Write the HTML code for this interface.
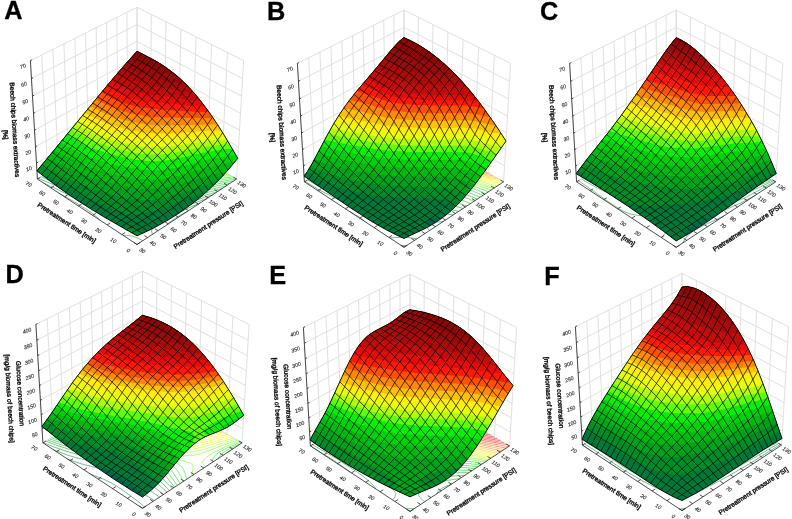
<!DOCTYPE html>
<html><head><meta charset="utf-8"><title>Figure</title>
<style>html,body{margin:0;padding:0;background:#fff}svg{display:block;font-family:"Liberation Sans",sans-serif}</style></head>
<body><svg width="792" height="519" viewBox="0 0 792 519">
<rect width="792" height="519" fill="#fff"/>
<g><path d="M37.4 179L30.4 60.6M47.9 173L41.7 55M58.3 167L52.9 49.4M68.6 161L63.9 43.9M78.7 155.2L74.8 38.4M88.8 149.4L85.5 33.1M98.7 143.7L96.1 27.8M108.4 138.1L106.5 22.6M118.1 132.6L116.8 17.4M127.6 127.1L126.9 12.4M137 121.7L137 7.3M236.6 179L243.6 60.6M221.5 170.4L227.4 52.5M206.8 161.9L211.6 44.6M192.3 153.5L196.1 36.9M178.1 145.4L180.9 29.3M164.1 137.3L166 21.8M150.4 129.4L151.3 14.5M137 121.7L137 7.3M37.4 179L137 121.7L236.6 179M36.4 163.1L137 106.2L237.5 163.1M35.5 146.8L137 90.5L238.5 146.8M34.5 130.2L137 74.5L239.5 130.2M33.5 113.3L137 58.1L240.5 113.3M32.5 96.1L137 41.5L241.5 96.1M31.4 78.5L137 24.6L242.5 78.5M30.4 60.6L137 7.3L243.6 60.6" fill="none" stroke="#dcdcdc" stroke-width="0.9"/>
<g fill="none" stroke-width="0.6" opacity="0.9"><path d="M166.8 224.9L169.4 222.4L174.2 218.9L179.4 215.7L187.7 211.2" stroke="#007838"/><path d="M152.3 234.5L151.6 231.1L152.1 229.2L154.3 226.1L157.4 223.6L162.7 220.4L172.3 215.6L188 208.2L199.9 203.1M58.6 193L73.5 201.3L87.1 209.7L95 215.4L99.9 220.2" stroke="#007838"/><path d="M142.8 240.7L136.8 237.7L132.2 236.1L126.6 235.2L123 235.4M43.3 182.9L58.7 190L88 204.9L101.5 211.3L119.9 219.3L124.5 220.8L129.9 221.8L133.9 221.9L141.2 221.2L146.2 220.2L155.2 217.8L168.7 213.3L195.7 202.6L207 198.5" stroke="#008c28"/><path d="M38.5 178.4L55.9 185.7L85.9 200L98.2 204.9L107.1 207.9L118.8 211.3L126.3 213.1L134.6 214.4L140.9 214.8L148.2 214.5L155.2 213.5L162.6 211.8L175.6 207.9L202 198.2L212.5 194.9" stroke="#008c28"/><path d="M41.3 176.8L58.6 184.1L85.1 196.3L97.7 201.1L106.7 203.9L123.9 208.1L131.8 209.6L140.3 210.6L147.1 210.8L153.6 210.3L159.4 209.5L166.8 207.9L178.4 204.5L204.3 195.5L217 191.9" stroke="#00a41c"/><path d="M44.8 174.7L61.8 182.2L78.7 190L95.1 196.4L108.8 200.5L123.7 203.9L134.2 205.9L141 206.7L146.2 207L153.3 206.8L160.4 206L166.6 204.8L178.1 201.8L204 193.3L222 188.6" stroke="#00a41c"/><path d="M48.3 172.8L77.9 186.5L87.9 190.6L96.3 193.6L107.7 197L122.5 200.4L132.9 202.4L143 203.6L154.8 203.7L162.1 202.9L167.9 201.8L179.2 198.9L205.3 190.7L226.3 185.8" stroke="#00bc10"/><path d="M51.7 170.8L79 183.9L88.9 188L97.3 191L108.7 194.3L121 197.2L133.9 199.7L142.4 200.7L148.7 201.1L155.7 200.9L161.5 200.3L168.7 199.2L179.1 196.6L206 188.5L215.6 186.2L230.1 183.3" stroke="#00bc10"/><path d="M55 168.9L70.7 177L79.9 181.4L89.7 185.5L98.2 188.4L109.6 191.7L124.2 195.2L134.6 197.1L144.6 198.3L156.4 198.4L163.8 197.6L169.1 196.7L178.8 194.3L206 186.5L218.2 183.8L233.5 181" stroke="#00d408"/><path d="M58.4 166.9L71.8 174.4L78.9 178L88.5 182.2L97.1 185.3L110.3 189.2L124.9 192.7L138 195L146.7 195.9L157.6 195.9L168.8 194.4L178.5 192.1L206.1 184.5L218.4 182L236.5 179" stroke="#00d408"/><path d="M61.7 165L78.1 174.6L89.4 179.7L97.5 182.8L111 186.8L125.5 190.2L135.8 192.1L146.9 193.4L157.2 193.5L168.5 192.2L175.9 190.6L206.1 182.6L218.7 180.2L234.6 177.9" stroke="#08f008"/><path d="M64.9 163.2L75.9 170.1L81 172.9L90.3 177.1L98.4 180.3L111.8 184.3L123.7 187.2L136.4 189.7L146.1 190.9L156.7 191.1L165.7 190.3L175.5 188.3L196.6 182.9L206.2 180.7L216.4 178.9L232.6 176.8" stroke="#08f008"/><path d="M68.1 161.3L79 168.3L84.1 171.1L91.5 174.5L99.4 177.7L110.4 181.1L124.6 184.6L136.6 187L145.5 188.2L155.9 188.6L166.4 187.7L176.1 185.8L203.9 179.3L216.8 177.2L230.7 175.6" stroke="#60ff08"/><path d="M70.4 160L79.6 166L86.3 169.8L93.7 173.2L101.7 176.3L112.7 179.6L127 183.1L136.8 185.1L145.4 186.2L156.2 186.7L165.9 185.9L175.2 184.3L204.7 177.9L215.3 176.3L229.3 174.8" stroke="#60ff08"/><path d="M72.6 158.7L86.9 167.5L94.1 171L102 174.1L112.9 177.5L124.6 180.5L136.8 183L145.4 184.2L156.3 184.7L165.5 184.1L174.4 182.6L203.1 176.9L216.4 175.1L227.9 174" stroke="#b0ff08"/><path d="M74.9 157.4L89.2 166.2L96.5 169.6L104.5 172.7L115.4 176L126.7 178.9L136.7 180.9L145.4 182.1L154.4 182.7L165.2 182.2L173.8 180.9L204 175.5L214.9 174.2L226.5 173.2" stroke="#b0ff08"/><path d="M77.1 156.2L84.9 161L91.5 164.8L97 167.4L104.9 170.5L115.7 173.9L126.4 176.6L136.4 178.7L145.4 180L154.4 180.6L165 180.2L177.6 178.5L202.3 174.5L216.2 173L225.1 172.4" stroke="#e8ff08"/><path d="M79.3 154.9L87.2 159.7L93.9 163.4L99.4 165.9L107.4 169L118.3 172.3L127.5 174.7L136.1 176.5L144.9 177.8L154.5 178.5L164.9 178.2L176.9 176.9L203.3 173.2L223.6 171.6" stroke="#e8ff08"/><path d="M81.5 153.6L94.5 161.1L101.8 164.5L107.8 166.8L118.6 170.1L127.8 172.5L137.6 174.6L144.6 175.6L154.6 176.4L164.7 176.2L176.2 175.3L201.6 172.2L222.2 170.8" stroke="#ffee08"/><path d="M83.7 152.3L96.8 159.8L108.2 164.6L125.7 169.8L135.3 172L143.1 173.3L154.6 174.3L164.5 174.3L175.5 173.6L202.7 170.9L220.7 169.9" stroke="#ffee08"/><path d="M85.9 151.1L97.4 157.6L108.5 162.5L125.8 167.7L135.4 169.9L143.1 171.2L154.5 172.3L167.6 172.4L178.5 171.8L200.9 169.9L219.2 169.1" stroke="#ffc008"/><path d="M88.7 149.5L100.2 155.9L111.4 160.8L128.8 166L143.3 168.8L155.1 169.9L167.9 170.2L201.7 168.4L217.3 168" stroke="#ffc008"/><path d="M91.4 147.9L102.9 154.3L114.2 159.1L129.4 163.7L142.5 166.3L152.5 167.5L164.7 168L215.4 166.8" stroke="#ff8808"/><path d="M94.2 146.3L105.6 152.8L114.8 156.8L129.8 161.4L141.9 163.9L152.8 165.3L164.9 165.9L213.4 165.7" stroke="#ff8808"/><path d="M97 144.7L108.2 151.2L117.5 155.3L130.3 159.2L141 161.5L153.1 163.1L165 163.8L211.3 164.5" stroke="#ff5008"/><path d="M99.8 143.1L109.2 148.8L118.1 153L128.5 156.4L140.2 159.1L150.7 160.6L165.1 161.7L192.6 162.9L209.2 163.3" stroke="#ff5008"/><path d="M102.6 141.5L111.9 147.2L118.9 150.6L128.3 153.9L139.2 156.5L148.1 158L156.8 158.9L188.7 161.2L207 162" stroke="#ff1808"/><path d="M104.9 140.1L114.1 145.9L121.1 149.3L129.3 152.1L138.4 154.4L154 156.7L190.5 160.1L205.1 160.9" stroke="#ff1808"/><path d="M107.2 138.8L114.8 143.6L121.6 147.1L129.6 150L138.5 152.3L148.7 154L186.7 158.5L203.1 159.8" stroke="#e40c0c"/><path d="M109.6 137.4L117.2 142.2L124 145.7L132.1 148.5L138.2 150.1L147.3 151.8L167.8 154.3L185.7 157.1L201.1 158.6" stroke="#e40c0c"/><path d="M112 136.1L119.7 140.8L124.8 143.4L130.5 145.7L137.3 147.7L146.4 149.6L168.2 152.7L184.8 155.6L198.9 157.3" stroke="#c40c0c"/><path d="M115.1 134.3L121.4 138L128.2 141.4L133.9 143.7L140.3 145.6L149.7 147.6L167.8 150.5L181.8 153.5L196 155.7" stroke="#c40c0c"/><path d="M118.2 132.5L129.7 138.7L135.3 141L141.4 143L150.4 145.3L167.8 148.7L181.3 151.8L192.8 153.8" stroke="#aa0c0c"/><path d="M121.3 130.7L133 136.8L138.5 139.1L144.5 141.2L155.5 144.1L189.4 151.9" stroke="#aa0c0c"/><path d="M124.5 128.8L136.1 134.9L147.5 139.4L158.1 142.6L185.5 149.6" stroke="#960c0c"/><path d="M127.8 127L139.3 133.1L150.3 137.8L160.5 141.2L181.1 147.1" stroke="#960c0c"/><path d="M131.1 125.1L142.3 131.3L151.1 135.4L160.7 139.1L175.7 144" stroke="#8a0808"/><path d="M134.4 123.2L150.3 132.1L159.3 136.2L168.1 139.6" stroke="#8a0808"/></g>
<g stroke="none" fill-rule="evenodd"><path d="M137 235.8L145.8 231.8L152.9 228.4L166.7 220.8L173.5 216.7L180.2 212.3L191.9 203.9L198.6 198.7L205.2 193.1L211.7 187L216.6 182.2L223.1 175.5L228 170L237.8 158.3L224.3 135.4L217.6 124.7L212.5 117.1L205.7 107.5L200.6 100.9L195.5 94.6L188.7 87.1L183.6 81.9L178.5 77.2L173.4 73L166.7 68L161.7 64.6L155 60.6L148.4 57L137 51.2L122.3 67.7L107.5 85.1L55.7 148.3L36.9 170.8L46.4 178.3L57.5 186.7L67.2 193.5L78.7 201.2L90.3 208.6L103.8 216.8L137 235.8Z" fill="#00644a"/><path d="M138.8 235L152.9 228.4L166.8 220.7L169.5 218.2L174.3 214.7L181.3 210.5L187.8 207L193.6 202.6L205.2 193.1L216.6 182.2L228 170L237.8 158.3L224.3 135.4L212.5 117.1L200.6 100.9L195.5 94.6L188.7 87.1L178.5 77.2L173.4 73L166.7 68L155 60.6L137 51.2L122.3 67.7L107.5 85.1L36.9 170.8L57.5 186.7L78.7 201.2L103.8 216.8L137 235.8Z" fill="#007838"/><path d="M138.8 235L142.9 233.2L138 230.7L134.6 229.3L129.6 228L126.5 227.7L123 227.9L137 235.8ZM200.2 193.6L207.3 191.1L210.1 188.6L218.2 180.6L224.8 173.7L237.8 158.3L224.3 135.4L212.5 117.1L200.6 100.9L195.5 94.6L188.7 87.1L178.5 77.2L173.4 73L166.7 68L155 60.6L137 51.2L122.3 67.7L107.5 85.1L36.9 170.8L42.9 175.6L58.4 182.6L91.6 199.4L115.6 210.2L122.1 212.7L127 214L133.1 214.5L136.9 214.3L142.7 213.5L151.9 211.4L168.8 205.9L200 193.7Z" fill="#008c28"/><path d="M213.9 182.3L217.5 181.3L228 170L237.8 158.3L231.1 146.7L219.3 127.3L207.4 109.8L197.2 96.7L187 85.3L176.8 75.8L171.7 71.7L165 66.8L153.3 59.7L137 51.2L122.3 67.7L107.5 85.1L40.7 166.3L58.1 173.6L84.8 185.8L95.2 189.7L106.5 193.3L118.9 196.3L129 198.5L137.4 199.7L143.7 200.1L150.9 199.9L156.6 199.3L164.6 197.8L178.7 193.9L202.5 185.6L211.8 182.8Z" fill="#00a41c"/><path d="M223.6 171.9L227 171.1L237.8 158.3L220.9 130L207.4 109.8L198.9 98.7L192.1 90.8L183.6 81.9L175.1 74.4L166.7 68L158.3 62.5L150 57.9L137 51.2L122.3 67.7L107.5 85.1L47.5 158.2L77.4 171.8L87.4 175.9L96 178.9L107.5 182.2L117.3 184.5L132.9 187.6L141.4 188.7L147.8 189.1L155 188.9L162.4 188.1L168.2 187L179.6 184.2L204.4 176.4L222 172.2Z" fill="#00bc10"/><path d="M232 162.7L234.6 162.2L237.8 158.3L226 138.2L215.9 122.1L205.7 107.5L195.5 94.6L188.7 87.1L183.6 81.9L176.8 75.8L170 70.4L163.3 65.7L156.7 61.6L137 51.2L122.3 67.7L107.5 85.1L54.1 150.2L77.3 161.7L87.1 165.9L95.6 168.9L106.9 172.2L119 175.2L131.9 177.7L143.2 179.2L149.5 179.5L156.6 179.4L164.1 178.6L169.5 177.7L179.2 175.4L206.8 167.7L216.6 165.5L229.9 163.1Z" fill="#00d408"/><path d="M233.3 155.3L235.9 154.9L226 138.2L217.6 124.7L210.8 114.6L204 105.3L197.2 96.7L190.4 88.9L185.3 83.6L178.5 77.2L173.4 73L166.7 68L155 60.6L137 51.2L122.3 67.7L107.5 85.1L60.6 142.3L77.3 151.7L86.8 155.9L94.9 159.1L107.7 163L120.3 166L133.1 168.6L144.3 170.1L154.2 170.5L160.5 170.2L166.2 169.5L176.4 167.5L207.1 159.6L217.2 157.7L232.1 155.5Z" fill="#08f008"/><path d="M232.2 148.5L219.3 127.3L209.1 112.2L197.2 96.7L187 85.3L176.8 75.8L171.7 71.7L165 66.8L153.3 59.7L137 51.2L124 65.8L109.2 83.1L67.1 134.4L78.1 141.3L83.2 144.1L90.7 147.4L98.8 150.6L112.3 154.5L126.6 157.9L136.5 159.8L145.7 160.9L156.2 161.3L166.9 160.4L176.8 158.6L205 152.2L218.1 150.1L229.5 148.8Z" fill="#60ff08"/><path d="M229.5 144L217.6 124.7L207.4 109.8L195.5 94.6L185.3 83.6L175.1 74.4L165 66.8L153.3 59.7L137 51.2L110.8 81.1L71.5 129L86 137.6L93.3 141L101.4 144.1L112.5 147.5L124.4 150.4L136.8 152.9L145.6 154.1L156.6 154.6L166 153.9L175.1 152.5L204.3 146.9L217.9 145L229.2 144.1Z" fill="#b0ff08"/><path d="M226.8 139.5L215.9 122.1L205.7 107.5L195.5 94.6L185.3 83.6L175.1 74.4L165 66.8L153.3 59.7L137 51.2L110.8 81.1L75.9 123.5L83.9 128.3L90.7 132L96.2 134.5L104.3 137.6L115.3 140.9L126.2 143.6L136.4 145.7L145.5 146.9L154.7 147.5L165.6 147.1L178.4 145.5L203.6 141.6L214.8 140.3L225.1 139.6Z" fill="#e8ff08"/><path d="M224 134.9L214.2 119.6L204 105.3L193.8 92.7L183.6 81.9L173.4 73L163.3 65.7L153.3 59.7L137 51.2L112.5 79.2L80.4 118.1L93.6 125.5L101.1 128.8L107.2 131L125.2 136.1L135.1 138.2L143.1 139.4L154.9 140.4L165.3 140.3L177 139.3L202.9 136.3L221.1 135Z" fill="#ffee08"/><path d="M221.1 130.3L210.8 114.6L200.6 100.9L192.1 90.8L181.9 80.3L173.4 73L163.3 65.7L153.3 59.7L137 51.2L114.1 77.3L84.8 112.7L96.5 119L107.9 123.8L125.6 129L135.3 131.1L143.2 132.4L154.9 133.5L168.3 133.5L179.4 132.9L202.4 131.1L220.8 130.3Z" fill="#ffc008"/><path d="M217.3 124.4L207.4 109.8L198.9 98.7L190.4 88.9L180.2 78.8L171.7 71.7L161.7 64.6L151.7 58.8L137 51.2L115.8 75.3L90.3 105.9L102.1 112.2L111.5 116.1L126.8 120.7L141.6 123.7L152.9 125L165.4 125.5L214.4 124.4Z" fill="#ff8808"/><path d="M213.3 118.3L204 105.3L195.5 94.6L187 85.3L178.5 77.2L170 70.4L160 63.6L150 57.9L137 51.2L117.4 73.4L95.9 99.1L105.7 104.5L114.9 108.6L127.8 112.6L139.9 115.2L150.7 116.7L162.6 117.6L211.7 118.3Z" fill="#ff5008"/><path d="M209 112.2L200.6 100.9L193.8 92.7L185.3 83.6L176.8 75.8L168.4 69.2L160 63.6L150 57.9L137 51.2L120.7 69.6L101.6 92.2L111.1 97.8L118.4 101.1L126.7 103.9L138.3 106.7L148.5 108.3L157.3 109.2L190.3 111.4L205.9 112.1Z" fill="#ff1808"/><path d="M205.2 106.8L197.2 96.7L190.4 88.9L183.6 81.9L175.1 74.4L166.7 68L158.3 62.5L150 57.9L137 51.2L122.3 67.7L106.3 86.5L114.1 91.2L121.1 94.6L129.3 97.4L138.6 99.6L149 101.2L188.2 105.6L203 106.7Z" fill="#e40c0c"/><path d="M201 101.3L193.8 92.7L187 85.3L180.2 78.8L171.7 71.7L165 66.8L156.7 61.6L137 51.2L111.2 80.7L119.2 85.3L124.4 87.8L130.3 90L136.8 91.9L146.7 93.8L169.2 96.8L186.3 99.7L200.3 101.3Z" fill="#c40c0c"/><path d="M194.8 93.8L188.7 87.1L181.9 80.3L176.8 75.8L170 70.4L163.3 65.7L156.7 61.6L137 51.2L117.5 73.2L129.5 79.2L135.2 81.4L141.5 83.4L150.8 85.6L193.2 93.6Z" fill="#aa0c0c"/><path d="M187.4 85.7L176.8 75.8L171.7 71.7L165 66.8L153.3 59.7L137 51.2L124.1 65.7L136.1 71.5L147.8 75.9L158.8 78.9L186.8 85.6Z" fill="#960c0c"/><path d="M177.2 76.1L168.4 69.2L160 63.6L150 57.9L137 51.2L130.8 58L142.5 64L151.7 67.9L161.7 71.4L176.7 76Z" fill="#8a0808"/></g>
<path d="M142.3 233.4L110.8 213.8L93.1 202.1L78.2 191.7L63.5 181.1L42 164.7M147.6 231L116.1 209.7L105.9 202.6L47.2 158.6M152.9 228.4L113.7 199.7L78.7 171.9L64.2 161L52.3 152.4M158.1 225.6L118.9 194.6L96.2 175.1L83.8 165L71.7 156L57.4 146.3M163.2 222.8L129.2 193.5L106.3 172.9L93.9 162.1L86.5 156.3L79.2 150.9L74.4 147.6L62.4 140.1M168.4 219.8L119.1 173.2L109 164L101.5 157.5L94.1 151.5L84.3 144.3L79.4 141.1L67.5 133.9M173.5 216.7L137 179.1L126.7 169.1L114.1 157.5L104.1 149.1L94.2 141.5L84.5 134.9L72.6 127.7M178.6 213.4L147.2 178.3L139.5 170.2L129.3 160.3L114.2 147.1L101.8 137.3L92 130.4L77.6 121.5M183.6 210L173.1 197.5L157.5 178.3L152.4 172.3L144.6 164L137 156.5L129.3 149.7L121.8 143.3L106.9 131.4L97.1 124.4L82.6 115.3M188.6 206.4L178.2 193.2L165.2 176.1L160 169.6L154.9 163.6L147.2 155.6L139.5 148.4L131.9 141.7L121.9 133.3L111.9 125.4L102.1 118.3L94.8 113.5L87.6 109.2M193.6 202.6L183.2 188.8L170.3 170.9L165.1 164.2L160 158.1L152.2 150.1L144.6 142.9L137 136L126.9 127.4L117 119.3L107.1 112L99.8 107.4L92.6 103.1M198.6 198.7L190.8 188L177.9 169.5L172.7 162.4L165 153.1L157.3 144.9L149.6 137.4L139.5 128L129.4 119.2L122 113L117 109.2L112.1 105.7L104.8 101.2L97.6 97M203.5 194.5L195.7 183.6L182.9 164.7L177.7 157.6L170 148.2L159.8 137.1L149.6 127L142 119.8L134.5 113L127 106.8L122 102.9L117.1 99.5L109.8 95L102.6 91M208.4 190.1L203.3 182.8L187.9 159.8L182.7 152.8L177.6 146.3L172.4 140.3L159.7 126.4L152.1 118.7L144.5 111.5L137 104.9L132 100.7L124.6 95.1L119.7 91.8L107.5 85.1M213.3 185.5L195.4 158.8L187.7 148L182.6 141.3L177.4 135.1L164.7 120.8L157.1 113L152 108.1L144.5 101.3L137 94.9L132 91.1L127.1 87.7L119.7 83.2L112.5 79.2M218.2 180.6L200.3 153.7L192.6 142.8L182.4 129.6L177.3 123.6L169.6 115.1L164.6 109.9L157 102.6L149.4 95.7L141.9 89.3L137 85.5L132 82.1L124.7 77.5L117.4 73.4M223.1 175.5L205.3 148.3L197.6 137.3L187.4 123.8L182.3 117.6L177.2 111.9L172.1 106.7L159.4 94.6L151.9 87.8L146.9 83.6L141.9 79.8L137 76.4L129.6 71.9L122.3 67.7M228 170L210.2 142.5L200 127.7L194.9 120.7L189.8 114.3L182.1 105.6L177 100.4L161.8 86L154.3 79.5L149.3 75.7L141.9 70.6L137 67.6L127.2 62.1M232.9 164.3L215.1 136L205 120.8L199.9 113.8L194.8 107.3L187.1 98.6L182 93.3L171.8 83.6L164.3 76.9L159.2 73L154.2 69.4L146.8 64.7L132.1 56.6M131.6 232.8L139.6 228.7L147.5 224.5L160.5 216.6L173.3 207.6L180.9 201.8L188.4 195.8L203.3 182.8L213.1 173L222.9 162.1L227.8 156L232.8 149.5M126.3 229.8L134.3 225.3L142.2 220.6L150.1 215.5L155.2 211.8L168 201.8L183.2 188.8L198.1 175.2L205.5 167.8L210.5 162.6L215.4 157.1L220.3 151.2L225.2 144.6L227.7 141M121.1 226.8L134.3 218.5L144.8 211.1L155.1 202.7L165.4 193.5L193 167.4L202.9 157.5L207.8 152.2L212.7 146.4L217.7 140L222.6 132.7M115.8 223.8L129.1 214.9L137 208.9L144.8 202.3L152.5 195L172.8 174.4L192.8 155L200.2 147.4L205.2 141.7L210.1 135.4L217.6 124.7M110.7 220.8L121.3 213.2L129.2 207.1L137 200.2L142.1 195L167.7 167.5L187.7 148L195.1 140.1L202.5 131.3L207.5 124.5L212.5 117.1M105.5 217.8L113.5 211.8L121.4 205.5L126.6 200.8L131.8 195.7L139.5 187.2L154.9 169.4L160 163.7L165.1 158.5L182.6 141.3L190 133.3L197.4 124.1L202.4 117.2L207.4 109.8M100.4 214.7L108.4 208.4L116.2 201.7L121.5 196.7L126.7 191.2L131.8 185.3L147.2 166.6L152.3 160.8L159.9 152.8L174.9 137.7L184.9 126.8L192.3 117.4L197.3 110.5L202.3 103M95.3 211.7L108.5 200.2L113.8 195.2L119 189.7L124.1 183.6L137 167.6L144.6 158.5L152.2 150.1L169.8 131.9L179.8 120.7L187.2 111.2L192.2 104.2L197.2 96.7M90.3 208.6L103.5 196.4L111.3 188.1L116.4 182L131.9 162.7L137 156.5L144.6 148L162.2 129.1L172.2 117.8L177.2 111.9L182.1 105.6L187.1 98.6L192.1 90.8M85.3 205.4L95.8 195.2L103.6 186.8L111.4 177.4L124.2 161.2L131.9 152L154.6 126.7L172.1 106.7L177 100.4L179.5 96.9L187 85.3M80.3 202.2L88.2 194.2L96 185.6L103.8 176.2L116.6 159.8L124.3 150.5L169.5 98.8L174.4 92.1L181.9 80.3M75.4 199L83.2 190.6L91 181.6L109 158.6L116.7 149.2L131.9 131.7L149.5 111L159.5 99.9L164.4 94L169.4 87.3L176.8 75.8M70.5 195.7L78.3 187L83.5 180.8L101.5 157.5L109.1 148.1L126.9 127.4L142 109.2L156.9 92.3L164.3 82.6L171.7 71.7M65.6 192.4L73.4 183.4L78.6 177.1L99.1 150.2L119.4 126.4L137 104.9L149.4 90.7L154.3 84.7L159.3 78.3L166.7 68M60.7 189L68.5 179.8L73.7 173.3L89 152.9L94.1 146.4L114.4 122.4L132 100.7L149.4 80.6L161.7 64.6M55.9 185.5L66.3 173L81.6 152.6L89.3 142.9L107 121.7L127 96.9L144.4 76.9L156.7 61.6M51.1 182L61.4 169.4L76.8 149.2L84.4 139.5L102.1 118.3L122.1 93.4L139.4 73.5L151.7 58.8M46.4 178.3L56.7 165.8L77 139.6L97.2 115.1L114.7 93.3L146.7 56.1M41.6 174.6L54.4 159L74.8 133.6L109.9 90.6L122.2 76.1L141.8 53.7" fill="none" stroke="#000" stroke-width="0.7"/>
<path d="M137 235.8L145.8 231.8L152.9 228.4L166.7 220.8L173.5 216.7L180.2 212.3L191.9 203.9L198.6 198.7L205.2 193.1L211.7 187L216.6 182.2L223.1 175.5L228 170L237.8 158.3L224.3 135.4L217.6 124.7L212.5 117.1L205.7 107.5L200.6 100.9L195.5 94.6L188.7 87.1L183.6 81.9L178.5 77.2L173.4 73L166.7 68L161.7 64.6L155 60.6L148.4 57L137 51.2L122.3 67.7L107.5 85.1L55.7 148.3L36.9 170.8L46.4 178.3L57.5 186.7L67.2 193.5L78.7 201.2L90.3 208.6L103.8 216.8L137 235.8Z" fill="none" stroke="#000" stroke-width="0.9"/>
<path d="M30.4 60.6L37.4 179L137 244.5L236.6 179M36.4 163.1L38 162.2M35.5 146.8L37.1 145.9M34.5 130.2L36.1 129.4M33.5 113.3L35.1 112.5M32.5 96.1L34.1 95.2M31.4 78.5L33.1 77.7M30.4 60.6L32.1 59.8M137 244.5L140.2 242.4M121.9 234.6L125.1 232.6M107.1 224.9L110.3 222.9M92.6 215.4L95.8 213.4M78.4 206L81.6 204.1M64.4 196.8L67.6 194.9M50.8 187.9L54 186M37.4 179L40.5 177.2M137 244.5L133.8 242.4M147.6 237.6L144.4 235.5M158 230.7L154.8 228.7M168.3 223.9L165.1 221.9M178.5 217.3L175.3 215.3M188.5 210.7L185.3 208.7M198.4 204.2L195.2 202.2M208.1 197.8L204.9 195.8M217.7 191.4L214.5 189.6M227.2 185.2L224 183.3M236.6 179L233.4 177.2" fill="none" stroke="#222" stroke-width="0.8"/>
<g font-size="5.3" fill="#222" stroke="#222" stroke-width="0.12" font-style="italic"><text x="32.4" y="169.6" text-anchor="end" transform="rotate(-20 32.4 169.6)">10</text><text x="31.5" y="153.3" text-anchor="end" transform="rotate(-20 31.5 153.3)">20</text><text x="30.5" y="136.7" text-anchor="end" transform="rotate(-20 30.5 136.7)">30</text><text x="29.5" y="119.8" text-anchor="end" transform="rotate(-20 29.5 119.8)">40</text><text x="28.5" y="102.6" text-anchor="end" transform="rotate(-20 28.5 102.6)">50</text><text x="27.4" y="85" text-anchor="end" transform="rotate(-20 27.4 85)">60</text><text x="26.4" y="67.1" text-anchor="end" transform="rotate(-20 26.4 67.1)">70</text><text x="127.5" y="252" text-anchor="middle" transform="rotate(30 127.5 252)">0</text><text x="112.4" y="242" text-anchor="middle" transform="rotate(30 112.4 242)">10</text><text x="97.6" y="232.1" text-anchor="middle" transform="rotate(30 97.6 232.1)">20</text><text x="83.1" y="222.5" text-anchor="middle" transform="rotate(30 83.1 222.5)">30</text><text x="68.9" y="213.1" text-anchor="middle" transform="rotate(30 68.9 213.1)">40</text><text x="55" y="203.8" text-anchor="middle" transform="rotate(30 55 203.8)">50</text><text x="41.3" y="194.7" text-anchor="middle" transform="rotate(30 41.3 194.7)">60</text><text x="27.9" y="185.8" text-anchor="middle" transform="rotate(30 27.9 185.8)">70</text><text x="141.2" y="252" text-anchor="middle" transform="rotate(33 141.2 252)">30</text><text x="151.8" y="244.9" text-anchor="middle" transform="rotate(33 151.8 244.9)">40</text><text x="162.2" y="238" text-anchor="middle" transform="rotate(33 162.2 238)">50</text><text x="172.5" y="231.2" text-anchor="middle" transform="rotate(33 172.5 231.2)">60</text><text x="182.7" y="224.4" text-anchor="middle" transform="rotate(33 182.7 224.4)">70</text><text x="192.7" y="217.8" text-anchor="middle" transform="rotate(33 192.7 217.8)">80</text><text x="202.6" y="211.2" text-anchor="middle" transform="rotate(33 202.6 211.2)">90</text><text x="212.3" y="204.7" text-anchor="middle" transform="rotate(33 212.3 204.7)">100</text><text x="221.9" y="198.3" text-anchor="middle" transform="rotate(33 221.9 198.3)">110</text><text x="231.4" y="192.1" text-anchor="middle" transform="rotate(33 231.4 192.1)">120</text><text x="240.7" y="185.8" text-anchor="middle" transform="rotate(33 240.7 185.8)">130</text></g>
<g font-size="6.55" fill="#111" stroke="#111" stroke-width="0.4"><text x="65.5" y="224.7" text-anchor="middle" transform="rotate(33.3 65.5 224.7)">Pretreatment time [min]</text><text x="209.5" y="226.7" text-anchor="middle" transform="rotate(-33.3 209.5 226.7)">Pretreatment pressure [PSI]</text><g transform="translate(12.5 129.8) rotate(86.6)"><text x="0" y="0" text-anchor="middle">Beech chips biomass extractives</text><text x="4.5" y="9.5" text-anchor="middle">[%]</text></g></g></g>
<g><path d="M304.4 181.8L297.4 63.4M314.9 175.8L308.7 57.8M325.3 169.8L319.9 52.2M335.6 163.8L330.9 46.7M345.7 158L341.8 41.2M355.8 152.2L352.5 35.9M365.7 146.5L363.1 30.6M375.4 140.9L373.5 25.4M385.1 135.4L383.8 20.2M394.6 129.9L393.9 15.2M404 124.5L404 10.1M503.6 181.8L510.6 63.4M488.5 173.2L494.4 55.3M473.8 164.7L478.6 47.4M459.3 156.3L463.1 39.7M445.1 148.2L447.9 32.1M431.1 140.1L433 24.6M417.4 132.2L418.3 17.3M404 124.5L404 10.1M304.4 181.8L404 124.5L503.6 181.8M303.4 165.9L404 109L504.5 165.9M302.5 149.6L404 93.3L505.5 149.6M301.5 133L404 77.3L506.5 133M300.5 116.1L404 60.9L507.5 116.1M299.5 98.9L404 44.3L508.5 98.9M298.4 81.3L404 27.4L509.5 81.3M297.4 63.4L404 10.1L510.6 63.4" fill="none" stroke="#dcdcdc" stroke-width="0.9"/>
<g fill="none" stroke-width="0.6" opacity="0.9"><path d="M429.6 230.5L428.1 228.8L427.4 227.4L427.1 226L428.2 224.4L430 223.4L435 222.1L443.1 221.6M349.1 211.2L359.8 217.4L362.9 219.8L364.7 221.5" stroke="#007838"/><path d="M416.8 238.9L410.6 237.8L402.7 237.3L396 237.5L390 238.1M305.1 181.4L319.8 190.3L334.4 197.6L348.8 203.2L355.5 205.3L365.1 207.8L375.5 209.8L386.9 211.2L399.7 211.8L421.7 211.7L432.6 212L442.3 213.1L453 215.1" stroke="#007838"/><path d="M407 245.4L401.4 245.6M307.6 180L319.2 186.7L332.5 192.7L345.4 197.1L362.1 201.3L375.3 203.6L389.7 205.2L402.4 205.8L426.6 206.2L438.1 207L447.3 208.4L458.6 211.4" stroke="#008c28"/><path d="M309.7 178.8L320 184.3L331.8 189.2L347.4 193.9L362.1 197.2L378.1 199.8L389.6 201L402.1 201.7L428.5 202.2L440.8 203L451.4 205L463 208.5" stroke="#008c28"/><path d="M311.5 177.7L322.4 182.9L334.8 187.4L348.6 191.1L366.2 194.7L379.7 196.7L393.2 198.1L404.1 198.5L430.2 199L442.5 199.7L453.2 201.6L459.5 203.4L466.7 206.1" stroke="#00a41c"/><path d="M313.6 176.5L325 181.4L335.7 184.9L349.7 188.4L367.5 191.9L381.1 193.8L395.2 195.1L408.6 195.5L435 195.9L447.2 196.8L457.5 198.8L464.3 201L470.6 203.6" stroke="#00a41c"/><path d="M315.5 175.4L325.3 179.3L336.2 182.7L352.9 186.6L368.3 189.4L382.5 191.3L396.7 192.5L409.5 192.9L436 193.1L448.4 193.8L455.4 194.8L461.4 196.3L467.9 198.6L474 201.3" stroke="#00bc10"/><path d="M317.3 174.4L327.5 178L338.7 181.2L353.2 184.4L371.3 187.5L385.2 189.3L397.4 190.2L411.5 190.6L439.7 190.8L452.1 191.4L457.9 192.3L464.8 194.1L471.2 196.5L477.2 199.2" stroke="#00bc10"/><path d="M319.1 173.3L329.7 176.8L343.6 180.3L361 183.7L379.6 186.5L391.1 187.7L401 188.2L446.3 188.7L458.2 189.6L463.3 190.7L467.9 192L480.2 197.2" stroke="#00d408"/><path d="M320.9 172.3L334.1 176.1L348.4 179.4L366.1 182.6L382.3 184.9L391 185.7L403.2 186.4L449.5 186.7L459.9 187.5L464.8 188.4L470.8 190.2L483 195.4" stroke="#00d408"/><path d="M322.7 171.3L333.8 174.3L350.7 178L368.6 181.2L384.9 183.3L406 184.7L428.8 185L452.4 184.8L461.4 185.5L466.6 186.4L471.3 187.7L485.8 193.6" stroke="#08f008"/><path d="M324.4 170.3L335.9 173.1L355.5 177.1L373.5 180.2L387.3 181.9L399.2 182.7L411.8 183.2L431.4 183.4L455.1 183.1L464 183.8L469.1 184.8L473.7 186.1L488.4 191.8" stroke="#08f008"/><path d="M326.2 169.2L338.9 172.2L362.8 176.7L378.5 179.2L389.6 180.5L401.6 181.3L414.2 181.7L433.7 181.9L454.4 181.5L463.9 181.9L469 182.7L473.7 184L491 190.1" stroke="#60ff08"/><path d="M327.8 168.3L340.5 171.1L367.2 176L380.3 178.1L391.5 179.3L403.5 180.1L419.3 180.6L435.3 180.7L456.4 180.2L465.6 180.7L473.2 182.2L493.2 188.6" stroke="#60ff08"/><path d="M329.4 167.4L371.6 175.4L382.1 177L393.3 178.2L408.5 179.1L427.5 179.6L458.3 179L467.3 179.5L474.8 181.1L488.2 185.4L495.4 187.2" stroke="#b0ff08"/><path d="M331 166.5L375.9 174.8L395.1 177.1L410.3 178L428.3 178.5L457 177.8L467.7 178.3L474 179.5L489.9 184.3L497.7 185.7" stroke="#b0ff08"/><path d="M332.7 165.5L375 173.4L388.3 175.3L402.8 176.5L427.7 177.4L439.7 177.4L458.4 176.8L465.4 177L473 178L491.6 183.2L499.9 184.3" stroke="#e8ff08"/><path d="M334.4 164.5L376.7 172.4L389.9 174.3L401.4 175.3L428.1 176.4L439.3 176.4L456.8 175.8L466.3 176L474.4 177.1L485.9 180.4L493.2 182.1L498.5 182.7L502.1 182.8" stroke="#e8ff08"/><path d="M336.1 163.5L353.7 166.6L378.3 171.4L391.5 173.3L403.1 174.3L427.6 175.4L439.6 175.4L458.3 174.8L467.7 175.1L473.4 175.8L492.2 180.6L497.7 181.3L502.8 181.4" stroke="#ffee08"/><path d="M338 162.5L354 165.2L379.8 170.5L393.1 172.4L401.7 173.2L428.1 174.4L439.1 174.4L459.8 173.8L467 174L474.3 175L491 179.2L496.4 180L500.8 180.2" stroke="#ffee08"/><path d="M339.9 161.4L355.4 164L381.3 169.6L394.6 171.5L403.2 172.2L427.5 173.4L439.7 173.5L458.4 172.9L467.5 173.1L475.5 174.3L490.3 178L498.7 179" stroke="#ffc008"/><path d="M342.5 159.9L357.4 162.5L383.2 168.4L393.7 170L405.1 171L427.8 172.2L439.2 172.3L459.7 171.7L466.6 171.9L474.4 172.9L488.8 176.4L496 177.5" stroke="#ffc008"/><path d="M345.2 158.3L357.5 160.6L385.1 167.3L392.9 168.6L407 169.9L425.6 171L437.8 171.1L460.9 170.5L467.9 170.8L473.3 171.5L487.7 174.9L493.2 175.9" stroke="#ff8808"/><path d="M348.2 156.6L360.1 159.1L384.6 165.7L393.3 167.3L408.8 168.8L426.9 169.8L439.8 169.9L460.3 169.3L466.6 169.5L474.2 170.6L490.4 174.2" stroke="#ff8808"/><path d="M351.3 154.8L360.6 156.9L384.2 164L393.9 166L407.8 167.5L425.7 168.5L438.1 168.6L465.3 168.3L473.5 169.3L487.4 172.5" stroke="#ff5008"/><path d="M354.8 152.8L363.4 155.2L385.7 162.6L390.8 163.9L395.7 164.8L409.8 166.2L427.8 167.2L464.9 167.1L473.3 168.2L484.4 170.8" stroke="#ff5008"/><path d="M358.4 150.7L384.2 160.1L390.6 162.1L395.4 163.1L409 164.7L426.8 165.8L436.9 166L459.2 165.7L465.7 165.9L471.2 166.6L481.3 169" stroke="#ff1808"/><path d="M361 149.2L377.9 156.2L385.8 159.2L392.2 161.2L397 162.2L410.5 163.8L425.3 164.8L464.6 165.1L472.1 166.1L479.2 167.8" stroke="#ff1808"/><path d="M363.6 147.7L377.9 154.3L385.5 157.4L391.7 159.5L398.7 161.2L412.1 162.8L426.7 163.8L463 164.1L470.5 165L477 166.5" stroke="#e40c0c"/><path d="M366.2 146.2L378.2 152.3L387.4 156.3L393.5 158.5L400.5 160.1L411 161.6L425.4 162.7L461.3 163.1L468.9 163.9L474.7 165.2" stroke="#e40c0c"/><path d="M368.8 144.7L378.6 150.2L387.5 154.4L395.4 157.3L402.3 159L410 160.2L421.2 161.3L433.3 161.8L459.5 162L467.3 162.8L472.4 163.9" stroke="#c40c0c"/><path d="M373 142.3L382.3 148L390.9 152.4L398.7 155.4L405.5 157.1L413.1 158.4L422.4 159.3L433.2 159.9L456.2 160.2L463.8 160.8L468.5 161.6" stroke="#c40c0c"/><path d="M377.1 139.9L386 145.8L394.4 150.3L402.1 153.3L408.9 155.1L416.4 156.3L424.7 157.2L433.6 157.7L452.6 158.1L464.2 159.2" stroke="#aa0c0c"/><path d="M381.1 137.7L389.9 143.6L396.4 147.2L403.9 150.4L410.3 152.3L417.5 153.7L425.6 154.7L452 155.8L459.7 156.5" stroke="#aa0c0c"/><path d="M384.9 135.5L392.3 140.3L398.7 144L406 147.3L412.1 149.3L419.2 150.8L427 151.9L454.6 153.6" stroke="#960c0c"/><path d="M388.7 133.3L396.4 137.9L403 141.5L408.4 143.9L414.5 146L421.3 147.6L426.4 148.4L448.9 150.4" stroke="#960c0c"/><path d="M392.7 131L405.9 138L415.3 141.8L420.8 143.3L426.5 144.5L442.2 146.5" stroke="#8a0808"/><path d="M397.2 128.4L409.2 134.2L416.6 137.2L424.9 139.8L433.6 141.5" stroke="#8a0808"/></g>
<g stroke="none" fill-rule="evenodd"><path d="M404 238.4L423.3 229.4L428.5 226.6L433.7 223.7L438.8 220.3L443.9 216.6L449 212.5L454 208L459.1 203L464.1 197.5L469.1 191.7L475.8 183.3L485.9 169.7L506 141.1L499.1 130.4L492.2 120.2L480.2 103.5L473.3 94.7L466.4 86.5L461.3 80.7L454.4 73.5L449.2 68.4L442.4 62.2L435.6 56.6L428.9 51.6L423.8 48.2L417.2 44.1L410.5 40.6L404 37.6L402.3 38.7L399.1 41.5L395.8 44.9L392.5 48.5L374.2 70.6L355.8 92.2L350.8 98.5L345.7 105.3L339 115.2L334 123.3L327.3 135.1L312.4 163.1L307.4 171.4L304 176.1L349 206.8L367.4 218.8L377.7 225L386.3 229.8L395.1 234.3L404 238.4Z" fill="#00644a"/><path d="M405.8 237.6L421.6 230.2L429.7 226L428.2 224.3L427.4 222.9L427.2 221.5L428.2 220L430.1 218.9L435 217.7L443.2 217.2L449 212.5L455.7 206.3L465.8 195.6L475.8 183.3L485.9 169.7L506 141.1L492.2 120.2L480.2 103.5L466.4 86.5L454.4 73.5L442.4 62.2L435.6 56.6L428.9 51.6L417.2 44.1L410.5 40.6L404 37.6L399.1 41.5L392.5 48.5L374.2 70.6L355.8 92.2L345.7 105.3L339 115.2L334 123.3L327.3 135.1L312.4 163.1L307.4 171.4L304 176.1L348.9 206.8L359.6 213L362.8 215.3L364.5 217L367.4 218.8L386.3 229.8L395.1 234.3L404 238.4Z" fill="#007838"/><path d="M405.8 237.6L407 237L401.3 237.2L404 238.4ZM459.1 203L467.5 193.7L477.5 181.1L485.9 169.7L506 141.1L490.5 117.7L475 96.9L461.3 80.7L454.4 73.5L445.8 65.2L437.3 58L427.2 50.4L417.2 44.1L407.2 39L404 37.6L400.7 40.1L397.4 43.1L390.8 50.5L374.2 70.6L355.8 92.2L344 107.7L337.3 117.8L332.3 126.2L314.1 160.1L307.1 171.9L318.8 178.6L332.2 184.5L345.1 188.9L361.9 193.1L375.1 195.4L389.7 197L402.4 197.6L426.7 197.9L438.2 198.7L447.5 200.2L458.9 203.1Z" fill="#008c28"/><path d="M467.5 193.7L474.2 185.4L482.6 174.3L506 141.1L495.7 125.2L487.1 112.8L478.5 101.3L469.9 90.5L461.3 80.7L452.7 71.7L444.1 63.7L435.6 56.6L428.9 51.6L420.5 46.1L412.2 41.4L404 37.6L400.7 40.1L397.4 43.1L390.8 50.5L374.2 70.6L355.8 92.2L344 107.7L337.3 117.8L332.3 126.2L310.9 165.8L316.1 168.5L321.8 171L334.3 175.4L350.6 179.7L365.9 182.7L382.3 185.1L394.3 186.1L430.4 186.9L442.8 187.7L453.6 189.5L459.9 191.3L467.2 194Z" fill="#00a41c"/><path d="M475.8 183.3L485.9 169.7L506 141.1L495.7 125.2L485.4 110.5L475 96.9L466.4 86.5L457.8 77L447.5 66.8L437.3 58L427.2 50.4L415.5 43.2L404 37.6L399.1 41.5L392.5 48.5L350.8 98.5L342.4 110.1L334 123.3L327.3 135.1L314.6 159.1L324.5 163L335.5 166.3L352.4 170.2L367.9 173L384.6 175.1L396.6 176L409.5 176.5L436.3 176.7L448.8 177.3L454.4 178.1L461.9 179.8L468.5 182.1L474.7 184.8Z" fill="#00bc10"/><path d="M482.6 174.3L506 141.1L494 122.7L481.9 105.8L469.9 90.5L459.5 78.8L449.2 68.4L437.3 58L425.5 49.3L413.8 42.3L404 37.6L399.1 41.5L390.8 50.5L374.2 70.6L355.8 92.2L347.4 103L340.7 112.6L334 123.3L327.3 135.1L318.1 152.6L328.8 156L342.8 159.5L363.1 163.3L379.3 165.7L391 166.8L400.3 167.3L446.9 167.8L458.9 168.8L464.1 169.8L468.7 171.1L481.1 176.3Z" fill="#00d408"/><path d="M487.6 167.3L506 141.1L502.6 135.7L488.8 115.3L476.7 99L464.7 84.5L452.7 71.7L440.7 60.8L428.9 51.6L417.2 44.1L410.5 40.6L404 37.6L399.1 41.5L392.5 48.5L374.2 70.6L355.8 92.2L344 107.7L334 123.3L321.5 146.2L332.8 149.2L349.9 152.8L368 155.9L384.6 158.1L406 159.4L429.2 159.7L453.1 159.5L462.3 160.2L467.5 161.1L472.3 162.4L487 168.1Z" fill="#08f008"/><path d="M492.6 160.1L506 141.1L495.7 125.2L485.4 110.5L475 96.9L464.7 84.5L454.4 73.5L444.1 63.7L433.9 55.3L423.8 48.2L413.8 42.3L404 37.6L399.1 41.5L392.5 48.5L374.2 70.6L355.8 92.2L344 107.7L334 123.3L324.9 139.7L337.8 142.6L359.5 146.6L378 149.5L389.4 150.7L401.5 151.5L414.3 151.9L434.3 152.1L455.2 151.7L464.7 152.1L470.1 153L474.9 154.2L492.6 160.2Z" fill="#60ff08"/><path d="M497.6 152.9L506 141.1L497.4 127.8L488.8 115.3L473.3 94.7L464.7 84.5L456.1 75.2L447.5 66.8L439 59.3L430.6 52.8L422.2 47.1L413.8 42.3L404 37.6L399.1 41.5L392.5 48.5L374.2 70.6L355.8 92.2L344 107.7L335.6 120.5L327.9 134L370.9 141.9L381.7 143.4L393.1 144.6L405.4 145.3L424.7 145.9L437.3 145.9L459.4 145.4L468.6 145.9L476.2 147.5L489.8 151.7L497.3 153.4Z" fill="#b0ff08"/><path d="M499.6 146.5L502 146.6L506 141.1L495.7 125.2L485.4 110.5L475 96.9L464.7 84.5L457.8 77L449.2 68.4L442.4 62.2L433.9 55.3L427.2 50.4L418.8 45.1L412.2 41.4L404 37.6L399.1 41.5L394.1 46.7L354.1 94.3L347.4 103L342.4 110.1L337.3 117.8L331.1 128.3L377 136.4L396.6 138.7L428.2 139.9L440.4 139.9L459.7 139.3L469.1 139.7L474.6 140.5L491 145L499 146.4Z" fill="#e8ff08"/><path d="M505.2 139.9L492.2 120.2L480.2 103.5L466.4 86.5L454.4 73.5L442.4 62.2L435.6 56.6L428.9 51.6L417.2 44.1L410.5 40.6L404 37.6L399.1 41.5L394.1 46.7L355.8 92.2L344 107.7L334.5 122.4L352.5 125.4L377.6 130.2L391.2 132L403 133L428.2 134L440.5 134L459.6 133.4L469.3 133.7L474.9 134.4L494.3 139.2L503.2 140Z" fill="#ffee08"/><path d="M501.2 133.6L488.8 115.3L476.7 99L464.7 84.5L452.7 71.7L440.7 60.8L428.9 51.6L417.2 44.1L410.5 40.6L404 37.6L399.1 41.5L394.1 46.7L357.5 90.2L347.4 103L338.2 116.4L354.1 119L383.3 124.9L394.4 126.3L403.2 127L428.1 128.2L441.6 128.2L459.4 127.6L469.2 127.9L475.1 128.6L492.1 132.5L500.5 133.6Z" fill="#ffc008"/><path d="M495.9 125.5L483.6 108.1L471.6 92.6L461.3 80.7L449.2 68.4L439 59.3L427.2 50.4L415.5 43.2L404 37.6L399.1 41.5L392.5 48.5L374.2 70.6L355.8 92.2L349.1 100.7L343.5 108.4L356.2 110.6L384.5 117.2L392.5 118.4L407.1 119.7L426.3 120.7L438.8 120.9L462.6 120.3L469.8 120.6L475.3 121.3L490.2 124.6L495.6 125.5Z" fill="#ff8808"/><path d="M490.2 117.2L478.5 101.3L468.1 88.5L457.8 77L447.5 66.8L437.3 58L425.5 49.3L415.5 43.2L404 37.6L399.1 41.5L392.5 48.5L374.2 70.6L357.5 90.2L349.7 100L361.4 102.6L383.6 108.9L393.6 110.8L407.9 112.2L428.9 113.3L467.3 113.1L475.7 114.1L488.1 116.8Z" fill="#ff5008"/><path d="M484 108.7L475 96.9L464.7 84.5L454.4 73.5L444.1 63.7L433.9 55.3L423.8 48.2L413.8 42.3L404 37.6L399.1 41.5L394.1 46.7L356.9 91L385 100.6L395.1 102.9L409.2 104.5L427.6 105.6L438.1 105.7L461.2 105.5L467.9 105.7L473.5 106.4L483.5 108.5Z" fill="#ff1808"/><path d="M479.7 102.9L469.9 90.5L461.3 80.7L452.7 71.7L442.4 62.2L433.9 55.3L423.8 48.2L413.8 42.3L404 37.6L399.1 41.5L394.1 46.7L362.1 84.8L376.9 91.1L384.9 94.1L391.2 96.2L398.5 97.7L412.4 99.3L427.6 100.3L465.2 100.6L473 101.5L478 102.5Z" fill="#e40c0c"/><path d="M475.1 97L466.4 86.5L457.8 77L449.2 68.4L439 59.3L430.6 52.8L422.2 47.1L413.8 42.3L404 37.6L399.1 41.5L394.1 46.7L367.5 78.6L377.6 83.8L388.8 88.6L395 90.7L402.2 92.3L410.3 93.4L421.9 94.5L434.4 95L461.6 95.2L469.8 96L475 97Z" fill="#c40c0c"/><path d="M466.8 86.9L459.5 78.8L451 70.1L444.1 63.7L435.6 56.6L428.9 51.6L420.5 46.1L412.2 41.4L404 37.6L399.1 41.5L394.1 46.7L376 68.5L385.3 74.1L394 78.4L402.1 81.3L409.1 83L416.9 84.2L425.5 85L454.7 85.8L466.2 86.8Z" fill="#aa0c0c"/><path d="M456.9 76L444.1 63.7L437.3 58L430.6 52.8L423.8 48.2L417.2 44.1L410.5 40.6L404 37.6L400.7 40.1L395.8 44.9L384 58.7L391.8 63.3L398.5 66.8L406 70L412.5 71.9L419.9 73.4L428 74.4L455.5 75.9Z" fill="#960c0c"/><path d="M444.1 63.7L433.9 55.3L423.8 48.2L413.8 42.3L404 37.6L399.1 41.5L392.1 48.9L405.9 55.6L415.8 59.2L427.5 61.8L441.3 63.4Z" fill="#8a0808"/></g>
<path d="M409.3 235.9L398.7 230.6L388.2 224.8L377.9 218.5L367.7 211.8L357.6 204.9L347.7 197.7L316.2 173.8L309.1 168.8M414.6 233.5L401.3 226.2L390.9 219.9L380.6 213.2L367.9 204.3L355.4 194.8L345.5 186.9L335.7 178.8L314.1 160.1M419.9 231.1L406.6 223.2L393.6 214.9L380.7 205.7L368.1 196L355.6 185.7L345.8 176.9L336 167.6L319 150.8M425.1 228.5L409.2 218.4L398.8 211.3L386 201.6L373.3 191.1L360.8 179.9L350.9 170.2L338.6 157.4L324 141.3M430.2 225.7L414.4 215L404 207.5L391.1 197.1L378.5 185.9L368.4 176.1L356 163L341.2 146.5L329 132.1M435.4 222.6L419.5 211.4L409.1 203.4L398.8 194.7L388.7 185.1L378.6 174.9L366.1 161.1L348.7 141.1L334 123.3M440.5 219.1L427.3 209.5L416.8 201.3L409.1 194.6L398.9 184.7L391.2 176.7L381.2 165.3L339 115.2M445.6 215.3L432.4 205.4L424.5 199.1L414.2 189.7L406.5 181.8L401.4 176.2L393.8 167.3L373.7 142.1L366.2 133L358.8 124.3L344 107.7M450.6 211L440.1 203.1L432.2 196.7L424.4 189.6L416.7 181.7L411.6 176L404 166.8L396.4 156.9L381.2 136.5L373.7 127.1L363.8 115.8L349.1 100.7M455.7 206.3L445.1 198.3L437.3 191.7L429.5 184.3L424.3 178.8L416.7 169.8L409 159.8L386.3 127.4L381.3 120.8L376.3 115.1L368.8 107.4L354.1 94.3M460.7 201.2L450.1 193.2L442.3 186.5L434.5 178.7L429.4 172.9L424.3 166.5L416.6 156L409 144.7L393.9 121.6L388.8 114.3L386.3 111.2L381.3 105.9L373.9 99.2L359.2 88.2M465.8 195.6L457.8 189.8L449.9 183.3L444.7 178.4L442.1 175.7L437 169.7L431.9 163.1L424.2 152.1L416.6 140.2L404 119.7L398.9 112L393.9 105.1L391.3 102.2L386.3 97.6L381.4 93.7L374 88.5L364.2 82.3M470.8 189.6L462.8 183.9L454.9 177.5L449.7 172.4L444.6 166.4L439.5 159.6L434.4 152L409 110.2L404 103.1L398.9 97.1L393.9 92.3L388.9 88.5L379 82L369.2 76.5M475.8 183.3L467.8 177.7L462.6 173.6L460 171.3L454.8 166L449.6 159.7L447.1 156.1L442 148.2L426.8 121.6L419.2 109.2L414.1 101.7L411.6 98.3L406.5 92.4L401.4 87.5L398.9 85.4L393.9 81.7L384 75.7L374.2 70.6M480.9 176.6L472.9 171.1L467.6 167L462.4 162.1L457.2 156.1L454.6 152.6L449.5 144.5L434.4 116.7L429.3 108.2L426.8 104.3L421.7 97.1L419.1 93.9L414.1 88L411.5 85.4L406.5 80.9L404 78.9L399 75.4L394 72.3L389 69.5L379.2 64.6M485.9 169.7L477.9 164L472.6 159.9L467.4 154.9L464.8 152L462.2 148.6L459.7 144.9L457.1 140.7L444.5 117L439.4 108L436.9 103.9L434.4 100.1L429.3 93L426.7 89.8L421.6 84L419.1 81.4L414 76.8L406.5 71L401.5 67.8L396.5 64.9L384.2 58.5M490.9 162.5L482.9 156.3L477.7 151.9L472.4 146.9L469.8 143.8L467.3 140.3L462.2 131.9L452.1 112.9L444.5 100.1L441.9 96.3L436.9 89.3L429.2 80.4L421.6 73.1L416.5 68.9L411.5 65.3L401.5 59.1L389.2 52.4M496 155.3L482.7 142.9L477.5 137.4L474.9 134.3L469.8 126.6L457.2 104.4L452.1 96.4L444.4 85.9L436.8 77.2L429.1 69.8L424 65.5L419 61.7L408.9 55.1L394.1 46.7M501 148.1L485.3 129.4L480.1 122.9L475 115.8L464.8 99.9L459.7 92.4L452 82.6L444.3 74.1L439.2 69L434.1 64.5L429 60.3L423.9 56.5L413.9 50L399.1 41.5M398.6 236L417.1 226.6L424.9 222.2L430.1 218.9L437.7 213.4L442.8 209.3L447.9 204.8L452.9 199.9L457.9 194.6L465.5 185.9L473 176.4L478 169.5L483.1 162.2L488.1 154.5L500.8 133M393.3 233.4L411.8 223.4L419.6 218.6L424.8 215.2L432.4 209.5L437.5 205.3L442.6 200.7L450.1 193.2L457.7 184.9L462.7 178.9L470.2 169.1L475.2 162L480.3 154.2L485.4 145.4L495.7 125.2M388.1 230.7L401.3 223.2L409.2 218.4L417 213.3L422.1 209.5L429.7 203.4L434.8 198.9L439.9 194L447.4 186.1L454.9 177.5L460 171.3L467.5 161.2L472.5 153.7L477.6 145.1L480.1 140.2L485.3 129.4L490.5 117.7M382.9 227.9L401.4 216.6L409.2 211.3L416.9 205.5L424.5 199.1L432.1 191.9L437.2 186.8L444.7 178.4L452.3 169.3L459.8 159.3L464.8 152L469.8 143.8L474.9 134.3L477.5 128.8L485.4 110.5M377.7 225L388.3 218.3L396.2 213.1L404 207.5L411.7 201.3L419.3 194.5L424.4 189.6L432 181.6L437 175.8L444.6 166.4L452.1 156.2L457.1 148.9L462.2 140.7L467.3 131.6L472.4 121.4L477.6 109.9L480.2 103.5M372.5 222L383.2 214.9L391 209.4L398.8 203.5L404 199.2L411.6 192.1L416.7 187.1L424.3 178.8L429.4 172.9L437 163.1L442 156L447 148.4L452.1 140.4L457.1 131.8L464.7 117.9L469.9 108L475 96.9M367.4 218.8L383.3 207.6L391.1 201.5L396.3 197L404 189.8L409.1 184.5L416.7 175.9L421.8 169.7L429.3 159.5L434.4 152L439.4 143.9L462.2 104.3L469.9 90.5M362.4 215.6L370.3 209.9L378.2 203.8L383.4 199.5L388.6 194.9L396.3 187.4L401.4 181.9L406.5 176.1L411.6 169.8L419.2 159.6L426.8 148L431.8 139.4L447 112.6L454.6 100.3L464.7 84.5M357.3 212.4L365.3 206.3L373.1 200L378.3 195.4L383.5 190.5L388.7 185.1L393.8 179.4L398.9 173.3L404 166.8L411.6 156.1L419.2 144.2L424.2 135.3L434.4 116.7L442 104L449.5 92.7L459.5 78.8M352.3 209.1L365.5 198.3L370.7 193.6L375.9 188.5L383.6 180.1L388.7 173.9L393.8 167.3L401.4 156.6L409 144.7L416.6 131.6L426.8 112.6L434.4 100.1L441.9 89.2L454.4 73.5M347.3 205.7L360.5 194.4L368.3 186.7L376 178L383.7 168.2L391.3 157.4L398.9 145.5L406.5 132.5L419.2 109.2L424.2 100.6L426.8 96.7L431.8 89.5L436.8 83L449.2 68.4M342.4 202.4L352.9 192.9L360.7 185.1L365.9 179.2L373.6 169.5L381.2 158.6L388.8 146.7L396.4 133.7L409 110.2L414.1 101.7L419.1 93.9L424.2 86.8L429.2 80.4L436.7 71.8L444.1 63.7M337.5 199L345.4 191.5L353.2 183.5L358.3 177.6L366 167.5L373.6 156.4L381.2 144.2L388.8 130.9L401.4 107.5L404 103.1L409 95.3L414.1 88L421.6 78.3L429.1 69.8L439 59.3M332.6 195.6L340.5 187.7L348.2 179.1L353.4 172.7L361 162.1L368.6 150.4L376.2 137.7L381.3 128.7L393.9 105.1L398.9 97.1L404 89.8L409 83.1L416.5 73.8L424 65.5L433.9 55.3M327.8 192.3L335.6 183.8L340.8 177.8L345.9 171.2L353.5 160.3L358.6 152.6L366.2 140.2L373.7 127.1L386.3 104L388.8 99.8L393.9 92.3L401.5 82.1L409 72.8L419 61.7L428.9 51.6M323 188.9L330.7 179.8L335.9 173.4L341 166.3L346.1 158.8L353.6 146.8L361.2 134.3L378.8 103.6L381.3 99.5L386.4 92L396.4 78.5L404 69.3L413.9 58.2L423.8 48.2M318.2 185.6L328.5 172.5L336.1 161.3L346.2 145.2L371.3 103.2L373.9 99.2L378.9 91.9L389 78.6L399 66.3L408.9 55.1L418.8 45.1M313.4 182.4L321.1 172L326.2 164.4L353.8 118.7L361.4 106.7L368.9 95.4L379 82L394 63.5L404 52.2L413.8 42.3M308.7 179.2L313.8 172.1L318.9 164.2L336.4 133.6L343.9 121L351.4 109.4L359 98.5L369.1 85.4L394.1 55L401.5 46.8L408.9 39.8" fill="none" stroke="#000" stroke-width="0.7"/>
<path d="M404 238.4L423.3 229.4L428.5 226.6L433.7 223.7L438.8 220.3L443.9 216.6L449 212.5L454 208L459.1 203L464.1 197.5L469.1 191.7L475.8 183.3L485.9 169.7L506 141.1L499.1 130.4L492.2 120.2L480.2 103.5L473.3 94.7L466.4 86.5L461.3 80.7L454.4 73.5L449.2 68.4L442.4 62.2L435.6 56.6L428.9 51.6L423.8 48.2L417.2 44.1L410.5 40.6L404 37.6L402.3 38.7L399.1 41.5L395.8 44.9L392.5 48.5L374.2 70.6L355.8 92.2L350.8 98.5L345.7 105.3L339 115.2L334 123.3L327.3 135.1L312.4 163.1L307.4 171.4L304 176.1L349 206.8L367.4 218.8L377.7 225L386.3 229.8L395.1 234.3L404 238.4Z" fill="none" stroke="#000" stroke-width="0.9"/>
<path d="M297.4 63.4L304.4 181.8L404 247.3L503.6 181.8M303.4 165.9L305 165M302.5 149.6L304.1 148.7M301.5 133L303.1 132.2M300.5 116.1L302.1 115.3M299.5 98.9L301.1 98M298.4 81.3L300.1 80.5M297.4 63.4L299.1 62.6M404 247.3L407.2 245.2M388.9 237.4L392.1 235.4M374.1 227.7L377.3 225.7M359.6 218.2L362.8 216.2M345.4 208.8L348.6 206.9M331.4 199.6L334.6 197.7M317.8 190.7L321 188.8M304.4 181.8L307.5 180M404 247.3L400.8 245.2M414.6 240.4L411.4 238.3M425 233.5L421.8 231.5M435.3 226.7L432.1 224.7M445.5 220.1L442.3 218.1M455.5 213.5L452.3 211.5M465.4 207L462.2 205M475.1 200.6L471.9 198.6M484.7 194.2L481.5 192.4M494.2 188L491 186.1M503.6 181.8L500.4 180" fill="none" stroke="#222" stroke-width="0.8"/>
<g font-size="5.3" fill="#222" stroke="#222" stroke-width="0.12" font-style="italic"><text x="299.4" y="172.4" text-anchor="end" transform="rotate(-20 299.4 172.4)">10</text><text x="298.5" y="156.1" text-anchor="end" transform="rotate(-20 298.5 156.1)">20</text><text x="297.5" y="139.5" text-anchor="end" transform="rotate(-20 297.5 139.5)">30</text><text x="296.5" y="122.6" text-anchor="end" transform="rotate(-20 296.5 122.6)">40</text><text x="295.5" y="105.4" text-anchor="end" transform="rotate(-20 295.5 105.4)">50</text><text x="294.4" y="87.8" text-anchor="end" transform="rotate(-20 294.4 87.8)">60</text><text x="293.4" y="69.9" text-anchor="end" transform="rotate(-20 293.4 69.9)">70</text><text x="394.5" y="254.8" text-anchor="middle" transform="rotate(30 394.5 254.8)">0</text><text x="379.4" y="244.8" text-anchor="middle" transform="rotate(30 379.4 244.8)">10</text><text x="364.6" y="234.9" text-anchor="middle" transform="rotate(30 364.6 234.9)">20</text><text x="350.1" y="225.3" text-anchor="middle" transform="rotate(30 350.1 225.3)">30</text><text x="335.9" y="215.9" text-anchor="middle" transform="rotate(30 335.9 215.9)">40</text><text x="322" y="206.6" text-anchor="middle" transform="rotate(30 322 206.6)">50</text><text x="308.3" y="197.5" text-anchor="middle" transform="rotate(30 308.3 197.5)">60</text><text x="294.9" y="188.6" text-anchor="middle" transform="rotate(30 294.9 188.6)">70</text><text x="408.2" y="254.8" text-anchor="middle" transform="rotate(33 408.2 254.8)">30</text><text x="418.8" y="247.7" text-anchor="middle" transform="rotate(33 418.8 247.7)">40</text><text x="429.2" y="240.8" text-anchor="middle" transform="rotate(33 429.2 240.8)">50</text><text x="439.5" y="234" text-anchor="middle" transform="rotate(33 439.5 234)">60</text><text x="449.7" y="227.2" text-anchor="middle" transform="rotate(33 449.7 227.2)">70</text><text x="459.7" y="220.6" text-anchor="middle" transform="rotate(33 459.7 220.6)">80</text><text x="469.6" y="214" text-anchor="middle" transform="rotate(33 469.6 214)">90</text><text x="479.3" y="207.5" text-anchor="middle" transform="rotate(33 479.3 207.5)">100</text><text x="488.9" y="201.1" text-anchor="middle" transform="rotate(33 488.9 201.1)">110</text><text x="498.4" y="194.9" text-anchor="middle" transform="rotate(33 498.4 194.9)">120</text><text x="507.7" y="188.6" text-anchor="middle" transform="rotate(33 507.7 188.6)">130</text></g>
<g font-size="6.55" fill="#111" stroke="#111" stroke-width="0.4"><text x="332.5" y="227.5" text-anchor="middle" transform="rotate(33.3 332.5 227.5)">Pretreatment time [min]</text><text x="476.5" y="229.5" text-anchor="middle" transform="rotate(-33.3 476.5 229.5)">Pretreatment pressure [PSI]</text><g transform="translate(279.5 132.6) rotate(86.6)"><text x="0" y="0" text-anchor="middle">Beech chips biomass extractives</text><text x="4.5" y="9.5" text-anchor="middle">[%]</text></g></g></g>
<g><path d="M576.6 181.8L569.6 63.4M587.1 175.8L580.9 57.8M597.5 169.8L592.1 52.2M607.8 163.8L603.1 46.7M617.9 158L614 41.2M628 152.2L624.7 35.9M637.9 146.5L635.3 30.6M647.6 140.9L645.7 25.4M657.3 135.4L656 20.2M666.8 129.9L666.1 15.2M676.2 124.5L676.2 10.1M775.8 181.8L782.8 63.4M760.7 173.2L766.6 55.3M746 164.7L750.8 47.4M731.5 156.3L735.3 39.7M717.3 148.2L720.1 32.1M703.3 140.1L705.2 24.6M689.6 132.2L690.5 17.3M676.2 124.5L676.2 10.1M576.6 181.8L676.2 124.5L775.8 181.8M575.6 165.9L676.2 109L776.7 165.9M574.7 149.6L676.2 93.3L777.7 149.6M573.7 133L676.2 77.3L778.7 133M572.7 116.1L676.2 60.9L779.7 116.1M571.7 98.9L676.2 44.3L780.7 98.9M570.6 81.3L676.2 27.4L781.7 81.3M569.6 63.4L676.2 10.1L782.8 63.4" fill="none" stroke="#dcdcdc" stroke-width="0.9"/>
<g fill="none" stroke-width="0.6" opacity="0.9"><path d="M682.6 243.1L684.8 239.1L687.2 236.1L690.1 233.5L693.4 231.1L702.6 225.9L723.8 216" stroke="#007838"/><path d="M661.8 237.9L664.1 234.5L668.1 230.5L671.4 228.1L677.2 225.2L686 221.9L709.6 215.1L725.1 209.8L741.1 202.9L755.5 195.2" stroke="#007838"/><path d="M578.6 180.7L612.1 204.4L622.4 210.7L628.4 213.3L633.1 214.6L638.6 215.5L644.9 215.8L666.9 215L686.8 213.3L702.8 210.8L715.9 207.7L729 203.8L743.7 198.4L759.7 189.9L774.9 181.3" stroke="#008c28"/><path d="M581.5 179L594.9 186.7L605.3 191.9L615.6 196.3L626.4 199.9L638.5 202.9L651.8 205.2L666.2 206.8L678.8 207.5L689.5 207.2L701.7 205.9L714.8 203.5L727.2 200.4L738.2 197.1L742.3 195.5L773.7 180.6" stroke="#008c28"/><path d="M584.4 177.3L597.1 183.4L606.9 187.4L619.8 191.7L633.7 195.5L646.2 198.2L656.7 200L673.5 202.2L683 202.7L693.6 202.4L704.4 201.3L717.6 198.9L729.7 196.1L736.6 194.2L743 191.9L772.5 179.9" stroke="#00a41c"/><path d="M587.6 175.5L599.1 180.3L609.5 184L622.7 188L639.2 192.2L651.6 194.8L665 197L673.4 198L683.2 198.6L693 198.4L702 197.7L712.8 196.1L725.5 193.5L740.7 189.5L771.1 179.2" stroke="#00a41c"/><path d="M591 173.5L602.9 178.1L613.6 181.5L627 185.4L643.5 189.6L653.4 191.7L664 193.5L673.4 194.6L681.5 195.1L691 195.1L699.3 194.5L708.4 193.4L718.9 191.6L737.1 187.5L769.7 178.4" stroke="#00bc10"/><path d="M594.3 171.6L606.6 175.9L617.4 179.3L647.2 187.3L657.2 189.4L665.2 190.6L679.8 192L686.3 192.1L695.6 191.7L712.4 189.7L738.5 184.5L768.3 177.6" stroke="#00bc10"/><path d="M597.7 169.7L620.9 177.2L650.6 185.2L666.1 188L680.8 189.3L694.6 189L708.7 187.4L752.7 179.5L766.9 176.7" stroke="#00d408"/><path d="M601 167.8L624.3 175.2L651.5 182.7L664.1 185.2L678.4 186.6L690.7 186.7L702.5 185.7L765.4 175.9" stroke="#00d408"/><path d="M604.3 165.8L627.6 173.3L654.6 180.8L667.4 183.2L678.9 184.2L690.2 184.3L702.1 183.4L731 178.9L754.4 176.4L763.9 175" stroke="#08f008"/><path d="M607.6 164L630.7 171.4L657.6 179L667.8 180.8L679.3 182L689 182.1L699 181.6L731 177L762.4 174.1" stroke="#08f008"/><path d="M610.7 162.2L631.7 168.9L658.3 176.6L668.3 178.5L679.5 179.8L689 180L699 179.6L731.3 175.2L760.8 173.2" stroke="#60ff08"/><path d="M613.5 160.5L632.3 166.6L658.8 174.3L668.5 176.4L679.4 177.8L688.7 178.2L699.2 177.8L731.9 173.6L759.3 172.3" stroke="#60ff08"/><path d="M616.3 159L635.1 165L659.2 172.1L671.2 174.7L682.2 176.1L690.5 176.5L698.5 176.2L732.8 172.2L741.8 171.7L757.7 171.5" stroke="#b0ff08"/><path d="M619 157.4L635.7 162.7L661.9 170.5L671.3 172.7L681.9 174.3L690.9 174.8L697.6 174.7L706.3 174L733.4 170.9L742.9 170.5L756.2 170.5" stroke="#b0ff08"/><path d="M621.6 155.9L664.5 168.9L673.9 171.1L684.4 172.7L690.3 173.2L698.2 173.2L707.8 172.5L726.2 170.3L735.5 169.5L742.4 169.3L754.6 169.6" stroke="#e8ff08"/><path d="M624.1 154.5L667 167.4L678.8 170.1L686.8 171.3L695.8 171.7L702.9 171.5L727.3 169L737.5 168.3L752.9 168.7" stroke="#e8ff08"/><path d="M626.6 153L667.3 165.3L678.7 168.2L686.4 169.5L692 170.1L699.8 170.2L709.1 169.7L735.9 167.3L742.5 167.2L751.2 167.7" stroke="#ffee08"/><path d="M629 151.6L655 159L669.8 163.8L681.1 166.8L688.7 168.1L694.3 168.7L700.8 168.7L709.8 168.3L735.5 166.2L742 166.1L749.5 166.7" stroke="#ffee08"/><path d="M631.4 150.3L655.4 156.9L667.9 161L681.1 164.8L690.9 166.8L696.7 167.2L703.1 167.3L733.9 165.2L740.2 165.1L747.7 165.6" stroke="#ffc008"/><path d="M634 148.8L658.2 155.3L670.6 159.4L683.6 163.3L690.8 164.8L696.3 165.4L705.8 165.7L735 164L741 164L745.5 164.4" stroke="#ffc008"/><path d="M636.6 147.3L660.8 153.7L673.1 157.9L686.1 161.8L693.3 163.3L705.1 164.1L732.9 162.8L743.3 163.1" stroke="#ff8808"/><path d="M639.1 145.8L659 151L677.6 157.1L688.5 160.3L693.2 161.4L699.3 162.1L707.6 162.5L730.8 161.6L741 161.8" stroke="#ff8808"/><path d="M641.6 144.4L659.3 148.9L682.1 156.4L690.9 158.9L695.7 159.9L707 160.9L731.8 160.3L738.7 160.5" stroke="#ff5008"/><path d="M644.1 142.9L661.8 147.5L680.2 153.7L695.7 157.9L703.7 159L709.7 159.3L736.2 159.1" stroke="#ff5008"/><path d="M646.6 141.5L664.2 146L684.8 152.8L698.4 156.3L709.3 157.5L733.6 157.6" stroke="#ff1808"/><path d="M649.3 139.9L665 143.8L687.7 151.1L699 154L709.5 155.4L730.6 155.8" stroke="#ff1808"/><path d="M652.1 138.3L667.9 142.1L690.6 149.4L701.7 152.1L712.6 153.5L727.3 153.9" stroke="#e40c0c"/><path d="M654.9 136.7L668.7 139.8L693.4 147.7L700.1 149.4L710.1 151.1L723.9 151.9" stroke="#e40c0c"/><path d="M657.7 135.1L671.6 138L694 145.4L700.6 147.2L710.4 149L720.2 149.8" stroke="#c40c0c"/><path d="M660 133.8L667.2 135.1L673.9 136.7L700.5 145.4L707.6 146.8L717 148" stroke="#c40c0c"/><path d="M662.3 132.4L669.6 133.7L674 134.8L700.3 143.5L707.3 145.1L713.7 146.1" stroke="#aa0c0c"/><path d="M664.7 131.1L674 133L698 141.1L704.6 142.9L710 144" stroke="#aa0c0c"/><path d="M667.2 129.6L673.9 131.2L691.5 137.5L706 141.7" stroke="#960c0c"/><path d="M669.8 128.2L676 130L691.2 135.8L701.5 139.1" stroke="#960c0c"/><path d="M672.5 126.6L687.1 132.6L696 135.9" stroke="#8a0808"/><path d="M675.4 124.9L680.1 127.6L688 131.3" stroke="#8a0808"/></g>
<g stroke="none" fill-rule="evenodd"><path d="M676.2 240.9L690.3 232.8L707.6 221.6L722.8 211.1L758.9 185.3L776.3 173.6L771.4 161.7L766.5 150.6L761.6 140.3L755 127.5L749.9 118.6L743.2 107.5L736.5 97.2L729.7 87.7L722.9 78.8L714.5 68.7L707.7 61.4L701 54.8L694.3 48.9L687.7 43.9L681.1 39.9L676.2 37.6L669.6 45.8L663.1 54.8L635 96.1L621.7 114.8L610 130.3L586.3 160.1L576.1 173.6L590.2 182L603 189.9L627.7 206L651.5 222.6L663.8 231.5L676.2 240.9Z" fill="#00644a"/><path d="M677.9 239.9L682.6 237.3L684.8 233.3L687.3 230.3L690.2 227.7L693.5 225.3L702.7 220.1L724 210.2L757.3 186.4L776.3 173.6L766.5 150.6L761.6 140.3L755 127.5L743.2 107.5L736.5 97.2L729.7 87.7L722.9 78.8L714.5 68.7L707.7 61.4L701 54.8L694.3 48.9L687.7 43.9L681.1 39.9L676.2 37.6L669.6 45.8L663.1 54.8L635 96.1L621.7 114.8L610 130.3L586.3 160.1L576.1 173.6L603 189.9L627.7 206L651.5 222.6L676.2 240.9Z" fill="#007838"/><path d="M763.6 178.3L775.5 171.6L768.2 154.3L761.6 140.3L753.3 124.5L744.9 110.2L736.5 97.2L728 85.4L719.6 74.7L709.4 63.2L701 54.8L692.7 47.6L684.4 41.8L676.2 37.6L669.6 45.8L663.1 54.8L635 96.1L621.7 114.8L610 130.3L586.3 160.1L578 170.9L610.2 193.5L620.2 199.8L626 202.6L630.4 204.1L635.5 205.2L641.4 205.8L655.5 205.7L678.6 204.2L695.6 202.2L708.1 199.8L722.5 196.1L740 190.2L745.9 187.6L762.8 178.7Z" fill="#008c28"/><path d="M773.3 166.1L763.3 143.7L753.3 124.5L741.5 104.8L734.8 94.8L728 85.4L721.2 76.7L714.5 68.7L707.7 61.4L701 54.8L694.3 48.9L687.7 43.9L681.1 39.9L676.2 37.6L669.6 45.8L663.1 54.8L635 96.1L621.7 114.8L608.3 132.5L583.7 163.5L596.5 169.5L606.4 173.5L619.3 177.8L633.4 181.5L645.9 184.2L656.5 186.1L673.5 188.2L683 188.7L693.8 188.4L704.6 187.3L715.5 185.4L727.8 182.7L734.9 180.9L741.4 178.8L771.9 166.7Z" fill="#00a41c"/><path d="M768.6 160.8L770.8 160.1L763.3 143.7L755 127.5L748.3 115.7L741.5 104.8L734.8 94.8L728 85.4L721.2 76.7L714.5 68.7L707.7 61.4L701 54.8L694.3 48.9L687.7 43.9L681.1 39.9L676.2 37.6L669.6 45.8L663.1 54.8L635 96.1L621.7 114.8L608.3 132.5L590 155.4L602.2 159.9L612.9 163.3L626.5 167.1L643.1 171.3L653.1 173.4L663.8 175.1L672.4 176.1L681.6 176.7L688.3 176.8L697.3 176.3L706 175.4L716.7 173.7L737.7 169.2L767 161.3Z" fill="#00bc10"/><path d="M763.3 155.2L768.1 154.1L761.6 140.3L755 127.5L746.6 112.9L738.1 99.7L729.7 87.7L722.9 78.8L714.5 68.7L707.7 61.4L701 54.8L694.3 48.9L687.7 43.9L681.1 39.9L676.2 37.6L669.6 45.8L663.1 54.8L635 96.1L623.4 112.6L611.7 128.2L596.6 147.2L620.2 154.6L647.9 162L663.2 164.9L678 166.4L691.7 166.4L706.4 165.1L763.3 155.2Z" fill="#00d408"/><path d="M765.3 148L755 127.5L744.9 110.2L733.1 92.4L721.2 76.7L709.4 63.2L697.7 51.7L691 46.3L686 42.8L681.1 39.9L676.2 37.6L669.6 45.8L663.1 54.8L636.7 93.7L625.1 110.3L615 123.8L603.2 139L626.8 146.3L654.2 153.7L667.2 156L679 157.1L690.4 157.2L702.5 156.3L731.9 151.9L764.2 148.2Z" fill="#08f008"/><path d="M762.3 141.8L751.6 121.5L741.5 104.8L731.4 90L719.6 74.7L707.7 61.4L696 50.3L686 42.8L681.1 39.9L676.2 37.6L664.7 52.5L630 103.3L620.1 117.1L609.5 130.9L630.9 137.6L658 145.1L668.2 147L679.6 148.2L689.3 148.5L699.4 148L732.3 143.7L760.6 142Z" fill="#60ff08"/><path d="M759.4 136L749.9 118.6L739.8 102.2L729.7 87.7L717.9 72.7L706.1 59.7L696 50.3L686 42.8L681.1 39.9L676.2 37.6L669.6 45.8L663.1 54.8L631.7 100.9L615.1 123.8L634.3 129.7L658.8 136.6L671.1 139.2L682.3 140.6L691.8 141L698.9 140.7L709 139.8L732.2 136.9L743.2 136.3L756.9 136.2Z" fill="#b0ff08"/><path d="M756.4 130.2L748.3 115.7L738.1 99.7L728 85.4L716.2 70.7L704.4 58L694.3 48.9L689.4 45.1L684.4 41.8L676.2 37.6L669.6 45.8L663.1 54.8L635 96.1L620.3 116.8L664.2 129.5L673.8 131.6L684.6 133.2L693.8 133.7L700.9 133.5L733.2 130.3L742.5 129.9L753.5 130.2Z" fill="#e8ff08"/><path d="M753.1 124.2L744.9 110.2L734.8 94.8L724.6 81L714.5 68.7L704.4 58L694.3 48.9L689.4 45.1L684.4 41.8L676.2 37.6L669.6 45.8L663.1 54.8L636.7 93.7L625.3 109.9L667.1 121.8L678.8 124.7L686.6 126L695.6 126.7L702.4 126.6L735.8 123.9L742.1 123.6L750.4 124.1Z" fill="#ffee08"/><path d="M749.7 118.1L741.5 104.8L731.4 90L721.2 76.7L711.1 65L701 54.8L692.7 47.6L684.4 41.8L676.2 37.6L669.6 45.8L663.1 54.8L630.1 103.2L654.8 109.6L667.7 113.6L681.2 117.3L691.3 119.2L697.3 119.7L703.9 119.7L735.5 117.7L742 117.6L747.2 117.9Z" fill="#ffc008"/><path d="M745.4 111L736.5 97.2L728 85.4L719.6 74.7L709.4 63.2L701 54.8L692.7 47.6L684.4 41.8L676.2 37.6L669.6 45.8L663.1 54.8L635.4 95.6L658.1 101.2L675.2 106.5L686.4 109.6L693.9 111.1L705.9 111.9L734.7 110.6L744.5 110.9Z" fill="#ff8808"/><path d="M740.8 103.7L731.4 90L722.9 78.8L714.5 68.7L706.1 59.7L697.7 51.7L691 46.3L682.7 40.8L676.2 37.6L669.6 45.8L663.1 54.8L640.5 88.1L658.7 92.5L684.5 100.3L696.4 103.1L704.9 103.9L711.3 104.1L730.4 103.5L739.1 103.6Z" fill="#ff5008"/><path d="M735.7 96.1L728 85.4L719.6 74.7L711.1 65L704.4 58L696 50.3L689.4 45.1L682.7 40.8L676.2 37.6L664.7 52.5L645.5 80.6L663.8 85L685.1 91.5L699.1 94.9L710.5 96.1L733.9 96.1Z" fill="#ff1808"/><path d="M729.3 87.1L721.2 76.7L714.5 68.7L707.7 61.4L701 54.8L694.3 48.9L687.7 43.9L681.1 39.9L676.2 37.6L666.3 50.3L651.2 72.2L667.6 75.7L691.1 82.8L700.5 85L711.1 86.5L726.8 87.1Z" fill="#e40c0c"/><path d="M722 77.7L709.4 63.2L697.7 51.7L691 46.3L686 42.8L681.1 39.9L676.2 37.6L668 48L656.9 63.7L671.4 66.5L694.8 73.5L701.6 75.2L711.9 76.9L720.6 77.7Z" fill="#c40c0c"/><path d="M715.3 69.7L704.4 58L694.3 48.9L689.4 45.1L684.4 41.8L676.2 37.6L669.6 45.8L661.7 56.7L669.3 57.9L673.9 59L701.4 67.3L713.9 69.6Z" fill="#aa0c0c"/><path d="M707.4 61.1L699.4 53.2L691 46.3L682.7 40.8L676.2 37.6L666.8 49.6L673.8 51.1L692.3 57.1L705.5 60.7Z" fill="#960c0c"/><path d="M697 51.1L691 46.3L686 42.8L681.1 39.9L676.2 37.6L672.3 42.3L695.8 50.8Z" fill="#8a0808"/></g>
<path d="M681.5 237.9L663 223.7L644.9 210.5L627.2 198.2L581.2 166.7M686.8 234.9L673.5 224.4L660.5 214.5L617.6 183.5L586.3 160.1M692.1 231.7L668.3 212.9L625.3 180.6L591.4 153.7M697.3 228.4L676.2 211.3L648 189.5L632.9 177.5L596.5 147.3M702.5 225.1L681.4 207.6L653.1 184.7L618.4 155.1L601.6 141M707.6 221.6L663.4 184L630.9 155.1L621.1 146.7L606.6 134.6M712.7 218.1L673.6 183.3L645.9 157.3L628.6 142.3L611.7 128.2M717.8 214.6L686.4 185.5L676.2 175.5L658.4 157.7L653.4 152.9L636.1 137.8L616.7 121.6M722.8 211.1L694.1 183.1L683.8 172.5L668.6 156.3L661 148.6L648.6 137.5L621.7 114.8M727.9 207.5L709.5 189L699.2 178.3L691.4 169.9L676.2 152.6L671.1 147.1L666.1 142.1L656.1 133L626.7 107.9M732.9 203.9L711.9 181.9L704.2 173.4L696.5 164.5L681.2 146.2L673.6 137.9L668.6 132.9L663.6 128.4L648.8 115.9L631.7 100.9M737.8 200.4L717 177.3L709.2 168.5L701.5 159.1L686.3 139.5L678.7 131L673.7 126L668.6 121.5L653.8 109.2L636.7 93.7M742.7 196.8L737.5 190.5L721.9 172.8L714.2 163.6L706.5 153.6L693.8 136L686.2 126.6L681.2 121.3L678.7 119L671.2 112.4L658.8 102.2L641.6 86.4M747.6 193.3L742.4 186.5L726.9 168.2L719.2 158.6L711.5 148.1L698.9 129.1L693.8 122.3L691.3 119.3L688.7 116.5L683.7 111.7L673.7 102.9L661.3 92.6L646.6 79M752.5 189.8L747.3 182.8L731.8 163.5L724.2 153.4L716.5 142.2L703.9 122.1L698.8 115.1L696.3 112L693.8 109.1L688.7 104.1L678.7 95.3L663.8 83.1L658.9 78.7L651.5 71.7M757.3 186.4L749.6 175.6L734.2 155L729.1 147.9L724 140.2L713.9 123.1L708.9 115L706.4 111.3L701.3 104.7L698.8 101.7L693.7 96.6L686.2 90L671.2 78L666.3 73.8L661.4 69.2L656.5 64.3M762.1 183.1L734.1 141.8L729 133.6L716.4 111.8L711.4 104.1L708.8 100.6L703.8 94.6L698.7 89.5L691.1 82.8L671.2 66.7L666.3 62.2L661.4 57.2M766.9 179.8L751.7 154.6L736.5 130.7L723.9 108.6L718.9 100.7L713.8 93.7L711.3 90.6L706.2 85L698.6 77.6L693.6 73.3L676.2 59.4L671.2 55.1L666.3 50.3M771.6 176.6L761.6 157.3L754.1 143.5L741.5 122.7L731.5 105.2L726.4 97.2L721.3 90.1L713.7 80.7L708.7 75.2L703.6 70.1L688.6 57.1L671.3 43.7M670.8 236.8L684.1 229L694.5 222.3L704.9 215.3L717.6 206L727.6 198.3L742.4 186.5L759.4 173.4L764.2 169.2L771.4 161.7M665.5 232.8L678.8 224.8L691.8 216.2L704.7 206.8L719.9 194.9L744.6 174.2L751.9 167.8L756.7 163L759.2 160.3L761.6 157.3L766.5 150.6M660.3 228.9L676.2 219L689.2 210L696.9 204.1L704.5 198L722.1 183L739.4 167.6L746.8 160.3L751.7 154.6L754.2 151.4L761.6 140.3M655 225.1L665.7 218.4L673.6 213.2L681.4 207.6L686.5 203.6L694.2 197.4L701.9 190.8L724.4 170.5L731.8 163.5L736.8 158.5L741.7 153L744.2 149.9L749.1 143.1L751.6 139.2L756.6 130.6M649.8 221.3L660.5 214.5L668.4 209.1L676.2 203.4L681.3 199.2L689 192.6L696.7 185.7L719.3 164.3L726.7 156.9L731.7 151.5L736.6 145.6L739.1 142.3L744 135.1L746.5 131L751.6 121.5M644.7 217.7L655.3 210.7L663.2 205.2L671 199.2L676.2 194.9L689 183L714.1 157.8L724.1 147L731.5 137.8L736.5 130.7L741.5 122.7L744 118.1L746.6 112.9M639.5 214.1L655.4 203.2L663.3 197.2L668.4 192.8L678.7 183.1L696.5 164.5L711.5 148.1L721.5 136L726.5 129.2L731.5 121.8L736.5 113.8L741.5 104.8M634.4 210.5L647.7 201.4L653 197.4L658.2 193.2L663.3 188.6L668.5 183.6L678.7 172.7L698.9 149.6L706.5 140.5L711.5 134.1L719 123.9L724 116.6L736.5 97.2M629.4 207.1L642.6 197.7L650.5 191.5L658.3 184.4L663.4 179L668.5 173.3L686.3 152.2L698.9 136.2L711.4 118.9L731.4 90M624.4 203.7L637.6 194L645.4 187.5L653.2 180L660.9 171.4L673.6 155.8L686.3 139.5L693.8 129.1L711.4 104.1L726.3 83.2M619.4 200.4L630 192.5L637.8 185.9L645.6 178.4L653.3 169.7L663.5 156.9L678.7 137.1L686.2 126.6L706.3 97.5L721.2 76.7M614.4 197.2L625 188.9L632.8 182L640.6 174.1L648.3 165L666.1 142.1L676.2 128.4L683.7 117.7L696.2 99.1L716.2 70.7M609.5 194L620.1 185.3L627.9 178.2L635.6 169.8L643.3 160.6L663.6 134L676.2 116.8L688.7 98.1L703.7 76.3L711.1 65M604.6 190.9L615.1 181.7L623 174.2L630.7 165.6L640.9 152.9L658.6 129.6L671.2 112.4L696.1 75.4L701.1 67.8L706.1 59.7M599.8 187.9L612.9 175.6L620.6 167.3L630.9 155.1L646.1 135.4L658.7 118.7L668.7 104.6L676.2 93.2L691.1 71.4L696.1 63.5L701 54.8M595 184.9L608 171.8L618.3 160.2L631 144.4L653.7 114.7L661.2 104.3L686.1 67.3L691 59.2L696 50.3M590.2 182L603.2 168L616 153L633.7 130.4L648.8 110.4L656.3 100L681.1 63.4L686.1 55.1L691 46.3M585.4 179.1L600.9 161.3L611.2 149L623.8 132.9L638.9 112.9L648.9 99.1L673.7 63.1L678.6 55.4L686 42.8M580.7 176.3L608.9 141.8L619 128.9L629 115.5L641.5 98.2L668.8 58.7L681.1 39.9" fill="none" stroke="#000" stroke-width="0.7"/>
<path d="M676.2 240.9L690.3 232.8L707.6 221.6L722.8 211.1L758.9 185.3L776.3 173.6L771.4 161.7L766.5 150.6L761.6 140.3L755 127.5L749.9 118.6L743.2 107.5L736.5 97.2L729.7 87.7L722.9 78.8L714.5 68.7L707.7 61.4L701 54.8L694.3 48.9L687.7 43.9L681.1 39.9L676.2 37.6L669.6 45.8L663.1 54.8L635 96.1L621.7 114.8L610 130.3L586.3 160.1L576.1 173.6L590.2 182L603 189.9L627.7 206L651.5 222.6L663.8 231.5L676.2 240.9Z" fill="none" stroke="#000" stroke-width="0.9"/>
<path d="M569.6 63.4L576.6 181.8L676.2 247.3L775.8 181.8M575.6 165.9L577.2 165M574.7 149.6L576.3 148.7M573.7 133L575.3 132.2M572.7 116.1L574.3 115.3M571.7 98.9L573.3 98M570.6 81.3L572.3 80.5M569.6 63.4L571.3 62.6M676.2 247.3L679.4 245.2M661.1 237.4L664.3 235.4M646.3 227.7L649.5 225.7M631.8 218.2L635 216.2M617.6 208.8L620.8 206.9M603.6 199.6L606.8 197.7M590 190.7L593.2 188.8M576.6 181.8L579.7 180M676.2 247.3L673 245.2M686.8 240.4L683.6 238.3M697.2 233.5L694 231.5M707.5 226.7L704.3 224.7M717.7 220.1L714.5 218.1M727.7 213.5L724.5 211.5M737.6 207L734.4 205M747.3 200.6L744.1 198.6M756.9 194.2L753.7 192.4M766.4 188L763.2 186.1M775.8 181.8L772.6 180" fill="none" stroke="#222" stroke-width="0.8"/>
<g font-size="5.3" fill="#222" stroke="#222" stroke-width="0.12" font-style="italic"><text x="571.6" y="172.4" text-anchor="end" transform="rotate(-20 571.6 172.4)">10</text><text x="570.7" y="156.1" text-anchor="end" transform="rotate(-20 570.7 156.1)">20</text><text x="569.7" y="139.5" text-anchor="end" transform="rotate(-20 569.7 139.5)">30</text><text x="568.7" y="122.6" text-anchor="end" transform="rotate(-20 568.7 122.6)">40</text><text x="567.7" y="105.4" text-anchor="end" transform="rotate(-20 567.7 105.4)">50</text><text x="566.6" y="87.8" text-anchor="end" transform="rotate(-20 566.6 87.8)">60</text><text x="565.6" y="69.9" text-anchor="end" transform="rotate(-20 565.6 69.9)">70</text><text x="666.7" y="254.8" text-anchor="middle" transform="rotate(30 666.7 254.8)">0</text><text x="651.6" y="244.8" text-anchor="middle" transform="rotate(30 651.6 244.8)">10</text><text x="636.8" y="234.9" text-anchor="middle" transform="rotate(30 636.8 234.9)">20</text><text x="622.3" y="225.3" text-anchor="middle" transform="rotate(30 622.3 225.3)">30</text><text x="608.1" y="215.9" text-anchor="middle" transform="rotate(30 608.1 215.9)">40</text><text x="594.2" y="206.6" text-anchor="middle" transform="rotate(30 594.2 206.6)">50</text><text x="580.5" y="197.5" text-anchor="middle" transform="rotate(30 580.5 197.5)">60</text><text x="567.1" y="188.6" text-anchor="middle" transform="rotate(30 567.1 188.6)">70</text><text x="680.4" y="254.8" text-anchor="middle" transform="rotate(33 680.4 254.8)">30</text><text x="691" y="247.7" text-anchor="middle" transform="rotate(33 691 247.7)">40</text><text x="701.4" y="240.8" text-anchor="middle" transform="rotate(33 701.4 240.8)">50</text><text x="711.7" y="234" text-anchor="middle" transform="rotate(33 711.7 234)">60</text><text x="721.9" y="227.2" text-anchor="middle" transform="rotate(33 721.9 227.2)">70</text><text x="731.9" y="220.6" text-anchor="middle" transform="rotate(33 731.9 220.6)">80</text><text x="741.8" y="214" text-anchor="middle" transform="rotate(33 741.8 214)">90</text><text x="751.5" y="207.5" text-anchor="middle" transform="rotate(33 751.5 207.5)">100</text><text x="761.1" y="201.1" text-anchor="middle" transform="rotate(33 761.1 201.1)">110</text><text x="770.6" y="194.9" text-anchor="middle" transform="rotate(33 770.6 194.9)">120</text><text x="779.9" y="188.6" text-anchor="middle" transform="rotate(33 779.9 188.6)">130</text></g>
<g font-size="6.55" fill="#111" stroke="#111" stroke-width="0.4"><text x="604.7" y="227.5" text-anchor="middle" transform="rotate(33.3 604.7 227.5)">Pretreatment time [min]</text><text x="748.7" y="229.5" text-anchor="middle" transform="rotate(-33.3 748.7 229.5)">Pretreatment pressure [PSI]</text><g transform="translate(551.7 132.6) rotate(86.6)"><text x="0" y="0" text-anchor="middle">Beech chips biomass extractives</text><text x="4.5" y="9.5" text-anchor="middle">[%]</text></g></g></g>
<g><path d="M42.9 442.8L35.9 324.4M53.4 436.8L47.2 318.8M63.8 430.8L58.4 313.2M74.1 424.8L69.4 307.7M84.2 419L80.3 302.2M94.3 413.2L91 296.9M104.2 407.5L101.6 291.6M113.9 401.9L112 286.4M123.6 396.4L122.3 281.2M133.1 390.9L132.4 276.2M142.5 385.5L142.5 271.1M242.1 442.8L249.1 324.4M227 434.2L232.9 316.3M212.3 425.7L217.1 308.4M197.8 417.3L201.6 300.7M183.6 409.2L186.4 293.1M169.6 401.1L171.5 285.6M155.9 393.2L156.8 278.3M142.5 385.5L142.5 271.1M42.9 442.8L142.5 385.5L242.1 442.8M42 428.9L142.5 372L242.9 428.9M41.2 414.7L142.5 358.2L243.7 414.7M40.3 400.3L142.5 344.3L244.6 400.3M39.5 385.6L142.5 330.1L245.5 385.6M38.6 370.7L142.5 315.7L246.3 370.7M37.7 355.6L142.5 301.1L247.2 355.6M36.8 340.1L142.5 286.3L248.1 340.1M35.9 324.4L142.5 271.1L249.1 324.4" fill="none" stroke="#dcdcdc" stroke-width="0.9"/>
<g fill="none" stroke-width="0.6" opacity="0.9"><path d="M90.8 474.3L103.9 479.3L109.7 482.1L115.2 485.2L122 489.7L131.7 496.6L140 503L144.5 507" stroke="#007838"/><path d="M68 459.4L81.1 463.8L104.1 469.6L113.6 473.2L122.5 478.4L141.7 492.7L154.3 500.5" stroke="#007838"/><path d="M53.2 449.6L64 453.9L74.9 457.4L84.5 459.7L105.8 464.1L111.9 465.8L118.4 468.1L124 471L129.2 474.2L149.3 490.1L159.5 497.1" stroke="#008c28"/><path d="M43.2 442.6L57 448.1L69.8 452.4L84.1 455.9L111.6 461.3L117.5 462.9L123.3 465L130.9 468.8L137.5 473.2L143.6 478.1L155.5 488.3L163.5 494.5" stroke="#008c28"/><path d="M45.8 441.1L57.8 445.7L70.9 449.8L85.3 453.2L113.6 458.5L123 461L127.3 462.5L136.8 467.3L145.1 472.8L151.1 477.7L167 492.2" stroke="#00a41c"/><path d="M47.8 440L60 444.4L73.3 448.4L87.8 451.7L113.7 456.4L125.1 459.1L130.1 460.8L141.6 466.4L150 471.9L155.9 476.9L169.6 490.5" stroke="#00a41c"/><path d="M49.7 438.9L62.1 443.2L75.5 447.1L90.1 450.3L115.9 455L128.1 457.9L134.5 460.2L146.2 465.6L154.7 471L160.5 476.1L172.2 488.8" stroke="#00bc10"/><path d="M51.6 437.8L64.1 442.1L75.2 445.3L89.7 448.6L112.9 452.8L126.3 455.6L132.4 457.3L140.9 460.4L150.8 464.9L156.2 467.9L159.4 470.2L165 475.4L174.7 487.1" stroke="#00bc10"/><path d="M53.4 436.8L65.9 441L77.1 444.2L91.6 447.4L114.7 451.6L129.7 454.8L136.6 456.8L147.4 460.6L157.4 465L164.2 469.3L167 471.9L169.5 474.7L177.4 485.4" stroke="#00d408"/><path d="M226.9 452.8L231.8 449.6M55.1 435.8L67.8 439.9L78.9 443.1L93.4 446.3L116.5 450.5L131.6 453.7L147.6 458.3L154.1 460.6L162.3 464.1L165.9 466.1L169.1 468.4L171.8 471L174.1 474L180.1 483.6" stroke="#00d408"/><path d="M218.1 458.6L219.1 456.8L220.9 454.5L225.8 450.8L231 448L241.3 443.3M56.9 434.8L69.5 438.9L80.7 442.1L95.2 445.3L133.4 452.5L149.9 456.9L163.2 461.3L171.2 464.9L175.8 468.5L179 473L183.2 481.6" stroke="#08f008"/><path d="M212.4 462.3L212.4 460.1L213.5 457.5L215.8 454.8L218.7 452.6L227.3 447.8L240.9 442.1M58.6 433.8L73.4 438.6L84.7 441.6L96.8 444.3L137.7 452L154.6 456.1L172.9 461.6L178.8 464.3L181.8 466.8L183.9 469.9L186.8 479.2" stroke="#08f008"/><path d="M206 466.6L202.9 464.1L202.5 462.2L203.9 459.8L208 456.2L214.4 452L221.7 448.4L227.4 445.9L239.5 441.4M60.3 432.8L77.3 438.2L88.7 441.2L103.5 444.3L139.5 450.8L154.5 454L186.3 461.7L190.6 463.3L192.3 464.4L193.2 466L193.1 468.3L192.1 473.3L192 475.8" stroke="#60ff08"/><path d="M62.7 431.4L84 438.2L100.6 442L142.1 449.2L167.8 454.1L181.9 455.8L190.2 455.6L195.6 454.8L200.6 453.8L222.9 445.2L237.6 440.2" stroke="#60ff08"/><path d="M65.1 430L86.3 436.8L102.8 440.8L120.7 443.9L168.4 451.6L178.6 452.6L188.1 452.3L198.8 450.7L205.6 448.8L235.6 439.1" stroke="#b0ff08"/><path d="M67.6 428.6L88.5 435.5L104.9 439.5L138.7 445.1L168.5 449.4L174.3 450L184.3 450L195.4 448.7L204.9 446.4L233.6 438" stroke="#b0ff08"/><path d="M70.1 427.2L90.6 434.3L99.8 436.6L109.3 438.7L140.9 443.8L157.8 446.1L174 447.9L183.9 447.8L195 446.4L204.6 444.2L231.6 436.8" stroke="#e8ff08"/><path d="M72.6 425.7L92.8 433L109.1 437L141.5 442.2L158.5 444.5L170.4 445.7L180.9 445.8L192.8 444.6L204.4 442.1L229.5 435.6" stroke="#e8ff08"/><path d="M75.2 424.2L93 431L100.3 433.1L110.8 435.5L142.6 440.7L159.1 442.8L167.8 443.6L174.2 443.9L180.7 443.8L192 442.7L202.5 440.5L227.4 434.4" stroke="#ffee08"/><path d="M78 422.6L95.4 429.6L111.2 433.7L142.2 438.9L163.4 441.4L177.1 442L189.2 441L202.3 438.5L225.3 433.2" stroke="#ffee08"/><path d="M80.8 421L97.9 428L111.1 431.6L138.9 436.6L159.7 439.2L174.2 439.9L186.2 439.2L197.4 437.5L223 431.9" stroke="#ffc008"/><path d="M82.6 419.9L99.7 427L112.7 430.6L140.5 435.6L160.3 438L175.2 438.6L187 437.8L200.4 435.6L221.6 431.1" stroke="#ffc008"/><path d="M84.6 418.8L99.5 425.2L112.6 429L137.5 433.7L158.5 436.5L174.7 437.2L185 436.6L198.8 434.5L220.2 430.2" stroke="#ff8808"/><path d="M86.6 417.7L101.5 424.1L114.6 427.9L138.7 432.5L155.6 434.7L170.6 435.6L180.8 435.5L193.8 434L218.7 429.4" stroke="#ff8808"/><path d="M88.7 416.5L103.2 422.7L114.5 426L139 430.9L156.4 433.2L170.9 434L180.5 433.9L195.9 432.2L217.2 428.5" stroke="#ff5008"/><path d="M90.9 415.2L103.8 420.8L114.6 424L136.3 428.6L152.8 431.1L167.6 432.1L179.5 432.2L194.8 430.8L215.6 427.6" stroke="#ff5008"/><path d="M93.2 413.8L104.4 418.6L114.7 421.8L138.9 427L152.1 428.9L169.7 430.1L182.8 430.1L193.9 429.3L214 426.7" stroke="#ff1808"/><path d="M96.2 412.1L107.6 416.7L116.2 419.3L137.8 424L150.4 426L170.6 427.5L183.3 427.8L197.3 427.2L212.1 425.6" stroke="#ff1808"/><path d="M99.5 410.2L109.1 413.9L117.6 416.5L136.3 420.7L148.9 422.9L171.7 424.9L183.7 425.5L196.8 425.5L210.1 424.4" stroke="#e40c0c"/><path d="M103.1 408.1L112.9 411.7L121.5 414.2L135.3 417.5L146.5 419.5L184.1 423.3L196.4 423.7L207.9 423.2" stroke="#e40c0c"/><path d="M107.2 405.8L117.1 409.3L123.5 411.2L136.9 414.6L144.2 416L184.3 421.1L195.9 422L205.7 421.9" stroke="#c40c0c"/><path d="M112.2 402.9L130.3 409.1L139 411.5L146 413.1L184.4 419.1L195.5 420.2L203.2 420.4" stroke="#c40c0c"/><path d="M118.1 399.5L127.1 403.5L134.8 406.4L143.2 409L149.9 410.7L184.4 417.1L195 418.5L200.5 418.9" stroke="#aa0c0c"/><path d="M124.7 395.7L130.7 399.5L137.4 403L143.1 405.3L151.3 408L162.5 410.8L181.7 414.8L197.6 417.2" stroke="#aa0c0c"/><path d="M131.6 391.7L134.7 395.4L138.7 398.6L143.4 401.4L150.7 404.6L158.8 407.3L167.6 409.7L183.8 413.5L194.3 415.3" stroke="#960c0c"/><path d="M137.8 388.2L139 391.1L141.9 394.9L145.8 398.1L152.2 401.8L159.7 404.9L167.9 407.6L181.2 411.2L190.7 413.2" stroke="#960c0c"/><path d="M143.1 385.9L144.5 389.7L147.2 393.6L150.9 397L155.5 399.9L160.7 402.4L168.3 405.4L176.7 408.1L186.2 410.7" stroke="#8a0808"/><path d="M150.1 389.9L152.1 392.6L154.4 394.9L160.1 399L168.9 403.2L180.4 407.3" stroke="#8a0808"/></g>
<g stroke="none" fill-rule="evenodd"><path d="M142.5 497.1L151.4 490L158.4 483.3L165.5 475.5L177.7 460.7L182.9 454.7L188.1 449.2L193.3 444.6L198.3 440.7L201.7 438.6L205 436.8L210 434.6L221.3 430.2L227.7 427.1L234.1 422.9L243.7 415.3L237 403.5L230.2 392.2L223.4 381.4L218.3 373.9L211.5 364.5L206.3 358L201.2 352.1L194.3 344.9L189.2 340.1L182.4 334.5L177.3 330.8L170.6 326.6L163.9 323L157.2 320L150.6 317.6L142.5 315.2L136 320.6L117.9 334.6L109.5 341.4L99.4 350.6L91 359.4L82.6 369.3L74.1 380.4L65.7 392.4L50.4 414.8L41.9 426.4L65.9 445.2L79 454.9L90.6 463.2L104.1 472.5L116.1 480.5L130 489.4L142.5 497.1Z" fill="#00644a"/><path d="M146 494.4L153.1 488.4L158.4 483.3L165.5 475.5L182.9 454.7L188.1 449.2L193.3 444.6L198.3 440.7L205 436.8L221.3 430.2L227.7 427.1L234.1 422.9L243.7 415.3L230.2 392.2L218.3 373.9L206.3 358L201.2 352.1L194.3 344.9L189.2 340.1L182.4 334.5L177.3 330.8L170.6 326.6L163.9 323L157.2 320L150.6 317.6L142.5 315.2L109.5 341.4L99.4 350.6L91 359.4L82.6 369.3L74.1 380.4L50.4 414.8L41.9 426.4L65.9 445.2L90.4 463L103.6 467.9L109.5 470.7L115 473.8L121.9 478.3L131.6 485.2L139.9 491.6L144.5 495.5Z" fill="#007838"/><path d="M160.2 481.4L182.9 454.7L189.8 447.6L195 443.2L200 439.6L205 436.8L221.3 430.2L227.7 427.1L234.1 422.9L243.7 415.3L230.2 392.2L220 376.3L209.7 362.3L199.5 350.2L189.2 340.1L179 332L173.9 328.6L167.2 324.7L155.6 319.4L149 317.1L142.5 315.2L109.5 341.4L101.1 349L92.7 357.5L84.2 367.3L75.8 378.1L67.3 390L50.4 414.8L41.9 426.4L52.4 434.8L63.3 439L72 441.8L79.1 443.7L109.3 450.2L116.1 452.3L120.1 454L125.7 457L130.7 460.3L149.4 475L159.7 482Z" fill="#008c28"/><path d="M169 471.3L184.7 452.8L191.5 446L196.6 441.9L201.7 438.6L206.7 436L221.3 430.2L227.7 427.1L234.1 422.9L243.7 415.3L233.6 397.8L225.1 384L216.6 371.4L209.7 362.3L202.9 354L194.3 344.9L187.5 338.7L179 332L170.6 326.6L162.2 322.2L152.3 318.2L142.5 315.2L114.5 337.3L106.2 344.3L96.1 354L85.9 365.2L79.2 373.6L72.4 382.8L44.8 422.7L56.9 427.2L70.1 431.3L84.7 434.7L113.2 439.9L120.5 441.7L127.2 443.9L136.7 448.6L145.1 454.1L151.2 459L167.3 473.3Z" fill="#00a41c"/><path d="M174.2 464.9L186.4 451L191.5 446L196.6 441.9L201.7 438.6L206.7 436L221.3 430.2L227.7 427.1L234.1 422.9L243.7 415.3L230.2 392.2L220 376.3L209.7 362.3L199.5 350.2L192.6 343.3L185.8 337.2L179 332L172.3 327.6L165.5 323.8L157.2 320L150.6 317.6L142.5 315.2L114.5 337.3L106.2 344.3L94.4 355.7L84.2 367.3L77.5 375.9L70.7 385.1L48.6 417.5L58.9 421.1L72.3 425L86.9 428.3L119.7 434.4L127.9 436.3L134.4 438.6L146.2 444L154.9 449.3L160.7 454.4L172.6 466.9Z" fill="#00bc10"/><path d="M179.5 458.6L184.7 452.8L189.8 447.6L195 443.2L198.3 440.7L206.7 436L221.3 430.2L227.7 427.1L234.1 422.9L243.7 415.3L230.2 392.2L218.3 373.9L206.3 358L196.1 346.6L190.9 341.7L184.1 335.8L177.3 330.8L170.6 326.6L163.9 323L157.2 320L150.6 317.6L142.5 315.2L114.5 337.3L106.2 344.3L96.1 354L85.9 365.2L79.2 373.6L72.4 382.8L52.1 412.4L64.8 416.6L76.2 419.8L90.9 423L116.9 427.6L129.5 430.2L134.3 431.5L147.5 435.9L157.6 440.3L164.5 444.6L167.4 447.2L169.9 449.9L177.9 460.5Z" fill="#00d408"/><path d="M184.7 452.8L193.3 444.6L200 439.6L208.3 435.3L219.4 431L221.4 427.8L225.6 424.3L230.6 421.4L242.9 415.9L243.7 415.3L230.2 392.2L220 376.3L208 360.1L197.8 348.4L192.6 343.3L185.8 337.2L179 332L172.3 327.6L165.5 323.8L157.2 320L150.6 317.6L142.5 315.2L109.5 341.4L101.1 349L92.7 357.5L84.2 367.3L75.8 378.1L67.3 390L55.5 407.5L68.3 411.6L79.7 414.7L94.4 417.9L133.2 425L150.1 429.3L163.6 433.6L171.6 437.2L176.4 440.7L179.6 445.2L183.9 453.6Z" fill="#08f008"/><path d="M193.3 444.6L200 439.6L207.2 435.8L204 433.4L203.6 431.5L205.1 429.1L206.3 427.9L210.7 424.5L215.7 421.5L225.1 417.1L241.3 411L231.9 394.9L225.1 384L216.6 371.4L209.7 362.3L202.9 354L194.3 344.9L187.5 338.7L179 332L170.6 326.6L162.2 322.2L152.3 318.2L142.5 315.2L111.2 340L104.5 345.9L97.8 352.3L85.9 365.2L74.1 380.4L58.8 402.6L76.1 407.9L87.7 410.9L102.8 413.9L139.4 420.3L154.8 423.4L187.1 431L191.5 432.6L193.2 433.7L194.1 435.3L194.1 437.5L193 442.4L192.9 444.9Z" fill="#60ff08"/><path d="M235.4 405.1L237.5 404.4L228.5 389.4L220 376.3L213.2 366.7L206.3 358L201.2 352.1L194.3 344.9L189.2 340.1L182.4 334.5L177.3 330.8L170.6 326.6L163.9 323L157.2 320L150.6 317.6L142.5 315.2L111.2 340L102.8 347.4L96.1 354L87.6 363.2L80.9 371.5L72.4 382.8L63.5 395.5L85.1 402.2L102 406.1L117.6 408.8L168.9 416.8L179.3 417.7L189.1 417.5L199.9 415.8L235.3 405.2Z" fill="#b0ff08"/><path d="M233.6 397.9L221.7 378.9L211.5 364.5L201.2 352.1L190.9 341.7L180.7 333.2L175.6 329.7L168.9 325.6L162.2 322.2L155.6 319.4L149 317.1L142.5 315.2L112.9 338.6L99.4 350.6L91 359.4L84.2 367.3L75.8 378.1L68.4 388.4L89.5 395.4L98.8 397.7L108.7 399.8L140.9 404.7L158.2 407L174.7 408.7L184.9 408.6L196.2 407.3L206 405.1L233.4 397.9Z" fill="#e8ff08"/><path d="M227.2 391.7L229.6 391.2L221.7 378.9L214.9 369.1L208 360.1L202.9 354L197.8 348.4L190.9 341.7L180.7 333.2L175.6 329.7L168.9 325.6L162.2 322.2L155.6 319.4L149 317.1L142.5 315.2L112.9 338.6L101.1 349L94.4 355.7L87.6 363.2L80.9 371.5L73.5 381.2L91.7 387.8L99.2 389.9L110 392.3L142.2 397.3L167.5 400.1L178.4 400.5L190.5 399.6L204 397.2L226 392Z" fill="#ffee08"/><path d="M225.3 384.4L214.9 369.1L206.3 358L196.1 346.6L185.8 337.2L175.6 329.7L165.5 323.8L153.9 318.8L142.5 315.2L114.5 337.3L102.8 347.4L91 359.4L79.1 373.8L96.7 380.6L110.2 384.1L138.8 388.9L160.2 391.5L175 392.2L187.5 391.5L198.9 389.8L224.7 384.5Z" fill="#ffc008"/><path d="M222.5 380L213.2 366.7L202.9 354L194.3 344.9L184.1 335.8L173.9 328.6L163.9 323L153.9 318.8L142.5 315.2L114.5 337.3L104.5 345.9L92.7 357.5L82.9 368.9L98.2 375.2L111.7 378.9L137.4 383.5L158.9 386.1L173.8 386.8L183.4 386.5L195.7 385L220.1 380.5Z" fill="#ff8808"/><path d="M217 376.1L219.5 375.7L208 360.1L197.8 348.4L192.6 343.3L185.8 337.2L175.6 329.7L165.5 323.8L153.9 318.8L142.5 315.2L134.3 321.9L116.2 335.9L107.8 342.9L97.8 352.3L87 363.9L102 370L113.6 373.2L134.7 377.3L152.7 379.8L168.1 380.9L181.2 380.9L193.2 379.8L216 376.3Z" fill="#ff5008"/><path d="M213.7 371.5L216.4 371.2L206.3 358L196.1 346.6L190.9 341.7L184.1 335.8L173.9 328.6L163.9 323L153.9 318.8L142.5 315.2L109.5 341.4L99.4 350.6L91.6 358.7L103.1 363.3L113.8 366.4L138.8 371.5L149.5 373L167.4 374.4L180.6 374.6L195.6 373.7L212.4 371.8Z" fill="#ff1808"/><path d="M212.4 365.7L204.6 356L196.1 346.6L187.5 338.7L179 332L170.6 326.6L162.2 322.2L152.3 318.2L142.5 315.2L112.9 338.6L104.5 345.9L98 352L108 355.6L116.8 358.1L136.1 362.2L149.1 364.2L172.7 366.2L185.2 366.8L198.7 366.7L210.1 366Z" fill="#e40c0c"/><path d="M204.9 360.2L208 360.1L199.5 350.2L189.2 340.1L179 332L170.6 326.6L162.2 322.2L152.3 318.2L142.5 315.2L114.5 337.3L106 344.5L122.8 349.7L136.7 353L144.3 354.4L185.8 359.3L197.8 360.2L204.5 360.2Z" fill="#c40c0c"/><path d="M202.7 353.8L196.1 346.6L189.2 340.1L182.4 334.5L173.9 328.6L167.2 324.7L158.9 320.7L150.6 317.6L142.5 315.2L134.3 321.9L117.2 335.2L132.5 341.1L141 343.7L147.8 345.4L160.1 347.8L183.3 351.7L199.9 353.7Z" fill="#aa0c0c"/><path d="M196.4 347L190.9 341.7L184.1 335.8L177.3 330.8L170.6 326.6L163.9 323L157.2 320L150.6 317.6L142.5 315.2L131.2 324.3L134.4 327.8L140.1 331.8L149 335.9L159.4 339.3L183 344.7L195.8 346.9Z" fill="#960c0c"/><path d="M188 339.1L177.3 330.8L167.2 324.7L155.6 319.4L143.2 315.4L144.6 319.1L147.4 322.8L151.3 326L156 328.8L161.4 331.2L169.4 334.1L178.1 336.7L187.3 339Z" fill="#8a0808"/></g>
<path d="M147.8 493L113.7 471.1L103.5 464.3L95.9 459L85.9 451.5L76.1 443.7L47 419.6M153.1 488.4L142.5 481.5L116.4 465.1L108.8 460L101.2 454.6L93.7 448.8L83.8 440.5L52.1 412.4M158.4 483.3L147.8 476.5L121.7 460.6L114 455.5L106.5 450L98.9 443.8L91.4 437.2L71.7 418.3L57.2 404.9M163.7 477.5L129.5 457.4L121.8 452.4L114.2 446.9L106.6 440.6L101.6 435.9L96.6 431.1L76.8 410.8L62.3 397.4M169 471.3L150.3 461.3L139.9 455.3L129.6 448.9L121.9 443.4L114.3 436.9L109.3 432L89.3 410.6L81.9 403.1L77 398.5L67.3 390M174.2 464.9L160.8 458.5L150.3 452.9L139.9 446.6L129.6 439.4L124.5 435.1L116.9 427.6L111.9 422.1L96.9 405.2L89.4 397.5L82.1 390.8L72.4 382.8M179.5 458.6L168.7 454L158.1 448.7L152.8 445.7L147.6 442.3L142.5 438.7L137.3 434.8L132.2 430.4L124.6 422.7L119.5 417.2L104.5 399.8L97 391.9L89.6 385.2L77.5 375.9M184.7 452.8L173.9 448.5L165.9 444.6L158 439.9L152.8 436.3L147.6 432.3L139.9 425.6L134.8 420.7L127.2 412.3L112 394.5L104.6 386.7L99.6 382.1L94.7 378.1L82.6 369.3M189.8 447.6L179 443.3L171 439.2L163.1 434.1L155.3 428.1L150.2 423.6L142.5 416L124.7 395.3L117.1 387L112.1 382L107.2 377.6L102.2 373.5L97.3 369.9L87.6 363.2M195 443.2L186.8 439.8L178.8 435.7L173.5 432.4L165.6 426.3L160.4 421.8L155.3 416.8L147.6 408.3L137.4 396.2L132.3 390.5L122.2 380.3L114.7 373.6L107.3 367.6L102.4 364.1L92.7 357.5M200 439.6L191.9 435.8L186.5 432.8L181.2 429.3L176 425.1L170.7 420.3L163 412.5L145 391.5L139.9 386L132.3 378.7L122.3 370L114.9 364.2L107.5 358.8L97.8 352.3M205 436.8L196.9 432.2L191.6 428.7L188.9 426.7L183.6 422.1L178.4 416.8L173.2 411.1L157.8 393L152.7 387.3L147.5 382.1L139.9 375L132.4 368.9L117.5 357.4L102.8 347.4M210 434.6L204.6 430.9L199.2 427L193.9 422.5L191.3 419.9L186.1 414L173.1 398.2L165.4 389.2L157.7 381.1L152.6 376.3L142.5 367.7L129.9 358.1L120 350.9L107.8 342.9M214.8 432.7L206.8 425.9L201.5 420.9L198.9 418.1L193.7 411.8L180.8 395.1L175.6 388.9L170.5 383.3L162.8 375.8L150 365L137.5 355.1L125.1 346.4L112.9 338.6M219.7 430.8L211.7 422.8L206.5 416.9L201.3 410.3L191 396.1L185.8 389.4L178.1 380.5L172.9 375.5L167.8 370.9L157.6 362.4L150 356.3L142.5 350.5L137.5 346.9L130.1 342L117.9 334.6M224.5 428.7L216.6 419.4L211.4 412.7L198.5 394.4L193.4 387.4L188.2 381.1L185.6 378.2L180.5 373L172.8 366.1L162.6 357.6L152.5 349.5L147.5 345.7L137.5 339.1L130.1 334.7L122.8 330.7M229.3 426.1L218.9 412.1L206.1 393L200.9 385.8L195.8 379.1L193.2 376.1L188 370.7L182.9 365.8L177.7 361.2L165 350.5L154.9 342.6L149.9 339.1L142.5 334.5L135.1 330.5L127.8 327M234.1 422.9L226.4 411.6L213.6 391.7L205.9 380.7L198.2 371.1L190.4 363L182.7 355.9L172.5 347.1L164.9 341L159.9 337.3L154.9 334L147.4 329.8L140 326.2L132.7 323.2M238.9 419.2L221 390.6L213.4 379.1L208.2 372.1L203.1 365.8L197.9 360L192.8 354.8L185.1 347.6L177.5 341L169.9 335.2L164.8 331.8L159.8 328.8L152.3 325L144.9 321.8L137.6 319.3M137.1 493.8L145.1 487.3L153.1 479.9L161 471.4L176.7 453.5L181.8 448.1L187 443.2L192.1 439L197.1 435.4L202.1 432.3L214.4 425.5L221.7 421L229 415.4L238.6 406.4M131.8 490.5L142.5 481.5L150.4 473.9L158.3 465.6L171.3 451.2L176.4 445.8L181.6 440.9L186.7 436.4L191.7 432.4L209.1 420L216.5 414.1L223.8 407.7L233.6 397.8M126.5 487.2L134.5 480.5L142.5 473.3L150.3 465.5L168.5 446L176.2 438.2L183.9 431.1L196.4 420.3L208.8 409.2L218.7 399.7L228.5 389.4M121.3 483.9L134.6 472.6L145.1 462.5L170.9 435L211.1 394.3L223.4 381.4M116.1 480.5L129.4 469.4L137.2 462.1L142.5 456.9L150.3 448.5L170.8 425.6L191 402.4L218.3 373.9M110.9 477.1L118.9 470.6L126.8 463.9L134.7 456.4L139.9 451L147.6 442.3L163 424.1L178.3 404.6L185.9 395.5L193.4 387.4L205.8 374.8L213.2 366.7M105.8 473.6L113.8 467.3L121.7 460.6L129.5 453.2L134.7 447.8L142.5 438.7L155.3 422.7L160.4 416L170.6 401.6L178.2 392L185.7 383.7L200.6 368.5L208 360.1M100.7 470.2L108.7 463.9L116.6 457.3L124.4 449.9L129.6 444.3L134.8 438.1L147.6 421.1L152.7 414.1L162.9 399L170.5 389L178.1 380.5L193 365.6L197.9 360L202.9 354M95.6 466.7L103.6 460.4L111.5 453.7L119.3 446.2L124.5 440.5L129.7 434L139.9 419.6L145 412.2L155.2 396.6L160.3 389.6L165.4 383.4L170.4 378L182.9 365.8L187.8 360.6L192.8 354.8L197.8 348.4M90.6 463.2L98.6 456.8L106.5 450L111.7 444.9L116.9 439.1L122 432.6L127.1 425.4L134.8 414.1L147.6 394.4L150.1 390.8L155.2 384.1L157.7 381.1L162.8 375.8L175.3 363.7L180.2 358.6L185.2 353L192.6 343.3M85.6 459.6L93.6 453.1L98.8 448.4L104 443.3L109.2 437.7L114.4 431.1L119.5 423.8L127.2 412.3L137.4 396.2L142.5 388.7L145 385.3L150.1 379.1L152.6 376.3L167.7 361.9L175.1 354.3L180.1 348.5L187.5 338.7M80.6 456.1L88.6 449.2L93.8 444.3L99 438.9L104.2 432.8L111.9 422.1L132.3 390.5L139.9 380.3L142.5 377.3L147.5 371.9L162.6 357.6L170 349.9L175 344.1L182.4 334.5M75.7 452.4L83.6 445.2L88.8 440L94 434.2L96.6 431.1L101.8 424.1L106.9 416.5L122.2 392.4L127.2 385.2L132.3 378.7L139.9 370.3L157.5 353.5L162.5 348.4L169.9 340L177.3 330.8M70.8 448.8L78.7 441.1L83.9 435.5L89.1 429.3L91.6 425.9L99.3 414.8L114.6 390.7L119.7 383.5L124.8 377.2L129.8 371.5L134.9 366.3L152.5 349.5L157.4 344.5L164.9 336.3L172.3 327.6M65.9 445.2L76.4 434.1L81.5 427.8L84.1 424.4L91.8 413.2L107 389.2L112.1 382L117.2 375.7L124.8 367.5L134.9 357.5L145 348.1L152.4 340.8L159.8 333L167.2 324.7M61 441.5L68.9 432.7L76.6 423L84.3 411.9L99.5 388.1L104.6 380.9L109.7 374.5L117.3 366.1L127.5 356.3L147.4 337.5L162.2 322.2M56.2 437.8L64 428.5L69.2 421.8L76.8 410.8L94.6 383.6L99.7 376.7L104.8 370.5L109.9 364.9L117.5 357.4L142.5 334.5L157.2 320M51.4 434L59.2 424.3L64.3 417.4L71.9 406.2L84.6 387L89.7 379.7L94.8 373L99.9 366.9L107.5 358.8L115.1 351.5L140 329.6L152.3 318.2M46.6 430.2L56.9 416.6L77.2 386.7L82.3 379.5L89.9 369.6L95 363.6L102.6 355.5L112.7 346L137.6 325.2L147.3 316.6" fill="none" stroke="#000" stroke-width="0.7"/>
<path d="M142.5 497.1L151.4 490L158.4 483.3L165.5 475.5L177.7 460.7L182.9 454.7L188.1 449.2L193.3 444.6L198.3 440.7L201.7 438.6L205 436.8L210 434.6L221.3 430.2L227.7 427.1L234.1 422.9L243.7 415.3L237 403.5L230.2 392.2L223.4 381.4L218.3 373.9L211.5 364.5L206.3 358L201.2 352.1L194.3 344.9L189.2 340.1L182.4 334.5L177.3 330.8L170.6 326.6L163.9 323L157.2 320L150.6 317.6L142.5 315.2L136 320.6L117.9 334.6L109.5 341.4L99.4 350.6L91 359.4L82.6 369.3L74.1 380.4L65.7 392.4L50.4 414.8L41.9 426.4L65.9 445.2L79 454.9L90.6 463.2L104.1 472.5L116.1 480.5L130 489.4L142.5 497.1Z" fill="none" stroke="#000" stroke-width="0.9"/>
<path d="M35.9 324.4L42.9 442.8L142.5 508.3L242.1 442.8M42 428.9L43.6 428M41.2 414.7L42.8 413.8M40.3 400.3L42 399.4M39.5 385.6L41.1 384.7M38.6 370.7L40.3 369.8M37.7 355.6L39.4 354.7M36.8 340.1L38.5 339.3M35.9 324.4L37.6 323.6M142.5 508.3L145.7 506.2M127.4 498.4L130.6 496.4M112.6 488.7L115.8 486.7M98.1 479.2L101.3 477.2M83.9 469.8L87.1 467.9M69.9 460.6L73.1 458.7M56.3 451.7L59.5 449.8M42.9 442.8L46 441M142.5 508.3L139.3 506.2M153.1 501.4L149.9 499.3M163.5 494.5L160.3 492.5M173.8 487.7L170.6 485.7M184 481.1L180.8 479.1M194 474.5L190.8 472.5M203.9 468L200.7 466M213.6 461.6L210.4 459.6M223.2 455.2L220 453.4M232.7 449L229.5 447.1M242.1 442.8L238.9 441" fill="none" stroke="#222" stroke-width="0.8"/>
<g font-size="5.3" fill="#222" stroke="#222" stroke-width="0.12" font-style="italic"><text x="38" y="435.4" text-anchor="end" transform="rotate(-20 38 435.4)">50</text><text x="37.2" y="421.2" text-anchor="end" transform="rotate(-20 37.2 421.2)">100</text><text x="36.3" y="406.8" text-anchor="end" transform="rotate(-20 36.3 406.8)">150</text><text x="35.5" y="392.1" text-anchor="end" transform="rotate(-20 35.5 392.1)">200</text><text x="34.6" y="377.2" text-anchor="end" transform="rotate(-20 34.6 377.2)">250</text><text x="33.7" y="362.1" text-anchor="end" transform="rotate(-20 33.7 362.1)">300</text><text x="32.8" y="346.6" text-anchor="end" transform="rotate(-20 32.8 346.6)">350</text><text x="31.9" y="330.9" text-anchor="end" transform="rotate(-20 31.9 330.9)">400</text><text x="133" y="515.8" text-anchor="middle" transform="rotate(30 133 515.8)">0</text><text x="117.9" y="505.8" text-anchor="middle" transform="rotate(30 117.9 505.8)">10</text><text x="103.1" y="495.9" text-anchor="middle" transform="rotate(30 103.1 495.9)">20</text><text x="88.6" y="486.3" text-anchor="middle" transform="rotate(30 88.6 486.3)">30</text><text x="74.4" y="476.9" text-anchor="middle" transform="rotate(30 74.4 476.9)">40</text><text x="60.5" y="467.6" text-anchor="middle" transform="rotate(30 60.5 467.6)">50</text><text x="46.8" y="458.5" text-anchor="middle" transform="rotate(30 46.8 458.5)">60</text><text x="33.4" y="449.6" text-anchor="middle" transform="rotate(30 33.4 449.6)">70</text><text x="146.7" y="515.8" text-anchor="middle" transform="rotate(33 146.7 515.8)">30</text><text x="157.3" y="508.7" text-anchor="middle" transform="rotate(33 157.3 508.7)">40</text><text x="167.7" y="501.8" text-anchor="middle" transform="rotate(33 167.7 501.8)">50</text><text x="178" y="495" text-anchor="middle" transform="rotate(33 178 495)">60</text><text x="188.2" y="488.2" text-anchor="middle" transform="rotate(33 188.2 488.2)">70</text><text x="198.2" y="481.6" text-anchor="middle" transform="rotate(33 198.2 481.6)">80</text><text x="208.1" y="475" text-anchor="middle" transform="rotate(33 208.1 475)">90</text><text x="217.8" y="468.5" text-anchor="middle" transform="rotate(33 217.8 468.5)">100</text><text x="227.4" y="462.1" text-anchor="middle" transform="rotate(33 227.4 462.1)">110</text><text x="236.9" y="455.9" text-anchor="middle" transform="rotate(33 236.9 455.9)">120</text><text x="246.2" y="449.6" text-anchor="middle" transform="rotate(33 246.2 449.6)">130</text></g>
<g font-size="6.55" fill="#111" stroke="#111" stroke-width="0.4"><text x="71" y="488.5" text-anchor="middle" transform="rotate(33.3 71 488.5)">Pretreatment time [min]</text><text x="215" y="490.5" text-anchor="middle" transform="rotate(-33.3 215 490.5)">Pretreatment pressure [PSI]</text><g transform="translate(18 393.6) rotate(86.6)"><text x="0" y="0" text-anchor="middle">Glucose concentration</text><text x="4.5" y="11" text-anchor="middle">[mg/g biomass of beech chips]</text></g></g></g>
<g><path d="M310.4 445.9L303.4 327.5M320.9 439.9L314.7 321.9M331.3 433.9L325.9 316.3M341.6 427.9L336.9 310.8M351.7 422.1L347.8 305.3M361.8 416.3L358.5 300M371.7 410.6L369.1 294.7M381.4 405L379.5 289.5M391.1 399.5L389.8 284.3M400.6 394L399.9 279.3M410 388.6L410 274.2M509.6 445.9L516.6 327.5M494.5 437.3L500.4 319.4M479.8 428.8L484.6 311.5M465.3 420.4L469.1 303.8M451.1 412.3L453.9 296.2M437.1 404.2L439 288.7M423.4 396.3L424.3 281.4M410 388.6L410 274.2M310.4 445.9L410 388.6L509.6 445.9M309.5 432L410 375.1L510.4 432M308.7 417.8L410 361.3L511.2 417.8M307.8 403.4L410 347.4L512.1 403.4M307 388.7L410 333.2L513 388.7M306.1 373.8L410 318.8L513.8 373.8M305.2 358.7L410 304.2L514.7 358.7M304.3 343.2L410 289.4L515.6 343.2M303.4 327.5L410 274.2L516.6 327.5" fill="none" stroke="#dcdcdc" stroke-width="0.9"/>
<g fill="none" stroke-width="0.6" opacity="0.9"><path d="M310.5 445.9L333.2 460L342.6 466.5L350 472" stroke="#008c28"/><path d="M436.6 493.9L438.3 491.2L441.3 488.7L445 486.6L451.4 484.2M312.5 444.7L337.6 459.3L357.2 472L363.5 476.6L369.4 481.5L373.3 485.5L375.8 489" stroke="#008c28"/><path d="M424.7 501.8L420.2 497.8L419.1 496.2L418.6 494.3L419.3 492.3L422.1 489.7L425.7 487.6L429.8 485.7L438.7 482.6L448.6 480.2L459.9 478.6M314.6 443.5L326.7 450L357.8 467.5L378.7 479.9L389 486.5L393.5 490.2L394.8 491.7L395.6 493.3L395.7 495.2L395 497L392.5 500" stroke="#00a41c"/><path d="M414.1 508.7L409.2 508.6L406.1 508.9M316.9 442.2L348.6 458.8L370.9 469.9L385 476L396.5 479.6L405.1 481L414.7 481.1L423.1 480.2L449.1 476.3L465 475.3" stroke="#00a41c"/><path d="M319.2 440.9L344.1 453.5L367 464L381.5 469.7L388.4 471.8L395.8 473.5L405.8 474.9L416.6 475.3L424.4 474.9L450.5 472.9L460.2 472.6L468.9 472.7" stroke="#00bc10"/><path d="M321.4 439.6L342.9 450.2L364.3 459.5L379.1 464.9L386 466.9L393.4 468.6L404.4 470.3L413.6 470.9L423.8 471L455.8 469.9L472.2 470.5" stroke="#00bc10"/><path d="M323.6 438.3L341.5 447.1L359.1 454.6L377 460.9L385.2 463.2L392.7 464.9L403.6 466.5L414.2 467.3L425.7 467.6L455 467.3L465.9 467.7L475.2 468.5" stroke="#00d408"/><path d="M325.7 437.1L341.9 445L357.6 451.4L376.9 458L391.3 461.4L402.2 463.1L414.1 464.2L457.9 465L469.4 465.8L477.9 466.7" stroke="#00d408"/><path d="M327.7 435.9L342.1 442.9L357.9 449.2L375.3 454.9L389.8 458.3L400.4 460.1L412.1 461.2L424.6 461.8L457.5 462.7L469.2 463.6L480.4 465.1" stroke="#08f008"/><path d="M329.6 434.8L344.1 441.7L358.2 447.1L375.7 452.6L390.4 455.9L401.1 457.5L412.8 458.7L461.1 460.7L471.9 461.8L482.8 463.5" stroke="#08f008"/><path d="M331.4 433.8L344.2 439.7L358.3 445.1L373.7 449.8L388.2 453.1L398.8 454.8L413.2 456.3L450.9 458L463 458.8L473.4 460L485.1 462" stroke="#60ff08"/><path d="M332.8 433L345.7 438.9L360 444.1L375.6 448.6L389.1 451.6L401.2 453.4L412.7 454.5L462.2 457.2L474.4 458.6L486.8 460.9" stroke="#60ff08"/><path d="M334.1 432.2L347.2 438L359.5 442.4L372.8 446.3L387.3 449.6L400.6 451.7L412.1 452.8L452.3 454.9L464.3 455.8L475.5 457.3L488.5 459.8" stroke="#b0ff08"/><path d="M335.5 431.5L348.7 437.1L361.1 441.5L374.6 445.3L389.3 448.4L402.8 450.3L414.4 451.4L452.2 453.4L463.8 454.3L476.7 456L490.1 458.7" stroke="#b0ff08"/><path d="M336.7 430.7L350.1 436.3L362.7 440.5L376.3 444.2L388.7 446.8L402.1 448.7L413.6 449.8L453.2 452L464.8 452.9L478 454.7L491.8 457.7" stroke="#e8ff08"/><path d="M338 430L349.5 434.7L362.1 438.9L375.7 442.6L389.1 445.4L401.4 447.1L412.8 448.3L454.3 450.6L464.4 451.5L478.2 453.3L493.3 456.6" stroke="#e8ff08"/><path d="M339.3 429.3L350.9 433.9L363.6 438L377.4 441.6L389.8 444L400.6 445.6L411.9 446.8L454.6 449.2L466.3 450.3L479.9 452.2L494.9 455.6" stroke="#ffee08"/><path d="M340.5 428.6L352.4 433.1L365.2 437.1L376.7 440L389.1 442.5L400.5 444.2L413.9 445.6L453.5 447.8L468.1 449.1L481.6 451.2L496.5 454.5" stroke="#ffee08"/><path d="M341.8 427.8L353.8 432.2L366.8 436.2L378.4 439L390.9 441.4L401.6 442.9L413.7 444.2L454.1 446.5L467.1 447.6L480.6 449.6L498.1 453.5" stroke="#ffc008"/><path d="M343.3 427L355.5 431.2L366.4 434.4L378 437.3L390.5 439.7L402.5 441.4L415.3 442.6L454.7 444.9L466.4 445.9L482.6 448.3L500.1 452.2" stroke="#ffc008"/><path d="M344.9 426.1L357.3 430.2L368.3 433.3L381 436.2L392.7 438.3L403.4 439.8L415.1 441L454 443.3L467.2 444.4L481.9 446.6L502.1 450.9" stroke="#ff8808"/><path d="M346.4 425.2L359.1 429.1L371.6 432.4L382.2 434.8L394.9 437L405.8 438.4L417.2 439.5L453.3 441.6L467.8 442.9L481.3 444.9L504.1 449.5" stroke="#ff8808"/><path d="M348 424.2L360.9 428.1L372.4 430.9L382.5 433.1L394.6 435.2L416.3 437.7L453.1 440L467.1 441.3L480.5 443.3L506.2 448.1" stroke="#ff5008"/><path d="M349.7 423.3L362.7 426.9L373.2 429.3L386.7 432.1L396.7 433.8L416.3 436L453.8 438.5L465.6 439.6L478.5 441.4L508.5 446.7" stroke="#ff5008"/><path d="M351.5 422.3L363.5 425.4L373.7 427.6L397 432L413.3 433.9L450.7 436.6L465.6 438.1L476.4 439.5L507.4 444.7" stroke="#ff1808"/><path d="M353.3 421.2L374.1 425.9L397.2 430.1L413.5 432.1L463.3 436.3L475.6 438L503.7 442.6" stroke="#ff1808"/><path d="M355.2 420.1L374.3 424L399.6 428.3L415.8 430.3L461.3 434.6L472.8 436.1L500.3 440.6" stroke="#e40c0c"/><path d="M357.3 418.9L369.7 421.2L404.8 426.8L460.9 433L497.1 438.7" stroke="#e40c0c"/><path d="M359.6 417.6L413.9 425.6L461.7 431.5L493.8 436.9" stroke="#c40c0c"/><path d="M362.4 415.9L381.7 417.8L389.5 418.9L417.3 423.5L462.5 430.1L490.6 435" stroke="#c40c0c"/><path d="M366.1 413.8L381.4 414.3L389.5 415.1L420.8 421.4L463.3 428.7L487.4 433.1" stroke="#aa0c0c"/><path d="M373.4 409.6L382.4 407.5L386.5 407.6L406.7 414.5L419.9 418.1L436.4 421.8L483.9 431.2" stroke="#aa0c0c"/><path d="M400.4 394.1L401.6 400.7L402.7 403.7L403.6 405L407.3 408.4L414 412L423.9 415.7L434.9 418.8L451.1 422.7L480.2 429" stroke="#960c0c"/><path d="M413.8 390.8L412.3 391.7L411.3 392.9L410.7 394.4L410.7 397.2L411.6 400.4L413.1 403.2L415.2 405.7L417.9 407.8L421 409.8L430 413.9L440.3 417.4L455.8 421.7L476.1 426.7" stroke="#960c0c"/><path d="M420.5 394.6L420.1 396.2L420.2 398.1L421.7 401.9L424.8 405.6L430.6 409.8L437.6 413.2L445.4 416.3L456 419.7L471.4 424" stroke="#8a0808"/><path d="M428.7 399.4L430.3 402.4L432.4 404.9L435 407.2L439.5 410.2L444.7 412.8L450.3 415.3L465.3 420.4" stroke="#8a0808"/></g>
<g stroke="none" fill-rule="evenodd"><path d="M410 496.8L417.1 493.6L432.9 487.1L438 484.6L441.5 482.7L446.6 479.4L451.7 475.5L456.8 471L461.8 465.7L465.2 461.9L470.3 455.4L475.4 448.3L480.5 440.6L489.1 426.4L506.3 396.6L513.1 385.6L506.1 377.2L490.3 357.1L481.6 346.9L476.3 341.4L471.1 336.4L467.6 333.4L462.4 329.3L457.2 325.8L452 322.7L446.8 320.1L440 317.2L433.2 314.9L424.8 312.5L418.2 311.1L410 309.7L408.3 310.3L405.1 312L401.8 314.3L395.2 319.5L390.2 323L385.2 325.8L376.8 330L371.7 333L368.2 335.5L364.8 338.6L359.7 344.5L354.7 351.9L349.7 360.9L344.7 371L333.2 396.3L328.3 406.7L323.3 416.2L313.3 433.8L310 440L321 447.7L333.8 456L346.7 464.1L358.2 470.8L371.7 478.2L383.6 484.4L395.8 490.3L410 496.8Z" fill="#00644a"/><path d="M411.8 496L432.9 487.1L441.5 482.7L446.6 479.4L451.7 475.5L456.8 471L461.8 465.7L470.3 455.4L480.5 440.6L489.1 426.4L506.3 396.6L513.1 385.6L506.1 377.2L490.3 357.1L481.6 346.9L471.1 336.4L462.4 329.3L457.2 325.8L450.3 321.8L443.4 318.6L436.6 316L428.1 313.4L419.8 311.4L410 309.7L408.3 310.3L403.4 313.1L395.2 319.5L390.2 323L375.1 330.9L369.9 334.2L364.8 338.6L359.7 344.5L354.7 351.9L349.7 360.9L344.7 371L328.3 406.7L323.3 416.2L310 440L333.8 456L358.2 470.8L383.6 484.4L410 496.8Z" fill="#007838"/><path d="M411.8 496L432.9 487.1L441.5 482.7L446.6 479.4L451.7 475.5L456.8 471L461.8 465.7L470.3 455.4L480.5 440.6L489.1 426.4L506.3 396.6L513.1 385.6L506.1 377.2L490.3 357.1L481.6 346.9L471.1 336.4L462.4 329.3L457.2 325.8L450.3 321.8L443.4 318.6L436.6 316L428.1 313.4L419.8 311.4L410 309.7L408.3 310.3L403.4 313.1L395.2 319.5L390.2 323L375.1 330.9L369.9 334.2L364.8 338.6L359.7 344.5L354.7 351.9L349.7 360.9L344.7 371L328.3 406.7L323.3 416.2L310.1 439.8L329.7 451.8L340.8 459.2L349.8 465.9L358.2 470.8L383.6 484.4L410 496.8Z" fill="#008c28"/><path d="M411.8 496L424.8 490.5L420.3 486.6L419.2 485L418.7 483.1L419.4 481.1L420.6 479.7L424 477.4L429.9 474.6L436.5 472.2L448.9 469.1L460.3 467.4L461.8 465.7L470.3 455.4L480.5 440.6L489.1 426.4L506.3 396.6L513.1 385.6L506.1 377.2L490.3 357.1L481.6 346.9L471.1 336.4L462.4 329.3L457.2 325.8L450.3 321.8L443.4 318.6L436.6 316L428.1 313.4L419.8 311.4L410 309.7L408.3 310.3L403.4 313.1L395.2 319.5L390.2 323L375.1 330.9L369.9 334.2L364.8 338.6L359.7 344.5L354.7 351.9L349.7 360.9L344.7 371L328.3 406.7L323.3 416.2L314 432.5L353.9 454.5L375 466.7L387.2 474.2L393.4 479L394.7 480.5L395.5 482.1L395.6 483.9L394.9 485.7L392.4 488.7L410 496.8Z" fill="#00a41c"/><path d="M467.7 456.5L469.5 456.6L475.4 448.3L480.5 440.6L489.1 426.4L506.3 396.6L513.1 385.6L506.1 377.2L490.3 357.1L481.6 346.9L471.1 336.4L462.4 329.3L457.2 325.8L452 322.7L446.8 320.1L440 317.2L433.2 314.9L424.8 312.5L410 309.7L405.1 312L390.2 323L376.8 330L371.7 333L366.5 337L361.4 342.3L356.4 349.3L349.7 360.9L344.7 371L329.9 403.3L325 413.1L318.3 425L341.6 436.6L364.5 447.1L381.3 453.6L393.1 456.9L404 458.7L413.6 459.2L424.5 458.8L450.9 456.8L466.1 456.5Z" fill="#00bc10"/><path d="M474.5 447.3L476 447.4L482.3 437.8L504.6 399.5L513.1 385.6L506.1 377.2L490.3 357.1L481.6 346.9L471.1 336.4L462.4 329.3L457.2 325.8L452 322.7L446.8 320.1L440 317.2L433.2 314.9L424.8 312.5L410 309.7L405.1 312L390.2 323L376.8 330L371.7 333L366.5 337L361.4 342.3L356.4 349.3L349.7 360.9L344.7 371L329.9 403.3L322.6 417.5L340.7 426.2L358.4 433.6L376.6 439.9L384.9 442.1L392.5 443.8L403.5 445.4L415.9 446.3L455.6 446.2L473 447.1Z" fill="#00d408"/><path d="M478.8 438.5L481.5 439L489.1 426.4L504.6 399.5L513.1 385.6L506.1 377.2L490.3 357.1L481.6 346.9L471.1 336.4L462.4 329.3L457.2 325.8L452 322.7L446.8 320.1L440 317.2L433.2 314.9L424.8 312.5L410 309.7L405.1 312L390.2 323L376.8 330L371.7 333L366.5 337L361.4 342.3L356.4 349.3L349.7 360.9L326.5 410.2L341.1 417.1L357.1 423.3L374.8 428.9L389.5 432.3L400.3 434L412.1 435.1L424.8 435.7L458.3 436.6L470.1 437.5L478.8 438.5Z" fill="#08f008"/><path d="M484 430.4L486.5 430.9L504.6 399.5L513.1 385.6L506.1 377.2L490.3 357.1L483.3 348.8L472.9 338L464.1 330.6L458.9 326.9L453.7 323.7L448.5 321L441.7 317.9L434.9 315.4L428.1 313.4L414.9 310.5L410 309.7L406.7 311L403.4 313.1L395.2 319.5L390.2 323L376.8 330L371.7 333L366.5 337L363.1 340.4L359.7 344.5L356.4 349.3L349.7 360.9L344.7 371L330 403.1L345 409.7L359.5 414.9L375.4 419.4L390.4 422.6L404.3 424.4L416.3 425.4L461.9 427.5L474.5 428.9L483.8 430.4Z" fill="#60ff08"/><path d="M490.8 423.5L504.6 399.5L513.1 385.6L506.1 377.2L488.6 355L481.6 346.9L476.3 341.4L469.4 334.8L462.4 329.3L455.4 324.7L448.5 321L438.3 316.6L426.5 312.9L418.2 311.1L410 309.7L408.3 310.3L403.4 313.1L395.2 319.5L390.2 323L375.1 330.9L368.2 335.5L363.1 340.4L359.7 344.5L353 354.8L346.3 367.5L332.6 397.6L345.9 403.3L358.4 407.6L372 411.5L386.9 414.7L400.4 416.7L412.2 417.8L463.8 420.6L476.9 422.2L490.1 424.7Z" fill="#b0ff08"/><path d="M494.3 417.5L504.6 399.5L513.1 385.6L506.1 377.2L486.8 352.9L479.8 345L474.6 339.6L467.6 333.4L460.7 328.1L453.7 323.7L445.1 319.3L434.9 315.4L424.8 312.5L410 309.7L408.3 310.3L403.4 313.1L395.2 319.5L390.2 323L375.1 330.9L368.2 335.5L363.1 340.4L359.7 344.5L353 354.8L346.3 367.5L335.1 392.2L348.7 397.6L361.6 401.8L375.5 405.4L388.2 407.9L401.9 409.8L413.7 410.9L454.2 413L466.1 413.9L479.5 415.7L493.7 418.6Z" fill="#e8ff08"/><path d="M497.7 411.5L506.3 396.6L513.1 385.6L506.1 377.2L486.8 352.9L479.8 345L472.9 338L465.9 331.9L457.2 325.8L448.5 321L440 317.2L431.5 314.4L421.5 311.7L410 309.7L408.3 310.3L403.4 313.1L395.2 319.5L390.2 323L375.1 330.9L368.2 335.5L363.1 340.4L359.7 344.5L353 354.8L346.3 367.5L337.5 386.8L349.5 391.3L362.5 395.3L376.6 398.8L389.3 401.2L400.3 402.8L412 403.9L455.7 406.3L467.7 407.3L481.7 409.3L497.1 412.5Z" fill="#ffee08"/><path d="M501.2 405.4L513.1 385.6L506.1 377.2L485.1 350.8L478.1 343.1L471.1 336.4L464.1 330.6L455.4 324.7L446.8 320.1L436.6 316L428.1 313.4L419.8 311.4L410 309.7L408.3 310.3L403.4 313.1L395.2 319.5L390.2 323L375.1 330.9L368.2 335.5L363.1 340.4L359.7 344.5L353 354.8L346.3 367.5L339.9 381.4L346 383.6L356.6 387.1L367.9 390.1L380 392.8L393.1 395.1L404.2 396.5L416 397.5L455.3 399.6L468.7 400.7L482.6 402.7L500.6 406.4Z" fill="#ffc008"/><path d="M503.9 398.8L504.9 399L513.1 385.6L506.1 377.2L488.6 355L479.8 345L472.9 338L467.6 333.4L460.7 328.1L453.7 323.7L446.8 320.1L438.3 316.6L429.8 313.9L421.5 311.7L410 309.7L408.3 310.3L403.4 313.1L395.2 319.5L390.2 323L375.1 330.9L368.2 335.5L364.8 338.6L361.4 342.3L356.4 349.3L349.7 360.9L342.9 374.9L357.6 379.4L369.4 382.4L380.1 384.7L392.2 386.8L403.2 388.2L414.9 389.3L455.4 391.6L469 392.7L484.2 394.9L502.3 398.4Z" fill="#ff8808"/><path d="M509.7 391L513.1 385.6L506.1 377.2L486.8 352.9L479.8 345L472.9 338L467.6 333.4L462.4 329.3L457.2 325.8L450.3 321.8L445.1 319.3L438.3 316.6L424.8 312.5L410 309.7L406.7 311L403.4 313.1L395.2 319.5L390.2 323L375.1 330.9L368.2 335.5L364.8 338.6L361.4 342.3L358.1 346.8L354.7 351.9L351.3 357.8L346 368.2L360 372.1L381.6 376.8L399.6 379.6L419.9 381.5L454.6 383.5L469 384.8L482.9 386.6L509.5 391.4Z" fill="#ff5008"/><path d="M511 383.1L490.3 357.1L481.6 346.9L471.1 336.4L462.4 329.3L457.2 325.8L452 322.7L446.8 320.1L440 317.2L433.2 314.9L424.8 312.5L410 309.7L405.1 312L390.2 323L375.1 330.9L368.2 335.5L363.1 340.4L358.1 346.8L353 354.8L349.4 361.4L361.9 364.4L372.4 366.6L396.5 370.8L413.4 372.7L452.2 375.3L467.6 376.7L478.9 378.1L508.8 382.8Z" fill="#ff1808"/><path d="M503.9 374.4L490.3 357.1L479.8 345L471.1 336.4L465.9 331.9L460.7 328.1L450.3 321.8L445.1 319.3L438.3 316.6L424.8 312.5L410 309.7L405.1 312L390.2 323L375.1 330.9L368.2 335.5L363.1 340.4L359.7 344.5L353.1 354.7L372.9 358.4L400.8 362.7L416.1 364.4L462 368.4L475.2 370L501.8 374.1Z" fill="#e40c0c"/><path d="M497.3 366L485.1 350.8L476.3 341.4L467.6 333.4L462.4 329.3L457.2 325.8L446.8 320.1L436.6 316L423.1 312.1L410 309.7L405.1 312L390.2 323L375.1 330.9L369.9 334.2L366.5 337L363.1 340.4L357.6 347.5L411.3 354.8L463.8 360.9L497.3 366Z" fill="#c40c0c"/><path d="M490.8 357.7L481.6 346.9L472.9 338L464.1 330.6L455.4 324.7L445.1 319.3L434.9 315.4L423.1 312.1L411.6 309.9L410 309.7L405.1 312L390.2 323L376.8 330L371.7 333L368.2 335.5L364.2 339.2L380.1 339.7L388.6 340.5L421.3 346.5L465.6 353.4L490.1 357.6Z" fill="#aa0c0c"/><path d="M483.5 349.1L476.3 341.4L469.4 334.8L462.4 329.3L453.7 323.7L445.1 319.3L436.6 316L426.5 312.9L416.5 310.8L410 309.7L405.1 312L399.9 315.8L401.2 322L402.4 324.9L404.4 327.4L408.8 330.4L412.3 332.1L418.2 334.3L431.4 338.1L450.6 342.5L483.2 349Z" fill="#960c0c"/><path d="M474.4 339.5L469.4 334.8L464.1 330.6L458.9 326.9L452 322.7L445.1 319.3L438.3 316.6L431.5 314.4L423.1 312.1L421 311.6L420.6 313.2L420.9 315.7L422.2 318.5L425.5 322.1L431.6 326L438.9 329.3L447.2 332.2L458.2 335.4L472.3 339Z" fill="#8a0808"/></g>
<path d="M415.3 494.4L404.6 488.9L391.5 481.6L378.7 474.1L366 466.3L351.1 456.6L338.9 448.3L324.5 438L315 430.8M420.6 492.2L407.3 484.2L396.8 477.6L386.5 470.8L373.8 462.1L351.3 446L320 422.1M425.9 490.1L404.7 475.3L384.1 460.1L361.4 442.4L336.9 422.4L325 413.1M431.1 487.9L410 471.3L389.3 454.4L366.6 435L341.9 413.2L329.9 403.3M436.3 485.5L412.6 464.8L394.5 448.6L374.2 429.7L349.4 405.8L334.8 392.7M441.5 482.7L415.2 457.6L399.7 442.5L384.4 427.1L356.9 398.6L339.8 381.8M446.6 479.4L422.9 455.2L407.4 439L392.1 422.3L366.9 394.4L344.7 371M451.7 475.5L417.7 438.4L404.8 423.7L377 390.9L367 379.7L349.7 360.9M456.8 471L435.8 447.1L422.8 432L410 416.4L392.1 394.2L382 382.1L374.5 373.6L354.7 351.9M461.8 465.7L443.5 444.2L430.5 428.5L420.2 415.5L402.3 392.2L392.2 379.6L382.1 368.2L359.7 344.5M466.9 459.8L451.2 440.9L438.2 424.8L430.5 414.8L410 387.3L399.8 374.6L394.7 368.7L387.2 360.8L364.8 338.6M472 453.1L458.9 437.4L448.5 424.3L438.1 410.7L417.6 382.7L412.5 376.1L407.4 370L399.8 361.7L392.3 354.2L369.9 334.2M477.1 445.8L464 430.1L456.2 420.3L445.8 406.5L427.8 381.7L422.7 375L415.1 365.8L407.4 357.7L402.4 352.9L397.3 348.4L387.4 340.2L375.1 330.9M482.3 437.8L471.7 425.5L463.9 415.9L456.1 405.7L440.6 384.3L432.9 374.1L427.8 367.7L420.1 359.1L412.5 351.6L407.4 347.1L402.4 343L392.4 335.9L380.1 328.3M487.4 429.4L479.5 420.4L471.6 411.1L463.8 401.1L443.1 373.1L435.4 363.6L427.7 355.2L422.6 350.2L417.6 345.7L412.5 341.7L407.5 338L402.4 334.8L397.5 331.9L392.5 329.3L385.2 325.8M492.5 420.5L484.6 411.8L476.7 402.6L468.9 392.7L456 375.4L448.2 365.5L440.5 356.6L432.8 348.7L427.7 344.2L422.6 340.1L417.5 336.4L412.5 333.2L407.5 330.4L402.5 327.9L397.6 325.7L390.2 323M497.7 411.5L489.7 402.9L481.9 393.7L474 383.9L461 367.2L455.9 360.9L448.1 352.2L440.4 344.6L435.3 340.2L430.1 336.3L425.1 332.9L420 329.8L415 327.2L407.5 323.8L402.5 321.9L395.2 319.5M502.9 402.4L494.9 393.8L489.6 387.7L468.7 361.9L463.5 355.8L455.8 347.4L448 340.1L442.8 336L437.7 332.3L432.6 329.1L427.5 326.3L422.5 323.8L414.9 320.7L400.1 315.6M508 393.7L497.4 381.7L479.1 359.2L471.2 350.2L463.4 342.1L455.6 335.3L450.4 331.4L445.3 327.9L440.1 325L435 322.4L429.9 320.2L422.4 317.4L405.1 312M404.6 494.4L425.8 483.7L431 480.8L436.1 477.6L441.3 473.9L446.4 469.8L451.5 465L456.6 459.6L461.7 453.5L466.8 446.8L471.9 439.6L477 431.7L484.7 419.1L500.1 392.3L507.8 379.3M399.3 492L420.5 479.6L425.7 476.3L430.9 472.6L436 468.6L441.1 464L446.2 459L451.3 453.4L456.4 447.3L461.5 440.5L466.6 433.3L471.7 425.5L482 408.8L502.6 372.7M394 489.5L412.6 477.3L420.4 471.7L425.6 467.6L430.8 463.2L435.9 458.4L441 453.1L446.1 447.3L451.2 440.9L456.3 434.1L461.4 426.9L469 415.2L479.3 398.2L497.3 366M388.8 487L407.3 473.4L415.2 467.1L420.4 462.6L425.5 457.8L430.7 452.7L435.8 447.1L440.9 441.1L446 434.6L451.1 427.7L458.7 416.5L463.8 408.6L471.5 396L476.6 387.3L492.1 359.3M383.6 484.4L399.5 471.6L407.4 464.9L412.6 460.1L420.3 452.5L425.5 447L430.6 441.1L435.7 434.8L440.8 428.1L445.9 421L451 413.5L458.6 401.7L466.3 389.2L474 376.2L486.8 352.9M378.5 481.8L394.3 467.8L402.2 460.4L407.4 455.3L415.1 447.1L420.3 441.2L425.4 435L430.5 428.5L440.7 414.2L448.4 402.6L456 390.6L468.8 369.5L481.6 346.9M373.3 479.1L389.2 463.9L402.2 450.5L412.5 438.6L422.8 425.5L433 411L450.9 383.4L463.6 363L476.3 341.4M368.3 476.4L381.5 462.8L391.9 451.5L402.2 439.4L412.5 426.2L420.2 415.5L427.9 404L455.9 360.9L471.1 336.4M363.2 473.6L376.4 459.1L386.8 447L397.1 434.1L404.8 423.7L415.1 408.8L432.9 381.2L453.2 351.2L465.9 331.9M358.2 470.8L368.7 458.5L376.5 449.1L384.3 439.2L392 428.7L402.3 413.9L422.7 382.1L427.8 374.5L460.7 328.1M353.3 467.9L368.9 448.4L379.3 434.4L392.1 415.7L412.5 383.3L420.2 371.8L430.3 357.9L455.4 324.7M348.4 465L363.9 444.4L374.2 429.7L384.5 413.9L404.9 380.8L412.5 369.3L417.6 362.4L425.2 352.7L450.3 321.8M343.5 462.1L356.4 444.2L366.7 428.9L376.9 412.5L394.7 382.6L399.8 374.6L404.9 367.1L410 360.3L417.6 350.9L445.1 319.3M338.6 459.1L351.5 440.3L359.1 428.4L366.8 415.8L387.1 380.8L392.2 372.6L397.3 365.1L404.9 355.2L412.5 346.4L422.6 335.5L440 317.2M333.8 456L344 440.5L351.6 428.3L359.3 415.3L379.5 379.2L384.6 370.9L389.7 363.4L397.3 353.5L404.9 345L415 334.8L434.9 315.4M328.9 452.9L339.1 436.8L346.7 424L354.3 410.5L372 377.9L377.1 369.4L382.1 361.7L384.7 358.2L389.8 351.9L397.4 343.6L407.5 334L429.8 313.9M324.2 449.8L334.3 433.1L341.9 419.9L349.4 405.8L362 381.6L367 372.4L372.1 364L377.1 356.6L379.7 353.3L384.8 347.3L392.4 339.8L400 333.3L424.8 312.5M319.4 446.6L329.5 429.4L337 415.9L342 406.3L357 376.3L362 367L367.1 358.7L372.2 351.5L377.3 345.5L379.8 342.9L384.9 338.3L402.5 324.8L414.9 315L419.8 311.4M314.7 443.3L327.2 421.3L332.2 412L337.2 402.1L349.6 376.1L354.6 366.2L359.6 357.3L364.7 349.7L369.8 343.5L372.3 340.9L377.4 336.5L382.5 332.8L395.1 324.7L410 313.5L414.9 310.5" fill="none" stroke="#000" stroke-width="0.7"/>
<path d="M410 496.8L417.1 493.6L432.9 487.1L438 484.6L441.5 482.7L446.6 479.4L451.7 475.5L456.8 471L461.8 465.7L465.2 461.9L470.3 455.4L475.4 448.3L480.5 440.6L489.1 426.4L506.3 396.6L513.1 385.6L506.1 377.2L490.3 357.1L481.6 346.9L476.3 341.4L471.1 336.4L467.6 333.4L462.4 329.3L457.2 325.8L452 322.7L446.8 320.1L440 317.2L433.2 314.9L424.8 312.5L418.2 311.1L410 309.7L408.3 310.3L405.1 312L401.8 314.3L395.2 319.5L390.2 323L385.2 325.8L376.8 330L371.7 333L368.2 335.5L364.8 338.6L359.7 344.5L354.7 351.9L349.7 360.9L344.7 371L333.2 396.3L328.3 406.7L323.3 416.2L313.3 433.8L310 440L321 447.7L333.8 456L346.7 464.1L358.2 470.8L371.7 478.2L383.6 484.4L395.8 490.3L410 496.8Z" fill="none" stroke="#000" stroke-width="0.9"/>
<path d="M303.4 327.5L310.4 445.9L410 511.4L509.6 445.9M309.5 432L311.1 431.1M308.7 417.8L310.3 416.9M307.8 403.4L309.5 402.5M307 388.7L308.6 387.8M306.1 373.8L307.8 372.9M305.2 358.7L306.9 357.8M304.3 343.2L306 342.4M303.4 327.5L305.1 326.7M410 511.4L413.2 509.3M394.9 501.5L398.1 499.5M380.1 491.8L383.3 489.8M365.6 482.3L368.8 480.3M351.4 472.9L354.6 471M337.4 463.7L340.6 461.8M323.8 454.8L327 452.9M310.4 445.9L313.5 444.1M410 511.4L406.8 509.3M420.6 504.5L417.4 502.4M431 497.6L427.8 495.6M441.3 490.8L438.1 488.8M451.5 484.2L448.3 482.2M461.5 477.6L458.3 475.6M471.4 471.1L468.2 469.1M481.1 464.7L477.9 462.7M490.7 458.3L487.5 456.5M500.2 452.1L497 450.2M509.6 445.9L506.4 444.1" fill="none" stroke="#222" stroke-width="0.8"/>
<g font-size="5.3" fill="#222" stroke="#222" stroke-width="0.12" font-style="italic"><text x="305.5" y="438.5" text-anchor="end" transform="rotate(-20 305.5 438.5)">50</text><text x="304.7" y="424.3" text-anchor="end" transform="rotate(-20 304.7 424.3)">100</text><text x="303.8" y="409.9" text-anchor="end" transform="rotate(-20 303.8 409.9)">150</text><text x="303" y="395.2" text-anchor="end" transform="rotate(-20 303 395.2)">200</text><text x="302.1" y="380.3" text-anchor="end" transform="rotate(-20 302.1 380.3)">250</text><text x="301.2" y="365.2" text-anchor="end" transform="rotate(-20 301.2 365.2)">300</text><text x="300.3" y="349.7" text-anchor="end" transform="rotate(-20 300.3 349.7)">350</text><text x="299.4" y="334" text-anchor="end" transform="rotate(-20 299.4 334)">400</text><text x="400.5" y="518.9" text-anchor="middle" transform="rotate(30 400.5 518.9)">0</text><text x="385.4" y="508.9" text-anchor="middle" transform="rotate(30 385.4 508.9)">10</text><text x="370.6" y="499" text-anchor="middle" transform="rotate(30 370.6 499)">20</text><text x="356.1" y="489.4" text-anchor="middle" transform="rotate(30 356.1 489.4)">30</text><text x="341.9" y="480" text-anchor="middle" transform="rotate(30 341.9 480)">40</text><text x="328" y="470.7" text-anchor="middle" transform="rotate(30 328 470.7)">50</text><text x="314.3" y="461.6" text-anchor="middle" transform="rotate(30 314.3 461.6)">60</text><text x="300.9" y="452.7" text-anchor="middle" transform="rotate(30 300.9 452.7)">70</text><text x="414.2" y="518.9" text-anchor="middle" transform="rotate(33 414.2 518.9)">30</text><text x="424.8" y="511.8" text-anchor="middle" transform="rotate(33 424.8 511.8)">40</text><text x="435.2" y="504.9" text-anchor="middle" transform="rotate(33 435.2 504.9)">50</text><text x="445.5" y="498.1" text-anchor="middle" transform="rotate(33 445.5 498.1)">60</text><text x="455.7" y="491.3" text-anchor="middle" transform="rotate(33 455.7 491.3)">70</text><text x="465.7" y="484.7" text-anchor="middle" transform="rotate(33 465.7 484.7)">80</text><text x="475.6" y="478.1" text-anchor="middle" transform="rotate(33 475.6 478.1)">90</text><text x="485.3" y="471.6" text-anchor="middle" transform="rotate(33 485.3 471.6)">100</text><text x="494.9" y="465.2" text-anchor="middle" transform="rotate(33 494.9 465.2)">110</text><text x="504.4" y="459" text-anchor="middle" transform="rotate(33 504.4 459)">120</text><text x="513.7" y="452.7" text-anchor="middle" transform="rotate(33 513.7 452.7)">130</text></g>
<g font-size="6.55" fill="#111" stroke="#111" stroke-width="0.4"><text x="338.5" y="491.6" text-anchor="middle" transform="rotate(33.3 338.5 491.6)">Pretreatment time [min]</text><text x="482.5" y="493.6" text-anchor="middle" transform="rotate(-33.3 482.5 493.6)">Pretreatment pressure [PSI]</text><g transform="translate(285.5 396.7) rotate(86.6)"><text x="0" y="0" text-anchor="middle">Glucose concentration</text><text x="4.5" y="11" text-anchor="middle">[mg/g biomass of beech chips]</text></g></g></g>
<g><path d="M582.4 445.1L575.4 326.7M592.9 439.1L586.7 321.1M603.3 433.1L597.9 315.5M613.6 427.1L608.9 310M623.7 421.3L619.8 304.5M633.8 415.5L630.5 299.2M643.7 409.8L641.1 293.9M653.4 404.2L651.5 288.7M663.1 398.7L661.8 283.5M672.6 393.2L671.9 278.5M682 387.8L682 273.4M781.6 445.1L788.6 326.7M766.5 436.5L772.4 318.6M751.8 428L756.6 310.7M737.3 419.6L741.1 303M723.1 411.5L725.9 295.4M709.1 403.4L711 287.9M695.4 395.5L696.3 280.6M682 387.8L682 273.4M582.4 445.1L682 387.8L781.6 445.1M581.5 431.2L682 374.3L782.4 431.2M580.7 417L682 360.5L783.2 417M579.8 402.6L682 346.6L784.1 402.6M579 387.9L682 332.4L785 387.9M578.1 373L682 318L785.8 373M577.2 357.9L682 303.4L786.7 357.9M576.3 342.4L682 288.6L787.6 342.4M575.4 326.7L682 273.4L788.6 326.7" fill="none" stroke="#dcdcdc" stroke-width="0.9"/>
<g fill="none" stroke-width="0.6" opacity="0.9"><path d="M582.5 445L591.3 451" stroke="#007838"/><path d="M685.5 508.3L682.4 508.6L679.8 509.2M584.6 443.9L597.2 452L622.4 469.2L641.7 480.5L655 487.3L667.2 492.8L676.3 495.9L682.4 497.1L685.7 497L688.4 496.4L694.9 493.9L726.9 476.9L749.7 463.8L780.3 444.4" stroke="#007838"/><path d="M586.8 442.6L602.9 452.6L624.8 467.7L639.2 475.6L649.9 480.5L659.9 484.2L669.6 486.6L677.8 487.4L681.2 487.3L687 486.5L694.4 484.6L708.7 479.5L724.2 473.2L734 468.7L744.9 463L778.7 443.5" stroke="#008c28"/><path d="M589.1 441.2L605.4 451.1L627.5 466L638.5 471.8L648.7 476.1L658.1 479.1L667.9 481L674.7 481.4L681.5 480.8L689.4 479.3L711.6 473.1L724.1 468.9L732.3 465.6L741.8 461.1L777.2 442.6" stroke="#008c28"/><path d="M591.6 439.8L608 449.6L628.9 463.2L637.9 468L646.3 471.5L655.3 474.1L663.1 475.7L670.8 476.2L677.2 475.9L685.3 474.5L710.7 469.1L722.3 465.7L730.7 462.6L738.7 459.2L775.7 441.8" stroke="#00a41c"/><path d="M593.7 438.6L608.5 447.3L629.7 460.6L638.8 465.4L647.1 468.6L654.1 470.6L660.5 471.8L668.4 472.5L675.5 472.2L683.3 471.1L707.2 466.9L719.3 463.9L728.1 461L736.3 457.8L763 445.9L774.6 441.1" stroke="#00a41c"/><path d="M595.8 437.4L630.6 458.1L639.8 462.7L646.1 465.1L653.1 467.1L661 468.4L667.2 468.9L674.2 468.7L682.4 467.8L704.4 464.7L716.4 462.1L723.3 460.1L731.8 457.2L761.4 445L773.4 440.5" stroke="#00bc10"/><path d="M598.1 436.1L626.3 452.6L635.2 457.3L641 459.9L647.4 462.2L654.6 464L660 464.9L667.5 465.4L677.3 465.2L696.6 463.2L705.9 461.9L716 459.8L722.9 457.9L731.5 454.9L757.9 444.9L772.3 439.8" stroke="#00bc10"/><path d="M600.4 434.8L621.8 447.4L632.5 452.9L640.2 456.4L646.5 458.6L653.6 460.5L661.7 461.8L669.2 462.2L678 462.1L693.2 461L705.5 459.6L713.2 458.1L727.9 454L754.2 444.6L771.1 439.1" stroke="#00d408"/><path d="M602.7 433.4L613.9 440.3L622.4 445L633.4 450.4L641.3 453.6L647.8 455.8L655.1 457.5L663.2 458.7L672.5 459.3L682.7 459.1L696.7 458.3L705.9 457.3L713.1 456L726.9 452.2L752.5 443.7L770 438.4" stroke="#00d408"/><path d="M605.1 432L614.5 438L621.2 441.8L631.1 446.5L640.3 450.2L649.1 453L656.4 454.7L664.5 455.8L673.6 456.5L683.5 456.6L694.1 456.2L702.3 455.6L710.5 454.4L724.6 450.8L750.9 442.7L768.8 437.8" stroke="#08f008"/><path d="M607.6 430.6L616.9 436.6L623.6 440.4L633 444.7L641.1 447.7L650.1 450.3L657.5 451.9L665.6 453.1L677.5 454.1L687.3 454.2L696.3 453.9L705.1 453.2L710.4 452.3L724.8 448.9L749.2 441.7L767.6 437.1" stroke="#08f008"/><path d="M610.1 429.2L617.7 434.2L624.8 438.4L631.6 441.5L641.9 445.3L651 447.8L660.9 449.8L669.1 451L681 451.9L698 451.7L710.5 450.3L722.7 447.6L749.9 440.2L766.4 436.4" stroke="#60ff08"/><path d="M612.7 427.7L620.2 432.8L626.8 436.6L634.3 440L642.6 442.9L651.7 445.4L661.6 447.4L672.5 448.9L681.3 449.6L697.9 449.7L710.5 448.4L723 445.8L748.3 439.3L765.2 435.7" stroke="#60ff08"/><path d="M615.3 426.2L622.7 431.3L629.3 435.1L634.9 437.6L643.1 440.6L652.2 443.1L662 445.2L672.7 446.7L681.4 447.5L689.7 447.8L697.7 447.7L710.8 446.5L723.4 444.1L746.8 438.4L763.9 435" stroke="#b0ff08"/><path d="M617.8 424.7L623.6 428.9L630.1 432.8L635.5 435.3L643.6 438.3L652.6 440.9L662.3 443L672.9 444.6L684.4 445.7L699.7 445.8L712.9 444.4L723.9 442.4L747.7 437L762.6 434.2" stroke="#b0ff08"/><path d="M620.5 423.2L626.1 427.4L632.6 431.3L638 433.8L646.2 436.8L655.2 439.3L665 441.3L675.7 442.9L684.3 443.7L693.5 444.1L700 444L712 443L720.9 441.6L743.7 436.6L761.3 433.5" stroke="#e8ff08"/><path d="M623.1 421.7L628.6 426L633.3 428.9L638.6 431.6L646.6 434.6L655.5 437.1L665.2 439.2L675.6 440.9L684.1 441.8L699.9 442.2L712.2 441.3L720.2 440.2L742.2 435.7L760 432.7" stroke="#e8ff08"/><path d="M625.7 420.2L631.1 424.5L635.8 427.5L641.1 430.1L647 432.4L655.7 435L665.3 437.2L675.6 438.9L683.9 439.9L699.4 440.5L712.8 439.7L720.8 438.6L740.6 434.8L758.7 431.9" stroke="#ffee08"/><path d="M628.4 418.6L632.2 422L636.7 425.1L643.6 428.6L649.5 430.9L658.3 433.5L665.4 435.2L675.5 437L683.7 438L698.9 438.8L705.7 438.7L713.1 438.2L721.5 437L741.6 433.4L757.3 431.1" stroke="#ffee08"/><path d="M631.1 417.1L634.8 420.5L639.2 423.6L646.1 427.2L652 429.4L660.8 432L667.9 433.6L678.1 435.4L686.4 436.4L701.7 437.1L712.2 436.7L720.3 435.7L740 432.5L755.9 430.3" stroke="#ffc008"/><path d="M633.3 415.8L637 419.2L641.4 422.3L646.4 425.1L652 427.5L660.6 430.2L667.6 431.9L676.1 433.5L685.7 434.8L695.9 435.5L710.8 435.5L718.7 434.7L754.7 429.7" stroke="#ffc008"/><path d="M635.6 414.5L639.3 417.9L643.5 421.1L648.5 423.9L654.1 426.3L661.8 428.7L669.6 430.6L677.1 432L687.8 433.5L700.2 434.2L713 434L753.5 429" stroke="#ff8808"/><path d="M637.9 413.1L641.5 416.6L645.8 419.8L654.3 424.3L660.3 426.5L667 428.3L674.2 429.8L681.9 431L694 432.4L710.8 432.6L723.8 431.5L752.3 428.3" stroke="#ff8808"/><path d="M640.3 411.8L643.9 415.2L648.1 418.4L652.9 421.3L656.5 423L660.5 424.5L667 426.3L679.2 428.8L694.3 430.7L708.1 431.1L726.3 429.9L751 427.5" stroke="#ff5008"/><path d="M642.8 410.3L649.1 416L652.1 418L657.1 420.7L660.9 422.3L667.3 424.2L677.6 426.5L694.1 428.6L707.9 429.2L725.1 428.6L749.7 426.8" stroke="#ff5008"/><path d="M645.3 408.9L651.8 414.4L658.1 418.2L665.9 421.2L676.5 423.9L693.6 426L708 427.2L727.5 427.2L737.8 426.8L748.4 426" stroke="#ff1808"/><path d="M647.7 407.5L654.3 412.9L658.9 415.8L664.7 418.1L675.7 421.2L705.1 425L710.8 425.4L732.6 426L747.2 425.3" stroke="#ff1808"/><path d="M650.1 406.1L657.1 411.3L661.9 414.1L665.8 415.6L676.9 418.5L689.4 419.9L710.5 423.7L731.1 425L737.5 425L745.9 424.6" stroke="#e40c0c"/><path d="M652.6 404.7L660.3 409.4L665.5 412L669.5 413.4L678.5 415.7L692.6 418L707.5 421.5L712.7 422.3L729.6 423.9L738.5 424.1L744.6 423.9" stroke="#e40c0c"/><path d="M655.2 403.2L665.4 408.4L673.1 411.3L691.7 415.6L709.5 420.3L717.1 421.6L725.3 422.5L734.1 423.1L743.3 423.1" stroke="#c40c0c"/><path d="M660.5 400.2L667.4 403.5L676.6 407.4L710.4 417.8L717.5 419.3L725.3 420.5L733.8 421.3L740.5 421.5" stroke="#c40c0c"/><path d="M665.7 397.1L673.6 401.7L680.6 405L708.8 414.8L715.4 416.7L722.7 418.2L730.6 419.2L737.5 419.8" stroke="#aa0c0c"/><path d="M670.5 394.4L674.3 397.6L680.4 401.4L685.6 403.9L693.2 406.9L709.2 412.7L715.6 414.6L725.1 416.7L734.2 417.9" stroke="#aa0c0c"/><path d="M674.6 392L677.8 395.6L681.9 398.7L686.7 401.4L692 403.9L713.6 412L722.5 414.3L730.5 415.7" stroke="#960c0c"/><path d="M678 390.1L679.7 392.7L683.3 396.1L687.7 399L692.6 401.7L699.9 404.9L711.6 409.3L717.9 411.3L726.2 413.3" stroke="#960c0c"/><path d="M680.8 388.5L682.5 391.1L685.9 394.5L688.6 396.6L693.3 399.4L700.2 402.8L707.7 405.9L714.5 408.4L721.1 410.3" stroke="#8a0808"/><path d="M684.9 389.5L687.2 392L689.7 394.2L695.6 398.1L704.1 402.4L714.2 406.3" stroke="#8a0808"/></g>
<g stroke="none" fill-rule="evenodd"><path d="M682 500.5L696.1 493.1L710 484.8L725.3 475L761.5 451L772.6 444L782 438.5L767.7 396.6L762.9 383.4L758 370.8L753.1 359.1L748.1 348.4L743 338.7L737.9 329.9L732.8 322.1L726 313L719.1 305.3L712.3 299L705.4 293.8L702.1 291.7L698.7 289.9L695.3 288.4L691.9 287.4L688.6 286.8L686.9 286.6L683.6 286.8L682 287.1L677 295.9L672.1 303.2L667.1 309.7L653.8 325.8L647.1 334.2L640.4 343.1L633.7 352.6L625.4 365L615.3 380.5L605.2 396.3L598.5 407.2L593.5 415.8L588.5 425.1L585.3 431.9L582 439.2L613.8 459.1L647.1 481.2L657.4 487.8L664.3 491.9L671.3 495.7L676.6 498.3L682 500.5Z" fill="#00644a"/><path d="M683.8 499.6L697.9 492.1L711.7 483.8L761.5 451L782 438.5L767.7 396.6L761.3 379.1L756.4 366.8L751.4 355.5L746.4 345.1L741.3 335.6L734.5 324.6L727.7 315.1L720.8 307.1L714 300.4L707.1 295L700.4 290.7L693.6 287.9L690.3 287L686.9 286.6L682 287.1L677 295.9L672.1 303.2L643.8 338.6L633.7 352.6L623.7 367.6L606.9 393.6L596.8 410L588.5 425.1L582.1 438.8L591 444.8L617 461.2L657.4 487.8L671.3 495.7L682 500.5Z" fill="#007838"/><path d="M769.4 436.8L779.5 431.1L767.7 396.6L758 370.8L753.1 359.1L748.1 348.4L739.6 332.7L732.8 322.1L726 313L719.1 305.3L710.6 297.6L702.1 291.7L695.3 288.4L691.9 287.4L688.6 286.8L685.3 286.6L682 287.1L677 295.9L672.1 303.2L645.5 336.4L637.1 347.8L628.7 360L613.6 383.1L600.2 404.4L591.8 418.9L586.1 430.1L602.3 440.1L624.4 455.1L638.9 463L649.6 467.8L659.8 471.5L669.5 473.9L677.8 474.7L684.2 474.3L692.1 472.7L703.4 468.9L720.5 462.3L730.5 457.9L739.9 453.3L768.6 437.2Z" fill="#008c28"/><path d="M771.1 425.5L776.8 423.1L767.7 396.6L759.7 374.9L751.4 355.5L744.7 341.8L736.2 327.2L729.4 317.3L722.5 309L715.7 302L708.9 296.2L700.4 290.7L693.6 287.9L690.3 287L686.9 286.6L682 287.1L677 295.9L672.1 303.2L667.1 309.7L647.1 334.2L632.1 355L620.3 372.7L605.2 396.3L596.8 410L590.6 421.1L607.2 430.8L628.3 444.2L637.4 449.1L645.7 452.4L652.6 454.5L662.8 456.6L670.7 457.2L677.1 456.9L685.3 455.5L708.5 450.7L720.5 447.5L729.2 444.5L737.3 441.2L769.4 426.3Z" fill="#00a41c"/><path d="M772.7 417.6L774.7 416.9L764.5 387.7L756.4 366.8L749.7 351.9L744.7 341.8L739.6 332.7L732.8 322.1L726 313L719.1 305.3L712.3 299L705.4 293.8L698.7 289.9L693.6 287.9L690.3 287L686.9 286.6L682 287.1L677 295.9L672.1 303.2L667.1 309.7L647.1 334.2L633.7 352.6L610.3 388.3L594.6 413.9L629.9 434.3L639.2 438.9L645.5 441.3L652.7 443.2L660.7 444.6L667 445L674.1 444.8L682.4 444L704.8 440.8L716.9 438.3L723.9 436.4L732.5 433.4L771.8 418Z" fill="#00bc10"/><path d="M772.6 410.7L761.3 379.1L751.4 355.5L746.4 345.1L741.3 335.6L736.2 327.2L731.1 319.6L726 313L719.1 305.3L712.3 299L705.4 293.8L698.7 289.9L693.6 287.9L690.3 287L686.9 286.6L682 287.1L677 295.9L672.1 303.2L665.5 311.8L648.8 332L635.4 350.2L618.7 375.3L599 406.4L620.7 418.8L631.6 424.3L639.4 427.7L645.9 430L653.1 431.8L661.3 433L667.5 433.4L677.9 433.4L693.4 432.3L705.9 430.9L713.8 429.5L728.7 425.3L755.4 416.2L772.2 410.9Z" fill="#00d408"/><path d="M768.2 405.1L770.5 404.5L762.9 383.4L754.7 362.9L748.1 348.4L743 338.7L737.9 329.9L731.1 319.6L726 313L719.1 305.3L712.3 299L705.4 293.8L698.7 289.9L693.6 287.9L690.3 287L686.9 286.6L682 287.1L677 295.9L672.1 303.2L665.5 311.8L648.8 332L635.4 350.2L622 370.1L603.6 398.8L613.2 404.7L620 408.4L630 413.1L639.4 416.7L648.4 419.5L655.9 421.1L664.2 422.2L673.4 422.9L683.5 423L694.4 422.6L702.7 422L711 420.8L725.5 417.3L752.2 409.3L766.3 405.6Z" fill="#08f008"/><path d="M768.3 398.2L758 370.8L753.1 359.1L748.1 348.4L743 338.7L737.9 329.9L732.8 322.1L727.7 315.1L722.5 309L715.7 302L708.9 296.2L703.7 292.7L697 289.1L691.9 287.4L686.9 286.6L682 287.1L677 295.9L670.4 305.5L648.8 332L637.1 347.8L625.4 365L608.5 391.1L617.9 397.1L624.8 400.7L632.5 404L641 406.9L650.3 409.4L660.5 411.4L668.8 412.5L681 413.4L698.4 413.2L711.1 411.9L723.6 409.2L751.4 402L766.5 398.6Z" fill="#60ff08"/><path d="M763.5 392.2L766 391.7L758 370.8L751.4 355.5L746.4 345.1L739.6 332.7L734.5 324.6L727.7 315.1L722.5 309L715.7 302L708.9 296.2L703.7 292.7L697 289.1L691.9 287.4L686.9 286.6L682 287.1L677 295.9L670.4 305.5L650.5 329.9L638.8 345.4L628.7 360L613.6 383.2L621.1 388.2L628 391.9L633.7 394.3L642.1 397.2L651.4 399.7L661.5 401.7L672.5 403.2L681.4 404L698.1 404.2L710.1 403.2L722 401.2L746 395.6L761.6 392.5Z" fill="#b0ff08"/><path d="M763.6 385.2L754.7 362.9L749.7 351.9L744.7 341.8L736.2 327.2L731.1 319.6L726 313L720.8 307.1L715.7 302L708.9 296.2L703.7 292.7L698.7 289.9L693.6 287.9L688.6 286.8L683.6 286.8L682 287.1L677 295.9L670.4 305.5L650.5 329.9L642.1 340.8L632.1 355L618.7 375.2L624.5 379.3L631.2 383L636.8 385.5L645.2 388.4L654.4 390.8L664.6 392.8L675.5 394.4L684.4 395.1L697.4 395.5L704.7 395.2L712.9 394.4L722 393L745.5 388.2L761.7 385.5Z" fill="#e8ff08"/><path d="M758.4 378.9L761.1 378.5L754.7 362.9L748.1 348.4L743 338.7L737.9 329.9L732.8 322.1L726 313L720.8 307.1L715.7 302L708.9 296.2L703.7 292.7L698.7 289.9L693.6 287.9L688.6 286.8L683.6 286.8L682 287.1L677 295.9L672.1 303.2L643.8 338.6L635.4 350.2L624 367.1L629.5 371.4L634.4 374.2L639.9 376.8L645.9 379L654.9 381.5L664.7 383.7L675.4 385.3L684 386.3L700 386.9L711 386.4L722 385L742.5 381.3L757.3 379.1Z" fill="#ffee08"/><path d="M758.4 371.8L749.7 351.9L741.3 335.6L732.8 322.1L727.7 315.1L722.5 309L717.4 303.6L712.3 299L707.1 295L702.1 291.7L697 289.1L691.9 287.4L686.9 286.6L683.6 286.8L682 287.1L677 295.9L672.1 303.2L645.5 336.4L637.1 347.8L629.4 359L633.2 362.3L637.8 365.3L643 367.9L648.9 370.3L655.4 372.3L664.9 374.5L675.3 376.3L683.6 377.4L699 378.3L713.2 378L721.6 377L742 373.9L757.4 372Z" fill="#ffc008"/><path d="M753.3 366.6L756.1 366.3L749.7 351.9L744.7 341.8L739.6 332.7L734.5 324.6L729.4 317.3L724.2 310.9L719.1 305.3L714 300.4L707.1 295L702.1 291.7L697 289.1L691.9 287.4L686.9 286.6L683.6 286.8L682 287.1L677 295.9L672.1 303.2L667.1 309.7L647.1 334.2L633.9 352.3L637.7 355.6L642.1 358.7L647.3 361.4L653.1 363.7L659.6 365.7L666.7 367.4L676.8 369.2L685.2 370.3L694 371.1L710.7 371.3L722.7 370.2L752.5 366.7Z" fill="#ff8808"/><path d="M753.7 360.7L746.4 345.1L737.9 329.9L729.4 317.3L720.8 307.1L715.7 302L710.6 297.6L705.4 293.8L700.4 290.7L695.3 288.4L691.9 287.4L686.9 286.6L683.6 286.8L682 287.1L677 295.9L670.4 305.5L650.5 329.9L638.7 345.5L642.4 348.8L646.8 351.9L651.8 354.6L655.5 356.3L659.6 357.7L666.5 359.5L679 361.9L693.1 363.5L709.2 364.1L728.1 363L752.1 360.9Z" fill="#ff5008"/><path d="M748.3 355.2L751.2 355L746.4 345.1L741.3 335.6L736.2 327.2L731.1 319.6L726 313L720.8 307.1L715.7 302L710.6 297.6L705.4 293.8L700.4 290.7L695.3 288.4L691.9 287.4L686.9 286.6L683.6 286.8L682 287.1L677 295.9L670.4 305.5L652.1 327.8L643.8 338.5L650.5 343.8L657.1 347.5L665.2 350.4L676.3 352.9L694.1 354.9L709 356.1L729.4 356.1L747.7 355.3Z" fill="#ff1808"/><path d="M748.7 349.8L741.3 335.6L734.5 324.6L726 313L717.4 303.6L708.9 296.2L700.4 290.7L695.3 288.4L691.9 287.4L688.6 286.8L685.3 286.6L682 287.1L677 295.9L672.1 303.2L665.5 311.8L648.7 332.1L656.1 337L661 339.7L665.1 341.2L676.7 344L689.7 345.3L711.7 348.9L730 350.1L739.9 350.2L747.2 349.9Z" fill="#e40c0c"/><path d="M746.1 344.5L737.9 329.9L731.1 319.6L724.2 310.9L715.7 302L707.1 295L702.1 291.7L698.7 289.9L691.9 287.4L688.6 286.8L685.3 286.6L682 287.1L677 295.9L672.1 303.2L665.5 311.8L654 325.5L664.6 330.5L672.7 333.3L692.2 337.4L708.3 341.4L713.3 342.3L724.4 343.7L733.3 344.4L743.1 344.6Z" fill="#c40c0c"/><path d="M740.3 333.9L734.5 324.6L727.7 315.1L720.8 307.1L714 300.4L707.1 295L700.4 290.7L693.6 287.9L690.3 287L686.9 286.6L682 287.1L675.4 298.4L670.4 305.5L664.9 312.5L673.1 316.8L680.5 319.9L710.2 329.2L717.1 331L724.7 332.4L739 333.8Z" fill="#aa0c0c"/><path d="M733.1 322.6L727.7 315.1L722.5 309L717.4 303.6L710.6 297.6L703.7 292.7L698.7 289.9L693.6 287.9L688.6 286.8L685.3 286.6L682 287.1L678.7 293.1L674.2 300.3L677.6 303.6L680.4 305.6L685.2 308.3L690.6 310.7L698.5 313.6L717.5 319.6L724.7 321.3L732.6 322.5Z" fill="#960c0c"/><path d="M723.3 309.9L715.7 302L707.1 295L702.1 291.7L698.7 289.9L691.9 287.4L686.9 286.6L682 287.1L680.7 289.5L682.5 291.9L686.1 295.1L692.2 298.9L699.4 302.1L711.3 306.5L722.2 309.6Z" fill="#8a0808"/></g>
<path d="M687.3 497.8L676.7 491.4L666.2 484.3L655.8 476.5L635.4 460.5L625.4 453.2L603.5 439.8L594 433.5L586.9 428.4M692.6 495L682 487.2L674.1 481L663.6 472.2L643.1 454.1L635.6 448L628.1 442.7L613.4 433.5L603.7 427.1L591.8 418.9M697.9 492.1L682 478.5L674.1 471.2L653.4 451.5L645.8 444.6L640.7 440.4L630.8 433L596.8 410M703.1 489L692.5 479.1L684.6 471.5L669 455.4L658.7 445.1L651 437.9L645.9 433.5L635.9 425.4L621.1 414.4L613.8 409.3L601.9 401.7M708.3 485.9L689.8 467.1L671.6 447.4L663.9 439.3L658.8 434.1L651.1 427L636.1 414L623.8 404.3L616.5 399.3L606.9 393.6M713.4 482.7L692.4 460L676.8 442.1L669.1 433.6L661.4 425.6L653.8 418.1L638.7 404.4L628.8 396.2L621.5 391.1L611.9 385.7M718.6 479.4L694.9 452.6L682 436.8L674.2 427.8L666.6 419.4L656.4 408.9L643.8 396.6L638.9 392.2L633.9 388.1L626.6 383.1L621.8 380.3L617 377.9M723.6 476.1L702.7 450.8L687.1 431.2L679.4 421.7L666.6 407.2L656.5 396.3L646.4 386.4L639 380.1L631.6 375L626.8 372.3L622 370.1M728.7 472.8L710.4 449.3L687.1 418.6L674.3 402.9L664.1 391.3L654 380.8L649 376.1L644.1 372L639.1 368.5L636.7 367L631.8 364.4L627 362.5M733.7 469.5L715.5 444.4L700 422.5L689.7 408.6L679.4 395.4L669.2 383.4L664.2 377.9L659.1 372.8L654.1 368.1L649.1 364L644.2 360.7L641.7 359.3L636.9 356.9L632.1 355M738.7 466.2L720.5 439.6L707.6 420.2L697.3 405.2L687.1 391.1L682 384.6L676.9 378.4L666.7 367.3L661.7 362.5L656.7 358.2L651.7 354.7L646.8 351.9L641.9 349.6L637.1 347.8M743.6 462.8L725.6 434.8L710.1 410.3L699.9 394.5L692.2 383.6L684.5 373.7L679.4 367.7L674.3 362.3L669.3 357.5L661.8 351.3L656.8 347.9L651.9 345L647 342.7L642.1 340.8M748.5 459.5L725.4 421.8L707.5 391.3L699.8 379.6L692.2 369.1L687.1 363.4L682 358.2L676.9 353.4L671.9 349.2L664.3 343.5L659.4 340.2L654.5 337.6L647.1 334.2M753.4 456.3L730.5 416.7L712.6 384.1L707.5 375.9L704.9 372.1L699.8 365.4L697.2 362.4L692.1 357.1L676.9 343.8L669.4 338.2L664.4 334.8L652.1 327.8M758.3 453.1L738 416.3L720.2 381.6L715.1 372.7L712.6 368.7L710 365.2L704.9 359.1L699.7 353.9L682 338.8L671.9 331.1L664.5 326.3L657.2 321.8M763.1 450L742.9 411.1L730.4 384.9L725.3 374.8L722.7 370.2L717.6 362.4L712.5 355.9L707.4 350.5L702.2 345.9L687 333L679.5 326.9L674.5 323.3L667.1 318.6L662.1 315.8M767.9 447L750.4 410.8L737.9 383.4L732.9 372.8L727.8 363.4L725.2 359.5L720.1 352.7L712.4 343.7L707.3 338.8L689.5 323.5L684.5 319.5L679.5 316L674.5 313.2L667.1 309.7M772.6 444L762.8 421.9L745.4 381.7L740.4 370.6L735.4 360.6L732.8 356.2L727.7 348.5L720 338.4L714.9 332.6L707.2 325.3L694.5 314.4L689.5 310.7L684.5 307.7L679.5 305.4L677 304.5L672.1 303.2M777.3 441.2L760.3 397.9L752.9 379.5L748 367.8L743 357.1L740.4 352.3L735.4 343.6L730.2 335.9L725.1 328.8L722.6 325.6L717.4 319.9L709.7 312.5L704.6 308.1L699.5 304.2L694.5 300.8L692 299.4L686.9 297.3L682 296.1L677 295.9M676.6 498.3L705.6 478.8L720.9 468L765.3 434.9L772.5 429L777.3 424.5M671.3 495.7L687.2 483.1L713.1 463.5L753 430.7L760.3 424.2L765.2 419.4L770.1 413.7L772.5 410.4M666.1 492.9L682 478.5L707.9 457.2L748 421L752.9 416.1L757.8 410.5L762.8 404.1L767.7 396.6M660.8 489.9L668.8 481.5L676.7 473.7L682 468.8L697.5 455.6L702.7 450.8L740.5 413.8L747.9 405.5L752.9 399.2L757.9 391.8L762.9 383.4M655.7 486.7L663.6 477.4L671.5 468.7L679.4 461L689.7 451.9L694.9 447L725.4 414.8L732.9 406.7L740.4 397.8L745.4 391.2L750.4 383.6L758 370.8M650.5 483.4L658.4 473.2L666.3 463.7L671.5 458.1L687.1 443.1L692.3 437.7L717.8 408.8L722.8 402.8L732.9 390.2L740.4 379.8L745.5 372L753.1 359.1M645.4 480.1L653.3 468.9L661.1 458.7L666.4 452.8L682 436.8L687.1 431.2L694.8 422.1L712.7 399.9L727.8 379.7L735.4 369.2L740.4 361.3L748.1 348.4M640.3 476.7L648.1 464.6L650.8 460.8L656 453.9L661.2 447.6L676.8 430.7L682 424.8L689.7 415.3L697.3 405.2L730.3 359.9L735.4 352.1L743 338.7M635.3 473.3L643.1 460.3L648.3 452.6L656.1 442.7L671.7 424.9L679.4 415.5L689.6 401.6L710 372.2L712.6 368.7L722.7 356L727.7 348.5L730.3 344.3L737.9 329.9M630.2 470L638 456.1L643.2 448.2L651 437.9L664 422.5L671.7 412.9L682 398.6L702.4 368.7L707.4 362L715 352.9L717.5 349.6L720.1 345.8L725.1 337L732.8 322.1M625.3 466.6L630.4 456.8L633 452.3L635.6 448L640.7 440.4L645.9 433.5L661.5 414.1L666.6 407.2L674.3 396.1L689.6 372.9L694.7 365.6L699.8 359.3L707.4 350.5L712.4 343.7L714.9 339.7L720 330.6L727.7 315.1M620.3 463.4L622.9 458.1L628 448.7L630.6 444.4L635.7 436.5L640.9 429.3L653.8 412.4L659 405.3L666.7 394.1L682 370.7L687.1 363.4L692.1 357.1L699.7 348.9L702.2 345.9L707.3 338.8L709.8 334.6L714.9 325.1L722.5 309M615.4 460.2L617.9 455L623 445.5L630.8 433L635.9 425.4L653.9 400.1L676.9 364.9L679.4 361.4L684.5 355.2L692.1 347.4L697.1 341.6L699.6 338.2L702.2 334.4L704.7 330.1L709.7 320.2L717.4 303.6M610.5 457L618.1 442.6L625.8 429.6L630.9 421.6L648.9 395.1L669.3 363.5L671.8 359.8L676.9 353.4L679.4 350.6L687 343L692 337.3L694.6 333.9L697.1 330.1L702.1 320.9L707.2 310.3L712.3 299M605.7 454L615.8 435L623.5 422L661.7 362.5L666.8 355.3L671.9 349.2L676.9 343.8L682 338.8L687 333L689.5 329.5L692 325.6L694.5 321.3L699.6 311.4L707.1 295M600.9 451L611 431.9L621.1 414.4L649.1 370L656.7 358.2L659.2 354.6L664.3 348.3L679.5 332L682 328.9L687 321.4L689.5 317.1L694.5 307.6L702.1 291.7M596.1 448L606.1 428.7L613.7 415.2L621.3 402.5L641.6 370.2L649.2 358.4L656.8 347.9L661.9 341.7L669.4 333.8L674.5 328.2L679.5 321.5L682 317.7L687 309.1L692 299.4L697 289.1M591.4 445.1L601.4 425.5L608.9 412L619 395.2L636.7 367L644.3 355.5L651.9 345L656.9 338.8L667 327.8L672 321.7L674.5 318.2L679.5 310.6L682 306.4L686.9 297.3L691.9 287.4M586.7 442.1L594.1 427L599.1 417.7L604.1 408.9L614.2 392.3L631.8 364.4L639.4 353.2L647 342.7L652 336.4L664.6 321.7L672 311.9L677 304.5L679.5 300.4L682 296.1L686.9 286.6" fill="none" stroke="#000" stroke-width="0.7"/>
<path d="M682 500.5L696.1 493.1L710 484.8L725.3 475L761.5 451L772.6 444L782 438.5L767.7 396.6L762.9 383.4L758 370.8L753.1 359.1L748.1 348.4L743 338.7L737.9 329.9L732.8 322.1L726 313L719.1 305.3L712.3 299L705.4 293.8L702.1 291.7L698.7 289.9L695.3 288.4L691.9 287.4L688.6 286.8L686.9 286.6L683.6 286.8L682 287.1L677 295.9L672.1 303.2L667.1 309.7L653.8 325.8L647.1 334.2L640.4 343.1L633.7 352.6L625.4 365L615.3 380.5L605.2 396.3L598.5 407.2L593.5 415.8L588.5 425.1L585.3 431.9L582 439.2L613.8 459.1L647.1 481.2L657.4 487.8L664.3 491.9L671.3 495.7L676.6 498.3L682 500.5Z" fill="none" stroke="#000" stroke-width="0.9"/>
<path d="M575.4 326.7L582.4 445.1L682 510.6L781.6 445.1M581.5 431.2L583.1 430.3M580.7 417L582.3 416.1M579.8 402.6L581.5 401.7M579 387.9L580.6 387M578.1 373L579.8 372.1M577.2 357.9L578.9 357M576.3 342.4L578 341.6M575.4 326.7L577.1 325.9M682 510.6L685.2 508.5M666.9 500.7L670.1 498.7M652.1 491L655.3 489M637.6 481.5L640.8 479.5M623.4 472.1L626.6 470.2M609.4 462.9L612.6 461M595.8 454L599 452.1M582.4 445.1L585.5 443.3M682 510.6L678.8 508.5M692.6 503.7L689.4 501.6M703 496.8L699.8 494.8M713.3 490L710.1 488M723.5 483.4L720.3 481.4M733.5 476.8L730.3 474.8M743.4 470.3L740.2 468.3M753.1 463.9L749.9 461.9M762.7 457.5L759.5 455.7M772.2 451.3L769 449.4M781.6 445.1L778.4 443.3" fill="none" stroke="#222" stroke-width="0.8"/>
<g font-size="5.3" fill="#222" stroke="#222" stroke-width="0.12" font-style="italic"><text x="577.5" y="437.7" text-anchor="end" transform="rotate(-20 577.5 437.7)">50</text><text x="576.7" y="423.5" text-anchor="end" transform="rotate(-20 576.7 423.5)">100</text><text x="575.8" y="409.1" text-anchor="end" transform="rotate(-20 575.8 409.1)">150</text><text x="575" y="394.4" text-anchor="end" transform="rotate(-20 575 394.4)">200</text><text x="574.1" y="379.5" text-anchor="end" transform="rotate(-20 574.1 379.5)">250</text><text x="573.2" y="364.4" text-anchor="end" transform="rotate(-20 573.2 364.4)">300</text><text x="572.3" y="348.9" text-anchor="end" transform="rotate(-20 572.3 348.9)">350</text><text x="571.4" y="333.2" text-anchor="end" transform="rotate(-20 571.4 333.2)">400</text><text x="672.5" y="518.1" text-anchor="middle" transform="rotate(30 672.5 518.1)">0</text><text x="657.4" y="508.1" text-anchor="middle" transform="rotate(30 657.4 508.1)">10</text><text x="642.6" y="498.2" text-anchor="middle" transform="rotate(30 642.6 498.2)">20</text><text x="628.1" y="488.6" text-anchor="middle" transform="rotate(30 628.1 488.6)">30</text><text x="613.9" y="479.2" text-anchor="middle" transform="rotate(30 613.9 479.2)">40</text><text x="600" y="469.9" text-anchor="middle" transform="rotate(30 600 469.9)">50</text><text x="586.3" y="460.8" text-anchor="middle" transform="rotate(30 586.3 460.8)">60</text><text x="572.9" y="451.9" text-anchor="middle" transform="rotate(30 572.9 451.9)">70</text><text x="686.2" y="518.1" text-anchor="middle" transform="rotate(33 686.2 518.1)">30</text><text x="696.8" y="511" text-anchor="middle" transform="rotate(33 696.8 511)">40</text><text x="707.2" y="504.1" text-anchor="middle" transform="rotate(33 707.2 504.1)">50</text><text x="717.5" y="497.3" text-anchor="middle" transform="rotate(33 717.5 497.3)">60</text><text x="727.7" y="490.5" text-anchor="middle" transform="rotate(33 727.7 490.5)">70</text><text x="737.7" y="483.9" text-anchor="middle" transform="rotate(33 737.7 483.9)">80</text><text x="747.6" y="477.3" text-anchor="middle" transform="rotate(33 747.6 477.3)">90</text><text x="757.3" y="470.8" text-anchor="middle" transform="rotate(33 757.3 470.8)">100</text><text x="766.9" y="464.4" text-anchor="middle" transform="rotate(33 766.9 464.4)">110</text><text x="776.4" y="458.2" text-anchor="middle" transform="rotate(33 776.4 458.2)">120</text><text x="785.7" y="451.9" text-anchor="middle" transform="rotate(33 785.7 451.9)">130</text></g>
<g font-size="6.55" fill="#111" stroke="#111" stroke-width="0.4"><text x="610.5" y="490.8" text-anchor="middle" transform="rotate(33.3 610.5 490.8)">Pretreatment time [min]</text><text x="754.5" y="492.8" text-anchor="middle" transform="rotate(-33.3 754.5 492.8)">Pretreatment pressure [PSI]</text><g transform="translate(557.5 395.9) rotate(86.6)"><text x="0" y="0" text-anchor="middle">Glucose concentration</text><text x="4.5" y="11" text-anchor="middle">[mg/g biomass of beech chips]</text></g></g></g>
<text x="4.3" y="18.9" font-size="25.3" font-weight="bold" fill="#000" stroke="#000" stroke-width="0.3">A</text>
<text x="267" y="20" font-size="25.3" font-weight="bold" fill="#000" stroke="#000" stroke-width="0.3">B</text>
<text x="539.9" y="20.1" font-size="25.3" font-weight="bold" fill="#000" stroke="#000" stroke-width="0.3">C</text>
<text x="5.4" y="283.2" font-size="25.3" font-weight="bold" fill="#000" stroke="#000" stroke-width="0.3">D</text>
<text x="269.3" y="284" font-size="25.3" font-weight="bold" fill="#000" stroke="#000" stroke-width="0.3">E</text>
<text x="544.3" y="284.7" font-size="25.3" font-weight="bold" fill="#000" stroke="#000" stroke-width="0.3">F</text>
</svg></body></html>
